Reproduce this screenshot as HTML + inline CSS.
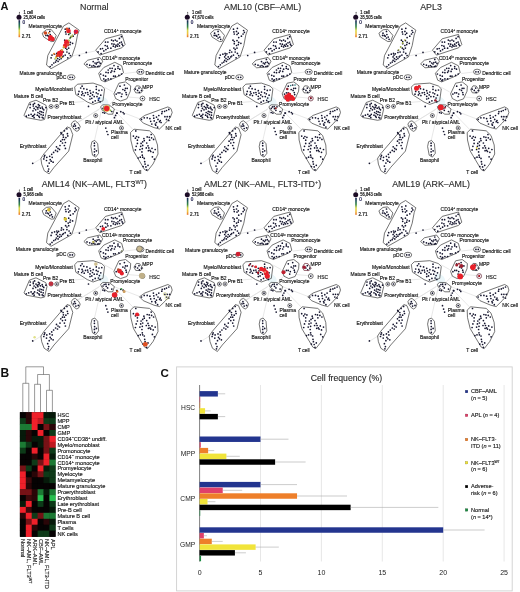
<!DOCTYPE html>
<html><head><meta charset="utf-8"><style>
html,body{margin:0;padding:0;background:#fff;}
svg{display:block;filter:blur(0.45px);}
</style></head><body>
<svg width="520" height="592" viewBox="0 0 520 592" font-family='"Liberation Sans", sans-serif'>
<rect width="520" height="592" fill="#fff"/>
<text x="0.5" y="10.3" font-family='"Liberation Sans", sans-serif' font-weight="bold" font-size="11" fill="#111">A</text>
<g transform="translate(0,0)">
<g stroke="#dedede" stroke-width="0.7" fill="none">
<line x1="101.5" y1="110" x2="94.6" y2="140"/>
<line x1="100" y1="108.5" x2="78" y2="122.5"/>
<line x1="99" y1="109.5" x2="68" y2="128"/>
<line x1="116" y1="112" x2="133" y2="129.5"/>
<line x1="112" y1="113" x2="120.5" y2="126"/>
<line x1="114" y1="109" x2="140" y2="119"/>
<line x1="60" y1="103.5" x2="84" y2="101.5"/>
<line x1="124.5" y1="73.5" x2="136.8" y2="72"/>
<line x1="110" y1="104" x2="116" y2="98"/>
<line x1="128" y1="97" x2="140" y2="98"/>
<line x1="104" y1="87" x2="113" y2="92"/>
<line x1="72" y1="56" x2="95" y2="51"/>
<line x1="42" y1="158" x2="33" y2="163.5"/>
</g>
<ellipse cx="103" cy="101" rx="6" ry="4" fill="#eaf6f9" transform="rotate(35 103 101)"/>
<g stroke="#3a3a3a" stroke-width="0.7" fill="none" stroke-linejoin="round">
<polygon points="42.2,33.2 46.3,29.8 51,29.3 56.2,35.4 54,41.3 51.2,41.6 43.7,37"/>
<polygon points="68.9,22.9 79.2,30.2 77.5,35 75.5,45.6 71.7,57 51,68.7 46.5,65 47.8,55.5 63.5,26"/>
<polygon points="95.7,50.2 105.5,38.8 121.8,34.4 125.1,44.5 121.8,47.8 99.8,55.1"/>
<polygon points="83.9,63.9 87.7,60.2 99.8,57.4 102.7,61.2 99.8,66.9 88.3,67.8"/>
<polygon points="98.7,73.3 103.8,67.5 114.8,62.3 121.7,65.8 123.5,72.7 120,75.6 105,81.9 101,80.2"/>
<polygon points="113.9,93.8 118.9,83.2 125.5,81.9 130.7,85.9 130.3,91.2 126.8,98.9 120.5,101 115.7,98.6"/>
<polygon points="134,89.5 136.4,85.8 139.5,86 142.8,90.6 140.7,93 135.7,92.8"/>
<polygon points="74.6,87.1 77.5,84.2 93.1,83.1 101.7,86 104.6,88.8 103,100.8 93.1,104.4 87.3,102 75.8,94.6"/>
<polygon points="100.6,106.7 102.9,104.8 109.2,105 114.4,109 112.7,114.2 108.1,114.2 101.7,109.6"/>
<polygon points="24,115.3 29.5,102.5 36,100.2 45.8,105.1 47,109 44.5,119.5 40.9,120.3 26,117.5"/>
<polygon points="71.2,124.1 73,121.5 75.3,120.8 78.5,123.5 80.2,126.5 79,130 76.9,131.4 74.5,130 72,126.5"/>
<polygon points="40.9,158.4 44.2,153.5 67.1,126.9 70.3,128.2 72.8,134.7 68.7,151.1 54,167.4 49.1,173.9 44.2,170.7 41.7,164.1"/>
<polygon points="91.9,141.7 94.8,140.4 97.7,143.7 98.6,153.3 95.7,157.1 92.5,155.2 90.9,146.5"/>
<polygon points="130.5,132.5 134,129.2 149.5,130.8 154.3,135.5 157.5,145 158,154 153,164 147.5,171 144.5,169.5 133.5,151 130.8,140"/>
<polygon points="139.5,119.2 144.8,115.4 167.9,106.9 171,108.6 172.2,112.5 170.3,117.5 165.6,123 159.5,129 154,127.6 143.3,123.1"/>
<ellipse cx="140.4" cy="71.8" rx="3.6" ry="2.6"/>
<ellipse cx="71.2" cy="77.3" rx="3.8" ry="2.6"/>
<circle cx="142.5" cy="98.5" r="2.4"/>
<circle cx="51.1" cy="106.5" r="2.0"/>
<circle cx="56.8" cy="106.4" r="2.0"/>
<circle cx="95.7" cy="115.6" r="2.0"/>
<circle cx="121.5" cy="128.0" r="2.0"/>
</g>
<g fill="#15152e">
<circle cx="94.4" cy="143.2" r="0.85"/>
<circle cx="94.4" cy="145.7" r="0.85"/>
<circle cx="94.6" cy="149" r="0.85"/>
<circle cx="94.4" cy="151.8" r="0.85"/>
<circle cx="94.6" cy="154.8" r="0.85"/>
<circle cx="96.4" cy="150.8" r="0.85"/>
<circle cx="66.9" cy="128.8" r="0.85"/>
<circle cx="64.4" cy="130.8" r="0.85"/>
<circle cx="61.5" cy="133.7" r="0.85"/>
<circle cx="62.5" cy="143" r="0.85"/>
<circle cx="60" cy="145.5" r="0.85"/>
<circle cx="58" cy="148.4" r="0.85"/>
<circle cx="55.6" cy="150.4" r="0.85"/>
<circle cx="53.6" cy="152.4" r="0.85"/>
<circle cx="51.7" cy="154.3" r="0.85"/>
<circle cx="49.7" cy="156.3" r="0.85"/>
<circle cx="46.8" cy="157.3" r="0.85"/>
<circle cx="44.3" cy="156.8" r="0.85"/>
<circle cx="43.8" cy="158.9" r="0.85"/>
<circle cx="50.2" cy="159.7" r="0.85"/>
<circle cx="49.2" cy="163.1" r="0.85"/>
<circle cx="47.7" cy="166.1" r="0.85"/>
<circle cx="48.7" cy="169" r="0.85"/>
<circle cx="48.2" cy="171.2" r="0.85"/>
<circle cx="67.4" cy="133.7" r="0.85"/>
<circle cx="67.8" cy="135.9" r="0.85"/>
<circle cx="65.9" cy="137.6" r="0.85"/>
<circle cx="64.4" cy="139.6" r="0.85"/>
<circle cx="65.4" cy="142.5" r="0.85"/>
<circle cx="64.4" cy="145.5" r="0.85"/>
<circle cx="65.4" cy="148.4" r="0.85"/>
<circle cx="61" cy="132.7" r="0.85"/>
<circle cx="63.4" cy="137.2" r="0.85"/>
<circle cx="62.5" cy="139.6" r="0.85"/>
<circle cx="44.8" cy="155.3" r="0.85"/>
<circle cx="52.2" cy="157.3" r="0.85"/>
<circle cx="53.1" cy="162.2" r="0.85"/>
<circle cx="51.2" cy="161.2" r="0.85"/>
<circle cx="57.5" cy="151.4" r="0.85"/>
<circle cx="59.5" cy="149.4" r="0.85"/>
<circle cx="46.5" cy="160.5" r="0.85"/>
<circle cx="56.5" cy="146.8" r="0.85"/>
<circle cx="60.8" cy="141.2" r="0.85"/>
<circle cx="63.1" cy="134.9" r="0.85"/>
<circle cx="65.2" cy="29.2" r="0.85"/>
<circle cx="69.1" cy="28.3" r="0.85"/>
<circle cx="65.6" cy="31.9" r="0.85"/>
<circle cx="68.2" cy="31.4" r="0.85"/>
<circle cx="70" cy="33.2" r="0.85"/>
<circle cx="66" cy="34" r="0.85"/>
<circle cx="68.7" cy="34.5" r="0.85"/>
<circle cx="75.3" cy="30.5" r="0.85"/>
<circle cx="76.1" cy="32.3" r="0.85"/>
<circle cx="74.8" cy="34" r="0.85"/>
<circle cx="73.1" cy="36.2" r="0.85"/>
<circle cx="70.4" cy="37.6" r="0.85"/>
<circle cx="64.7" cy="40.2" r="0.85"/>
<circle cx="66" cy="41.5" r="0.85"/>
<circle cx="68.7" cy="40.6" r="0.85"/>
<circle cx="70.4" cy="42.4" r="0.85"/>
<circle cx="72.6" cy="43.3" r="0.85"/>
<circle cx="66" cy="43.7" r="0.85"/>
<circle cx="68.2" cy="45.5" r="0.85"/>
<circle cx="70" cy="44.6" r="0.85"/>
<circle cx="65.6" cy="48.1" r="0.85"/>
<circle cx="66.9" cy="49.4" r="0.85"/>
<circle cx="68.7" cy="48.1" r="0.85"/>
<circle cx="61.6" cy="50.3" r="0.85"/>
<circle cx="63.4" cy="52" r="0.85"/>
<circle cx="61.2" cy="52.5" r="0.85"/>
<circle cx="66.9" cy="52" r="0.85"/>
<circle cx="69.1" cy="53.4" r="0.85"/>
<circle cx="70.4" cy="55.6" r="0.85"/>
<circle cx="67.8" cy="57.8" r="0.85"/>
<circle cx="65.2" cy="55.1" r="0.85"/>
<circle cx="63.4" cy="56" r="0.85"/>
<circle cx="58.6" cy="53.8" r="0.85"/>
<circle cx="57.3" cy="55.1" r="0.85"/>
<circle cx="56.4" cy="56.9" r="0.85"/>
<circle cx="54.6" cy="54.2" r="0.85"/>
<circle cx="52" cy="55.1" r="0.85"/>
<circle cx="51.1" cy="57.8" r="0.85"/>
<circle cx="57.7" cy="58.6" r="0.85"/>
<circle cx="59.5" cy="59.5" r="0.85"/>
<circle cx="61.2" cy="58.6" r="0.85"/>
<circle cx="56.4" cy="60.4" r="0.85"/>
<circle cx="55.5" cy="62.1" r="0.85"/>
<circle cx="53.8" cy="63" r="0.85"/>
<circle cx="52" cy="64.8" r="0.85"/>
<circle cx="50.2" cy="66.5" r="0.85"/>
<circle cx="58.1" cy="61.3" r="0.85"/>
<circle cx="62.5" cy="56.9" r="0.85"/>
<circle cx="59.9" cy="56.9" r="0.85"/>
<circle cx="56.8" cy="53.4" r="0.85"/>
<circle cx="46.3" cy="33.2" r="0.85"/>
<circle cx="49.8" cy="31.4" r="0.85"/>
<circle cx="47.6" cy="35.4" r="0.85"/>
<circle cx="50.2" cy="34.5" r="0.85"/>
<circle cx="51.5" cy="37.1" r="0.85"/>
<circle cx="45.9" cy="35.4" r="0.85"/>
<circle cx="49.8" cy="38" r="0.85"/>
<circle cx="52.4" cy="39.3" r="0.85"/>
<circle cx="48.5" cy="36.2" r="0.85"/>
<circle cx="105.5" cy="42.1" r="0.85"/>
<circle cx="107.9" cy="42.1" r="0.85"/>
<circle cx="105.2" cy="45.5" r="0.85"/>
<circle cx="107.2" cy="46.2" r="0.85"/>
<circle cx="107.9" cy="48.2" r="0.85"/>
<circle cx="105.9" cy="49.6" r="0.85"/>
<circle cx="103.8" cy="50.9" r="0.85"/>
<circle cx="102.5" cy="48.5" r="0.85"/>
<circle cx="100.5" cy="48.9" r="0.85"/>
<circle cx="98.1" cy="51.9" r="0.85"/>
<circle cx="101.1" cy="53.6" r="0.85"/>
<circle cx="111.6" cy="40.1" r="0.85"/>
<circle cx="113.3" cy="40.8" r="0.85"/>
<circle cx="115.3" cy="40.1" r="0.85"/>
<circle cx="117" cy="41.1" r="0.85"/>
<circle cx="119.4" cy="38.4" r="0.85"/>
<circle cx="121.4" cy="36.7" r="0.85"/>
<circle cx="111.9" cy="43.8" r="0.85"/>
<circle cx="114" cy="44.2" r="0.85"/>
<circle cx="116" cy="45.2" r="0.85"/>
<circle cx="118" cy="44.2" r="0.85"/>
<circle cx="119.7" cy="42.8" r="0.85"/>
<circle cx="121.4" cy="42.1" r="0.85"/>
<circle cx="122.1" cy="44.2" r="0.85"/>
<circle cx="122.8" cy="45.5" r="0.85"/>
<circle cx="113.3" cy="46.2" r="0.85"/>
<circle cx="115.3" cy="46.9" r="0.85"/>
<circle cx="110.9" cy="48.2" r="0.85"/>
<circle cx="119.4" cy="45.9" r="0.85"/>
<circle cx="117.3" cy="46.2" r="0.85"/>
<circle cx="82.1" cy="86.2" r="0.85"/>
<circle cx="80.7" cy="88" r="0.85"/>
<circle cx="83.8" cy="88.7" r="0.85"/>
<circle cx="86.9" cy="89.3" r="0.85"/>
<circle cx="79" cy="91.4" r="0.85"/>
<circle cx="82.1" cy="91.8" r="0.85"/>
<circle cx="85.5" cy="92.8" r="0.85"/>
<circle cx="78.3" cy="94.2" r="0.85"/>
<circle cx="81.7" cy="94.9" r="0.85"/>
<circle cx="84.2" cy="95.6" r="0.85"/>
<circle cx="88" cy="94.5" r="0.85"/>
<circle cx="90" cy="90.7" r="0.85"/>
<circle cx="90.7" cy="93.2" r="0.85"/>
<circle cx="93.2" cy="92.1" r="0.85"/>
<circle cx="92.5" cy="94.9" r="0.85"/>
<circle cx="90" cy="96.3" r="0.85"/>
<circle cx="94.2" cy="96.6" r="0.85"/>
<circle cx="91.8" cy="98.3" r="0.85"/>
<circle cx="90" cy="99" r="0.85"/>
<circle cx="96.3" cy="86.6" r="0.85"/>
<circle cx="96.3" cy="89.3" r="0.85"/>
<circle cx="99" cy="90.4" r="0.85"/>
<circle cx="101.8" cy="90" r="0.85"/>
<circle cx="96.3" cy="92.8" r="0.85"/>
<circle cx="98" cy="93.8" r="0.85"/>
<circle cx="100.8" cy="95.2" r="0.85"/>
<circle cx="97" cy="96.6" r="0.85"/>
<circle cx="99.4" cy="98" r="0.85"/>
<circle cx="98.4" cy="100.4" r="0.85"/>
<circle cx="100.1" cy="101.8" r="0.85"/>
<circle cx="92.8" cy="102.2" r="0.85"/>
<circle cx="95.2" cy="100.8" r="0.85"/>
<circle cx="87.6" cy="92.5" r="0.85"/>
<circle cx="82.8" cy="93.5" r="0.85"/>
<circle cx="135.8" cy="130.9" r="0.85"/>
<circle cx="133.4" cy="136.1" r="0.85"/>
<circle cx="136.6" cy="136.5" r="0.85"/>
<circle cx="138.6" cy="137.3" r="0.85"/>
<circle cx="135.4" cy="138.2" r="0.85"/>
<circle cx="137.4" cy="140.2" r="0.85"/>
<circle cx="137.4" cy="143.4" r="0.85"/>
<circle cx="136.2" cy="146.3" r="0.85"/>
<circle cx="135.4" cy="149.9" r="0.85"/>
<circle cx="139.9" cy="149.5" r="0.85"/>
<circle cx="140.7" cy="146.3" r="0.85"/>
<circle cx="141.1" cy="143.4" r="0.85"/>
<circle cx="142.7" cy="141.8" r="0.85"/>
<circle cx="144.3" cy="140.6" r="0.85"/>
<circle cx="143.9" cy="138.6" r="0.85"/>
<circle cx="147.2" cy="136.9" r="0.85"/>
<circle cx="149.2" cy="137.3" r="0.85"/>
<circle cx="151.2" cy="134.5" r="0.85"/>
<circle cx="151.6" cy="137.8" r="0.85"/>
<circle cx="153.6" cy="139.4" r="0.85"/>
<circle cx="149.6" cy="140.2" r="0.85"/>
<circle cx="146.7" cy="143" r="0.85"/>
<circle cx="142.7" cy="145.4" r="0.85"/>
<circle cx="142.3" cy="148.7" r="0.85"/>
<circle cx="148" cy="145.8" r="0.85"/>
<circle cx="146.3" cy="147.9" r="0.85"/>
<circle cx="148.8" cy="147.9" r="0.85"/>
<circle cx="150" cy="150.3" r="0.85"/>
<circle cx="152" cy="148.3" r="0.85"/>
<circle cx="155.2" cy="149.5" r="0.85"/>
<circle cx="153.2" cy="152.3" r="0.85"/>
<circle cx="150.8" cy="151.5" r="0.85"/>
<circle cx="148.4" cy="150.7" r="0.85"/>
<circle cx="141.9" cy="151.9" r="0.85"/>
<circle cx="142.3" cy="155.2" r="0.85"/>
<circle cx="140.3" cy="157.2" r="0.85"/>
<circle cx="142.7" cy="157.2" r="0.85"/>
<circle cx="144.3" cy="158.4" r="0.85"/>
<circle cx="152.4" cy="156.8" r="0.85"/>
<circle cx="154.4" cy="159.2" r="0.85"/>
<circle cx="144.7" cy="161.7" r="0.85"/>
<circle cx="145.1" cy="164.1" r="0.85"/>
<circle cx="148" cy="165.3" r="0.85"/>
<circle cx="145.9" cy="166.9" r="0.85"/>
<circle cx="143.1" cy="166.5" r="0.85"/>
<circle cx="146.7" cy="169.8" r="0.85"/>
<circle cx="138.2" cy="158" r="0.85"/>
<circle cx="141.5" cy="119.4" r="0.85"/>
<circle cx="144.2" cy="117.8" r="0.85"/>
<circle cx="147.2" cy="117.8" r="0.85"/>
<circle cx="149.9" cy="118.6" r="0.85"/>
<circle cx="153.4" cy="115.5" r="0.85"/>
<circle cx="153.8" cy="118.2" r="0.85"/>
<circle cx="156.5" cy="117.1" r="0.85"/>
<circle cx="158.8" cy="115.5" r="0.85"/>
<circle cx="161.8" cy="113.6" r="0.85"/>
<circle cx="162.2" cy="111.7" r="0.85"/>
<circle cx="164.6" cy="111.3" r="0.85"/>
<circle cx="166.5" cy="110.5" r="0.85"/>
<circle cx="168.8" cy="109.4" r="0.85"/>
<circle cx="164.9" cy="116.7" r="0.85"/>
<circle cx="167.2" cy="116.7" r="0.85"/>
<circle cx="169.6" cy="116.7" r="0.85"/>
<circle cx="166.5" cy="119.4" r="0.85"/>
<circle cx="168.8" cy="120.5" r="0.85"/>
<circle cx="158" cy="119.4" r="0.85"/>
<circle cx="160.3" cy="120.5" r="0.85"/>
<circle cx="161.1" cy="122.5" r="0.85"/>
<circle cx="154.2" cy="120.9" r="0.85"/>
<circle cx="156.5" cy="122.5" r="0.85"/>
<circle cx="150.7" cy="121.3" r="0.85"/>
<circle cx="151.8" cy="124" r="0.85"/>
<circle cx="155.3" cy="124" r="0.85"/>
<circle cx="157.6" cy="127.1" r="0.85"/>
<circle cx="155.7" cy="125.2" r="0.85"/>
<circle cx="159.6" cy="121.7" r="0.85"/>
<circle cx="30.3" cy="104.4" r="0.85"/>
<circle cx="33.3" cy="104.4" r="0.85"/>
<circle cx="34.6" cy="103.3" r="0.85"/>
<circle cx="33.3" cy="106" r="0.85"/>
<circle cx="36" cy="106.5" r="0.85"/>
<circle cx="38.4" cy="104.7" r="0.85"/>
<circle cx="39.5" cy="105.5" r="0.85"/>
<circle cx="38.9" cy="107.1" r="0.85"/>
<circle cx="37.3" cy="107.6" r="0.85"/>
<circle cx="40.5" cy="108.2" r="0.85"/>
<circle cx="42.2" cy="107.1" r="0.85"/>
<circle cx="42.7" cy="108.7" r="0.85"/>
<circle cx="43.8" cy="109.8" r="0.85"/>
<circle cx="45.9" cy="107.6" r="0.85"/>
<circle cx="30.1" cy="107.6" r="0.85"/>
<circle cx="34.1" cy="108.4" r="0.85"/>
<circle cx="37.9" cy="109" r="0.85"/>
<circle cx="40" cy="111.4" r="0.85"/>
<circle cx="37.9" cy="112.5" r="0.85"/>
<circle cx="39.5" cy="113.5" r="0.85"/>
<circle cx="41.6" cy="111.9" r="0.85"/>
<circle cx="41.1" cy="114.6" r="0.85"/>
<circle cx="43.2" cy="115.2" r="0.85"/>
<circle cx="42.2" cy="117.3" r="0.85"/>
<circle cx="43.2" cy="118.1" r="0.85"/>
<circle cx="38.9" cy="116.2" r="0.85"/>
<circle cx="37.3" cy="115.2" r="0.85"/>
<circle cx="34.6" cy="114.3" r="0.85"/>
<circle cx="33.5" cy="115.7" r="0.85"/>
<circle cx="32.5" cy="116.2" r="0.85"/>
<circle cx="31.1" cy="114.3" r="0.85"/>
<circle cx="28.7" cy="115.2" r="0.85"/>
<circle cx="26.3" cy="116.2" r="0.85"/>
<circle cx="34.1" cy="117.6" r="0.85"/>
<circle cx="39.5" cy="117.3" r="0.85"/>
<circle cx="35.7" cy="109.8" r="0.85"/>
<circle cx="33" cy="110.8" r="0.85"/>
<circle cx="43.2" cy="112.5" r="0.85"/>
<circle cx="98.1" cy="59.4" r="0.85"/>
<circle cx="93.2" cy="61.6" r="0.85"/>
<circle cx="95" cy="63" r="0.85"/>
<circle cx="97.2" cy="62.5" r="0.85"/>
<circle cx="99" cy="62.1" r="0.85"/>
<circle cx="100.3" cy="63.4" r="0.85"/>
<circle cx="96.3" cy="63.9" r="0.85"/>
<circle cx="87" cy="64.3" r="0.85"/>
<circle cx="89.7" cy="65.2" r="0.85"/>
<circle cx="91.9" cy="66.1" r="0.85"/>
<circle cx="93.7" cy="65.6" r="0.85"/>
<circle cx="95" cy="66.5" r="0.85"/>
<circle cx="97.6" cy="66.5" r="0.85"/>
<circle cx="99" cy="66.1" r="0.85"/>
<circle cx="114" cy="65.6" r="0.85"/>
<circle cx="118" cy="66.5" r="0.85"/>
<circle cx="110" cy="68.3" r="0.85"/>
<circle cx="112.2" cy="68.3" r="0.85"/>
<circle cx="115.3" cy="69.2" r="0.85"/>
<circle cx="118" cy="68.3" r="0.85"/>
<circle cx="119.8" cy="69.2" r="0.85"/>
<circle cx="108.2" cy="70" r="0.85"/>
<circle cx="111.8" cy="70.9" r="0.85"/>
<circle cx="114.4" cy="71.4" r="0.85"/>
<circle cx="106" cy="72.3" r="0.85"/>
<circle cx="108.2" cy="72.7" r="0.85"/>
<circle cx="110.9" cy="72.3" r="0.85"/>
<circle cx="100.7" cy="74" r="0.85"/>
<circle cx="103.4" cy="75.3" r="0.85"/>
<circle cx="105.6" cy="76.2" r="0.85"/>
<circle cx="113.6" cy="76.2" r="0.85"/>
<circle cx="115.3" cy="76.2" r="0.85"/>
<circle cx="118.9" cy="75.3" r="0.85"/>
<circle cx="121.5" cy="74" r="0.85"/>
<circle cx="103.8" cy="78.9" r="0.85"/>
<circle cx="106" cy="79.8" r="0.85"/>
<circle cx="108.2" cy="78.9" r="0.85"/>
<circle cx="110.9" cy="78.9" r="0.85"/>
<circle cx="105.2" cy="80.7" r="0.85"/>
<circle cx="120" cy="86.2" r="0.85"/>
<circle cx="124.4" cy="85" r="0.85"/>
<circle cx="122.9" cy="89.5" r="0.85"/>
<circle cx="121.4" cy="96.5" r="0.85"/>
<circle cx="127.2" cy="88.3" r="0.85"/>
<circle cx="118.1" cy="92.8" r="0.85"/>
<circle cx="124.8" cy="90.4" r="0.85"/>
<circle cx="119.9" cy="92.8" r="0.85"/>
<circle cx="126.4" cy="94.6" r="0.85"/>
<circle cx="125.5" cy="88.3" r="0.85"/>
<circle cx="116.2" cy="94.1" r="0.85"/>
<circle cx="126" cy="92.6" r="0.85"/>
<circle cx="122" cy="94" r="0.85"/>
<circle cx="139.4" cy="92.3" r="0.85"/>
<circle cx="137.6" cy="90.4" r="0.85"/>
<circle cx="135.4" cy="89.2" r="0.85"/>
<circle cx="139" cy="88.1" r="0.85"/>
<circle cx="141.5" cy="90.5" r="0.85"/>
<circle cx="107.6" cy="110.3" r="0.85"/>
<circle cx="111.8" cy="111.5" r="0.85"/>
<circle cx="106.2" cy="108.7" r="0.85"/>
<circle cx="104.2" cy="106.9" r="0.85"/>
<circle cx="103" cy="108.4" r="0.85"/>
<circle cx="108.7" cy="106.8" r="0.85"/>
<circle cx="105.9" cy="106.6" r="0.85"/>
<circle cx="75.4" cy="125.9" r="0.85"/>
<circle cx="74.6" cy="124.1" r="0.85"/>
<circle cx="78.3" cy="127.8" r="0.85"/>
<circle cx="75.9" cy="128.5" r="0.85"/>
<circle cx="73.7" cy="126.2" r="0.85"/>
<circle cx="139.2" cy="71.8" r="0.85"/>
<circle cx="141.6" cy="71.8" r="0.85"/>
<circle cx="70" cy="77.3" r="0.85"/>
<circle cx="72.4" cy="77.3" r="0.85"/>
<circle cx="142.5" cy="98.5" r="0.85"/>
<circle cx="51.1" cy="106.5" r="0.85"/>
<circle cx="56.8" cy="106.4" r="0.85"/>
<circle cx="95.7" cy="115.6" r="0.85"/>
<circle cx="121.5" cy="128" r="0.85"/>
<circle cx="79.4" cy="55.5" r="0.85"/>
<circle cx="86.3" cy="52.4" r="0.85"/>
<circle cx="88.5" cy="106.4" r="0.85"/>
<circle cx="102.9" cy="112.5" r="0.85"/>
<circle cx="104.6" cy="113.1" r="0.85"/>
<circle cx="116.7" cy="113.1" r="0.85"/>
<circle cx="115.6" cy="115.4" r="0.85"/>
<circle cx="114.4" cy="117.7" r="0.85"/>
<circle cx="120.8" cy="111.7" r="0.85"/>
<circle cx="123.1" cy="112.5" r="0.85"/>
<circle cx="105.8" cy="128.1" r="0.85"/>
<circle cx="106.9" cy="131.5" r="0.85"/>
<circle cx="107.9" cy="134.5" r="0.85"/>
<circle cx="32.7" cy="163.3" r="0.85"/>
<circle cx="117.1" cy="113.1" r="0.85"/>
<circle cx="124.1" cy="113.8" r="0.85"/>
</g>
<circle cx="45.4" cy="33" r="1.8" fill="#d04a20"/>
<circle cx="50.5" cy="37.5" r="2.4" fill="#e8202a"/>
<circle cx="52.5" cy="39" r="2.2" fill="#e8202a"/>
<circle cx="49.5" cy="39.5" r="1.6" fill="#e8202a"/>
<circle cx="68.5" cy="31" r="2.3" fill="#e8202a"/>
<circle cx="67" cy="29" r="1.4" fill="#e04a2a"/>
<circle cx="76" cy="31.8" r="2.3" fill="#e8202a"/>
<circle cx="75.5" cy="31.5" r="0.9" fill="#a02080"/>
<circle cx="66.7" cy="42.2" r="2.6" fill="#e8202a"/>
<circle cx="65.2" cy="45.7" r="2.3" fill="#e8202a"/>
<circle cx="68" cy="44.5" r="1.4" fill="#e05030"/>
<circle cx="59.8" cy="53.8" r="3.0" fill="#e8202a"/>
<circle cx="61.5" cy="51.5" r="2.0" fill="#e8202a"/>
<circle cx="57.5" cy="55.5" r="1.6" fill="#e04020"/>
<circle cx="71" cy="36.5" r="0.9" fill="#7ab040"/>
<circle cx="72.5" cy="35" r="0.8" fill="#b0c040"/>
<circle cx="63.5" cy="47.5" r="0.9" fill="#9ab840"/>
<circle cx="62" cy="50" r="0.9" fill="#e0c040"/>
<circle cx="70" cy="38.5" r="0.8" fill="#60a050"/>
<circle cx="56" cy="57.5" r="0.9" fill="#e0b040"/>
<circle cx="55" cy="59" r="0.8" fill="#70a850"/>
<circle cx="69.6" cy="33.6" r="0.9" fill="#58a048"/>
<circle cx="71.9" cy="36.5" r="0.9" fill="#a0a840"/>
<circle cx="69" cy="40.5" r="0.9" fill="#c8c840"/>
<circle cx="63.8" cy="46.8" r="1.0" fill="#f09030"/>
<circle cx="61.5" cy="57.2" r="1.0" fill="#f0b030"/>
<circle cx="55.8" cy="57.8" r="0.9" fill="#e8d040"/>
<circle cx="54" cy="53.8" r="1.0" fill="#f08030"/>
<circle cx="48.8" cy="33" r="0.9" fill="#e08030"/>
<circle cx="106.7" cy="108.5" r="3.2" fill="#f0c040"/>
<circle cx="106.7" cy="108.5" r="2.7" fill="#e8202a"/>
<circle cx="110.5" cy="110.5" r="0.9" fill="#80b040"/>
<circle cx="103.5" cy="110" r="0.8" fill="#80b040"/>
<circle cx="98.6" cy="98.7" r="1.0" fill="#2040a0"/>
<g font-size="5.35" fill="#1a1a1a" stroke="#1a1a1a" stroke-width="0.17" font-family='"Liberation Sans", sans-serif'>
<text transform="translate(28.6,27.8) scale(0.935,1)">Metamyelocyte</text>
<text transform="translate(103.9,33.1) scale(0.935,1)">CD14<tspan dy="-1.8" font-size="3.4">+</tspan><tspan dy="1.8"> monocyte</tspan></text>
<text transform="translate(102,59.8) scale(0.935,1)">CD14<tspan dy="-1.8" font-size="3.4">lo</tspan><tspan dy="1.8"> monocyte</tspan></text>
<text transform="translate(122.9,64.5) scale(0.935,1)">Promonocyte</text>
<text transform="translate(145.5,75) scale(0.935,1)">Dendritic cell</text>
<text transform="translate(19.6,74.5) scale(0.935,1)">Mature granulocyte</text>
<text transform="translate(56.4,79.4) scale(0.935,1)">pDC</text>
<text transform="translate(125.3,80.8) scale(0.935,1)">Progenitor</text>
<text transform="translate(142.2,88.5) scale(0.935,1)">MPP</text>
<text transform="translate(35.2,91.2) scale(0.935,1)">Myelo/Monoblast</text>
<text transform="translate(13.8,97.9) scale(0.935,1)">Mature B cell</text>
<text transform="translate(43,102) scale(0.935,1)">Pre B2</text>
<text transform="translate(59.5,105.2) scale(0.935,1)">Pre B1</text>
<text transform="translate(149.3,101) scale(0.935,1)">HSC</text>
<text transform="translate(112.3,105.8) scale(0.935,1)">Promyelocyte</text>
<text transform="translate(47.6,119.2) scale(0.935,1)">Proerythroblast</text>
<text transform="translate(85.2,123.7) scale(0.935,1)">Plt / atypical AML</text>
<text transform="translate(165.6,129.8) scale(0.935,1)">NK cell</text>
<text transform="translate(111.1,134.3) scale(0.935,1)">Plasma</text>
<text transform="translate(111.1,138.9) scale(0.935,1)">cell</text>
<text transform="translate(19.7,147.8) scale(0.935,1)">Erythroblast</text>
<text transform="translate(83.2,161.5) scale(0.935,1)">Basophil</text>
<text transform="translate(129.6,174.4) scale(0.935,1)">T cell</text>
</g>
<defs><linearGradient id="cb25804" x1="0" y1="0" x2="0" y2="1"><stop offset="0" stop-color="#1a1a50"/><stop offset="0.2" stop-color="#1d5a5a"/><stop offset="0.4" stop-color="#3a8a40"/><stop offset="0.6" stop-color="#d8d848"/><stop offset="0.8" stop-color="#f0c040"/><stop offset="1" stop-color="#e8702a"/></linearGradient></defs>
<line x1="19.4" y1="12.2" x2="19.4" y2="15" stroke="#222" stroke-width="0.5"/>
<circle cx="19.4" cy="12.3" r="0.45" fill="#222"/>
<circle cx="19.0" cy="17.2" r="2.5" fill="#1c0c26"/>
<rect x="18.5" y="20.2" width="1.6" height="17" fill="url(#cb25804)"/>
<g font-family='"Liberation Sans", sans-serif' font-size="4.2" fill="#1a1a1a" stroke="#1a1a1a" stroke-width="0.22">
<text transform="translate(23.6,13.8) scale(0.86,1)" font-size="4.7">1 cell</text>
<text transform="translate(23.6,18.8) scale(0.86,1)" font-size="4.7">25,804 cells</text>
<text x="22.5" y="23.8" font-size="4.6" fill="#33339a">0</text>
<text x="21.8" y="38.2" font-size="4.6" fill="#333">2.71</text>
</g>
<text x="94.3" y="9.5" text-anchor="middle" font-family='"Liberation Sans", sans-serif' font-size="8.85" fill="#2a2a2a" stroke="#2a2a2a" stroke-width="0.12">Normal</text>
</g>
<g transform="translate(168.3,0)">
<g stroke="#dedede" stroke-width="0.7" fill="none">
<line x1="101.5" y1="110" x2="94.6" y2="140"/>
<line x1="100" y1="108.5" x2="78" y2="122.5"/>
<line x1="99" y1="109.5" x2="68" y2="128"/>
<line x1="116" y1="112" x2="133" y2="129.5"/>
<line x1="112" y1="113" x2="120.5" y2="126"/>
<line x1="114" y1="109" x2="140" y2="119"/>
<line x1="60" y1="103.5" x2="84" y2="101.5"/>
<line x1="124.5" y1="73.5" x2="136.8" y2="72"/>
<line x1="110" y1="104" x2="116" y2="98"/>
<line x1="128" y1="97" x2="140" y2="98"/>
<line x1="104" y1="87" x2="113" y2="92"/>
<line x1="72" y1="56" x2="95" y2="51"/>
<line x1="42" y1="158" x2="33" y2="163.5"/>
</g>
<ellipse cx="103" cy="101" rx="6" ry="4" fill="#eaf6f9" transform="rotate(35 103 101)"/>
<g stroke="#3a3a3a" stroke-width="0.7" fill="none" stroke-linejoin="round">
<polygon points="42.2,33.2 46.3,29.8 51,29.3 56.2,35.4 54,41.3 51.2,41.6 43.7,37"/>
<polygon points="68.9,22.9 79.2,30.2 77.5,35 75.5,45.6 71.7,57 51,68.7 46.5,65 47.8,55.5 63.5,26"/>
<polygon points="95.7,50.2 105.5,38.8 121.8,34.4 125.1,44.5 121.8,47.8 99.8,55.1"/>
<polygon points="83.9,63.9 87.7,60.2 99.8,57.4 102.7,61.2 99.8,66.9 88.3,67.8"/>
<polygon points="98.7,73.3 103.8,67.5 114.8,62.3 121.7,65.8 123.5,72.7 120,75.6 105,81.9 101,80.2"/>
<polygon points="113.9,93.8 118.9,83.2 125.5,81.9 130.7,85.9 130.3,91.2 126.8,98.9 120.5,101 115.7,98.6"/>
<polygon points="134,89.5 136.4,85.8 139.5,86 142.8,90.6 140.7,93 135.7,92.8"/>
<polygon points="74.6,87.1 77.5,84.2 93.1,83.1 101.7,86 104.6,88.8 103,100.8 93.1,104.4 87.3,102 75.8,94.6"/>
<polygon points="100.6,106.7 102.9,104.8 109.2,105 114.4,109 112.7,114.2 108.1,114.2 101.7,109.6"/>
<polygon points="24,115.3 29.5,102.5 36,100.2 45.8,105.1 47,109 44.5,119.5 40.9,120.3 26,117.5"/>
<polygon points="71.2,124.1 73,121.5 75.3,120.8 78.5,123.5 80.2,126.5 79,130 76.9,131.4 74.5,130 72,126.5"/>
<polygon points="40.9,158.4 44.2,153.5 67.1,126.9 70.3,128.2 72.8,134.7 68.7,151.1 54,167.4 49.1,173.9 44.2,170.7 41.7,164.1"/>
<polygon points="91.9,141.7 94.8,140.4 97.7,143.7 98.6,153.3 95.7,157.1 92.5,155.2 90.9,146.5"/>
<polygon points="130.5,132.5 134,129.2 149.5,130.8 154.3,135.5 157.5,145 158,154 153,164 147.5,171 144.5,169.5 133.5,151 130.8,140"/>
<polygon points="139.5,119.2 144.8,115.4 167.9,106.9 171,108.6 172.2,112.5 170.3,117.5 165.6,123 159.5,129 154,127.6 143.3,123.1"/>
<ellipse cx="140.4" cy="71.8" rx="3.6" ry="2.6"/>
<ellipse cx="71.2" cy="77.3" rx="3.8" ry="2.6"/>
<circle cx="142.5" cy="98.5" r="2.4"/>
<circle cx="51.1" cy="106.5" r="2.0"/>
<circle cx="56.8" cy="106.4" r="2.0"/>
<circle cx="95.7" cy="115.6" r="2.0"/>
<circle cx="121.5" cy="128.0" r="2.0"/>
</g>
<g fill="#15152e">
<circle cx="94.4" cy="143.2" r="0.85"/>
<circle cx="94.4" cy="145.7" r="0.85"/>
<circle cx="94.6" cy="149" r="0.85"/>
<circle cx="94.4" cy="151.8" r="0.85"/>
<circle cx="94.6" cy="154.8" r="0.85"/>
<circle cx="96.4" cy="150.8" r="0.85"/>
<circle cx="66.9" cy="128.8" r="0.85"/>
<circle cx="64.4" cy="130.8" r="0.85"/>
<circle cx="61.5" cy="133.7" r="0.85"/>
<circle cx="62.5" cy="143" r="0.85"/>
<circle cx="60" cy="145.5" r="0.85"/>
<circle cx="58" cy="148.4" r="0.85"/>
<circle cx="55.6" cy="150.4" r="0.85"/>
<circle cx="53.6" cy="152.4" r="0.85"/>
<circle cx="51.7" cy="154.3" r="0.85"/>
<circle cx="49.7" cy="156.3" r="0.85"/>
<circle cx="46.8" cy="157.3" r="0.85"/>
<circle cx="44.3" cy="156.8" r="0.85"/>
<circle cx="43.8" cy="158.9" r="0.85"/>
<circle cx="50.2" cy="159.7" r="0.85"/>
<circle cx="49.2" cy="163.1" r="0.85"/>
<circle cx="47.7" cy="166.1" r="0.85"/>
<circle cx="48.7" cy="169" r="0.85"/>
<circle cx="48.2" cy="171.2" r="0.85"/>
<circle cx="67.4" cy="133.7" r="0.85"/>
<circle cx="67.8" cy="135.9" r="0.85"/>
<circle cx="65.9" cy="137.6" r="0.85"/>
<circle cx="64.4" cy="139.6" r="0.85"/>
<circle cx="65.4" cy="142.5" r="0.85"/>
<circle cx="64.4" cy="145.5" r="0.85"/>
<circle cx="65.4" cy="148.4" r="0.85"/>
<circle cx="61" cy="132.7" r="0.85"/>
<circle cx="63.4" cy="137.2" r="0.85"/>
<circle cx="62.5" cy="139.6" r="0.85"/>
<circle cx="44.8" cy="155.3" r="0.85"/>
<circle cx="52.2" cy="157.3" r="0.85"/>
<circle cx="53.1" cy="162.2" r="0.85"/>
<circle cx="51.2" cy="161.2" r="0.85"/>
<circle cx="57.5" cy="151.4" r="0.85"/>
<circle cx="59.5" cy="149.4" r="0.85"/>
<circle cx="46.5" cy="160.5" r="0.85"/>
<circle cx="56.5" cy="146.8" r="0.85"/>
<circle cx="60.8" cy="141.2" r="0.85"/>
<circle cx="63.1" cy="134.9" r="0.85"/>
<circle cx="65.2" cy="29.2" r="0.85"/>
<circle cx="69.1" cy="28.3" r="0.85"/>
<circle cx="65.6" cy="31.9" r="0.85"/>
<circle cx="68.2" cy="31.4" r="0.85"/>
<circle cx="70" cy="33.2" r="0.85"/>
<circle cx="66" cy="34" r="0.85"/>
<circle cx="68.7" cy="34.5" r="0.85"/>
<circle cx="75.3" cy="30.5" r="0.85"/>
<circle cx="76.1" cy="32.3" r="0.85"/>
<circle cx="74.8" cy="34" r="0.85"/>
<circle cx="73.1" cy="36.2" r="0.85"/>
<circle cx="70.4" cy="37.6" r="0.85"/>
<circle cx="64.7" cy="40.2" r="0.85"/>
<circle cx="66" cy="41.5" r="0.85"/>
<circle cx="68.7" cy="40.6" r="0.85"/>
<circle cx="70.4" cy="42.4" r="0.85"/>
<circle cx="72.6" cy="43.3" r="0.85"/>
<circle cx="66" cy="43.7" r="0.85"/>
<circle cx="68.2" cy="45.5" r="0.85"/>
<circle cx="70" cy="44.6" r="0.85"/>
<circle cx="65.6" cy="48.1" r="0.85"/>
<circle cx="66.9" cy="49.4" r="0.85"/>
<circle cx="68.7" cy="48.1" r="0.85"/>
<circle cx="61.6" cy="50.3" r="0.85"/>
<circle cx="63.4" cy="52" r="0.85"/>
<circle cx="61.2" cy="52.5" r="0.85"/>
<circle cx="66.9" cy="52" r="0.85"/>
<circle cx="69.1" cy="53.4" r="0.85"/>
<circle cx="70.4" cy="55.6" r="0.85"/>
<circle cx="67.8" cy="57.8" r="0.85"/>
<circle cx="65.2" cy="55.1" r="0.85"/>
<circle cx="63.4" cy="56" r="0.85"/>
<circle cx="58.6" cy="53.8" r="0.85"/>
<circle cx="57.3" cy="55.1" r="0.85"/>
<circle cx="56.4" cy="56.9" r="0.85"/>
<circle cx="54.6" cy="54.2" r="0.85"/>
<circle cx="52" cy="55.1" r="0.85"/>
<circle cx="51.1" cy="57.8" r="0.85"/>
<circle cx="57.7" cy="58.6" r="0.85"/>
<circle cx="59.5" cy="59.5" r="0.85"/>
<circle cx="61.2" cy="58.6" r="0.85"/>
<circle cx="56.4" cy="60.4" r="0.85"/>
<circle cx="55.5" cy="62.1" r="0.85"/>
<circle cx="53.8" cy="63" r="0.85"/>
<circle cx="52" cy="64.8" r="0.85"/>
<circle cx="50.2" cy="66.5" r="0.85"/>
<circle cx="58.1" cy="61.3" r="0.85"/>
<circle cx="62.5" cy="56.9" r="0.85"/>
<circle cx="59.9" cy="56.9" r="0.85"/>
<circle cx="56.8" cy="53.4" r="0.85"/>
<circle cx="46.3" cy="33.2" r="0.85"/>
<circle cx="49.8" cy="31.4" r="0.85"/>
<circle cx="47.6" cy="35.4" r="0.85"/>
<circle cx="50.2" cy="34.5" r="0.85"/>
<circle cx="51.5" cy="37.1" r="0.85"/>
<circle cx="45.9" cy="35.4" r="0.85"/>
<circle cx="49.8" cy="38" r="0.85"/>
<circle cx="52.4" cy="39.3" r="0.85"/>
<circle cx="48.5" cy="36.2" r="0.85"/>
<circle cx="105.5" cy="42.1" r="0.85"/>
<circle cx="107.9" cy="42.1" r="0.85"/>
<circle cx="105.2" cy="45.5" r="0.85"/>
<circle cx="107.2" cy="46.2" r="0.85"/>
<circle cx="107.9" cy="48.2" r="0.85"/>
<circle cx="105.9" cy="49.6" r="0.85"/>
<circle cx="103.8" cy="50.9" r="0.85"/>
<circle cx="102.5" cy="48.5" r="0.85"/>
<circle cx="100.5" cy="48.9" r="0.85"/>
<circle cx="98.1" cy="51.9" r="0.85"/>
<circle cx="101.1" cy="53.6" r="0.85"/>
<circle cx="111.6" cy="40.1" r="0.85"/>
<circle cx="113.3" cy="40.8" r="0.85"/>
<circle cx="115.3" cy="40.1" r="0.85"/>
<circle cx="117" cy="41.1" r="0.85"/>
<circle cx="119.4" cy="38.4" r="0.85"/>
<circle cx="121.4" cy="36.7" r="0.85"/>
<circle cx="111.9" cy="43.8" r="0.85"/>
<circle cx="114" cy="44.2" r="0.85"/>
<circle cx="116" cy="45.2" r="0.85"/>
<circle cx="118" cy="44.2" r="0.85"/>
<circle cx="119.7" cy="42.8" r="0.85"/>
<circle cx="121.4" cy="42.1" r="0.85"/>
<circle cx="122.1" cy="44.2" r="0.85"/>
<circle cx="122.8" cy="45.5" r="0.85"/>
<circle cx="113.3" cy="46.2" r="0.85"/>
<circle cx="115.3" cy="46.9" r="0.85"/>
<circle cx="110.9" cy="48.2" r="0.85"/>
<circle cx="119.4" cy="45.9" r="0.85"/>
<circle cx="117.3" cy="46.2" r="0.85"/>
<circle cx="82.1" cy="86.2" r="0.85"/>
<circle cx="80.7" cy="88" r="0.85"/>
<circle cx="83.8" cy="88.7" r="0.85"/>
<circle cx="86.9" cy="89.3" r="0.85"/>
<circle cx="79" cy="91.4" r="0.85"/>
<circle cx="82.1" cy="91.8" r="0.85"/>
<circle cx="85.5" cy="92.8" r="0.85"/>
<circle cx="78.3" cy="94.2" r="0.85"/>
<circle cx="81.7" cy="94.9" r="0.85"/>
<circle cx="84.2" cy="95.6" r="0.85"/>
<circle cx="88" cy="94.5" r="0.85"/>
<circle cx="90" cy="90.7" r="0.85"/>
<circle cx="90.7" cy="93.2" r="0.85"/>
<circle cx="93.2" cy="92.1" r="0.85"/>
<circle cx="92.5" cy="94.9" r="0.85"/>
<circle cx="90" cy="96.3" r="0.85"/>
<circle cx="94.2" cy="96.6" r="0.85"/>
<circle cx="91.8" cy="98.3" r="0.85"/>
<circle cx="90" cy="99" r="0.85"/>
<circle cx="96.3" cy="86.6" r="0.85"/>
<circle cx="96.3" cy="89.3" r="0.85"/>
<circle cx="99" cy="90.4" r="0.85"/>
<circle cx="101.8" cy="90" r="0.85"/>
<circle cx="96.3" cy="92.8" r="0.85"/>
<circle cx="98" cy="93.8" r="0.85"/>
<circle cx="100.8" cy="95.2" r="0.85"/>
<circle cx="97" cy="96.6" r="0.85"/>
<circle cx="99.4" cy="98" r="0.85"/>
<circle cx="98.4" cy="100.4" r="0.85"/>
<circle cx="100.1" cy="101.8" r="0.85"/>
<circle cx="92.8" cy="102.2" r="0.85"/>
<circle cx="95.2" cy="100.8" r="0.85"/>
<circle cx="87.6" cy="92.5" r="0.85"/>
<circle cx="82.8" cy="93.5" r="0.85"/>
<circle cx="135.8" cy="130.9" r="0.85"/>
<circle cx="133.4" cy="136.1" r="0.85"/>
<circle cx="136.6" cy="136.5" r="0.85"/>
<circle cx="138.6" cy="137.3" r="0.85"/>
<circle cx="135.4" cy="138.2" r="0.85"/>
<circle cx="137.4" cy="140.2" r="0.85"/>
<circle cx="137.4" cy="143.4" r="0.85"/>
<circle cx="136.2" cy="146.3" r="0.85"/>
<circle cx="135.4" cy="149.9" r="0.85"/>
<circle cx="139.9" cy="149.5" r="0.85"/>
<circle cx="140.7" cy="146.3" r="0.85"/>
<circle cx="141.1" cy="143.4" r="0.85"/>
<circle cx="142.7" cy="141.8" r="0.85"/>
<circle cx="144.3" cy="140.6" r="0.85"/>
<circle cx="143.9" cy="138.6" r="0.85"/>
<circle cx="147.2" cy="136.9" r="0.85"/>
<circle cx="149.2" cy="137.3" r="0.85"/>
<circle cx="151.2" cy="134.5" r="0.85"/>
<circle cx="151.6" cy="137.8" r="0.85"/>
<circle cx="153.6" cy="139.4" r="0.85"/>
<circle cx="149.6" cy="140.2" r="0.85"/>
<circle cx="146.7" cy="143" r="0.85"/>
<circle cx="142.7" cy="145.4" r="0.85"/>
<circle cx="142.3" cy="148.7" r="0.85"/>
<circle cx="148" cy="145.8" r="0.85"/>
<circle cx="146.3" cy="147.9" r="0.85"/>
<circle cx="148.8" cy="147.9" r="0.85"/>
<circle cx="150" cy="150.3" r="0.85"/>
<circle cx="152" cy="148.3" r="0.85"/>
<circle cx="155.2" cy="149.5" r="0.85"/>
<circle cx="153.2" cy="152.3" r="0.85"/>
<circle cx="150.8" cy="151.5" r="0.85"/>
<circle cx="148.4" cy="150.7" r="0.85"/>
<circle cx="141.9" cy="151.9" r="0.85"/>
<circle cx="142.3" cy="155.2" r="0.85"/>
<circle cx="140.3" cy="157.2" r="0.85"/>
<circle cx="142.7" cy="157.2" r="0.85"/>
<circle cx="144.3" cy="158.4" r="0.85"/>
<circle cx="152.4" cy="156.8" r="0.85"/>
<circle cx="154.4" cy="159.2" r="0.85"/>
<circle cx="144.7" cy="161.7" r="0.85"/>
<circle cx="145.1" cy="164.1" r="0.85"/>
<circle cx="148" cy="165.3" r="0.85"/>
<circle cx="145.9" cy="166.9" r="0.85"/>
<circle cx="143.1" cy="166.5" r="0.85"/>
<circle cx="146.7" cy="169.8" r="0.85"/>
<circle cx="138.2" cy="158" r="0.85"/>
<circle cx="141.5" cy="119.4" r="0.85"/>
<circle cx="144.2" cy="117.8" r="0.85"/>
<circle cx="147.2" cy="117.8" r="0.85"/>
<circle cx="149.9" cy="118.6" r="0.85"/>
<circle cx="153.4" cy="115.5" r="0.85"/>
<circle cx="153.8" cy="118.2" r="0.85"/>
<circle cx="156.5" cy="117.1" r="0.85"/>
<circle cx="158.8" cy="115.5" r="0.85"/>
<circle cx="161.8" cy="113.6" r="0.85"/>
<circle cx="162.2" cy="111.7" r="0.85"/>
<circle cx="164.6" cy="111.3" r="0.85"/>
<circle cx="166.5" cy="110.5" r="0.85"/>
<circle cx="168.8" cy="109.4" r="0.85"/>
<circle cx="164.9" cy="116.7" r="0.85"/>
<circle cx="167.2" cy="116.7" r="0.85"/>
<circle cx="169.6" cy="116.7" r="0.85"/>
<circle cx="166.5" cy="119.4" r="0.85"/>
<circle cx="168.8" cy="120.5" r="0.85"/>
<circle cx="158" cy="119.4" r="0.85"/>
<circle cx="160.3" cy="120.5" r="0.85"/>
<circle cx="161.1" cy="122.5" r="0.85"/>
<circle cx="154.2" cy="120.9" r="0.85"/>
<circle cx="156.5" cy="122.5" r="0.85"/>
<circle cx="150.7" cy="121.3" r="0.85"/>
<circle cx="151.8" cy="124" r="0.85"/>
<circle cx="155.3" cy="124" r="0.85"/>
<circle cx="157.6" cy="127.1" r="0.85"/>
<circle cx="155.7" cy="125.2" r="0.85"/>
<circle cx="159.6" cy="121.7" r="0.85"/>
<circle cx="30.3" cy="104.4" r="0.85"/>
<circle cx="33.3" cy="104.4" r="0.85"/>
<circle cx="34.6" cy="103.3" r="0.85"/>
<circle cx="33.3" cy="106" r="0.85"/>
<circle cx="36" cy="106.5" r="0.85"/>
<circle cx="38.4" cy="104.7" r="0.85"/>
<circle cx="39.5" cy="105.5" r="0.85"/>
<circle cx="38.9" cy="107.1" r="0.85"/>
<circle cx="37.3" cy="107.6" r="0.85"/>
<circle cx="40.5" cy="108.2" r="0.85"/>
<circle cx="42.2" cy="107.1" r="0.85"/>
<circle cx="42.7" cy="108.7" r="0.85"/>
<circle cx="43.8" cy="109.8" r="0.85"/>
<circle cx="45.9" cy="107.6" r="0.85"/>
<circle cx="30.1" cy="107.6" r="0.85"/>
<circle cx="34.1" cy="108.4" r="0.85"/>
<circle cx="37.9" cy="109" r="0.85"/>
<circle cx="40" cy="111.4" r="0.85"/>
<circle cx="37.9" cy="112.5" r="0.85"/>
<circle cx="39.5" cy="113.5" r="0.85"/>
<circle cx="41.6" cy="111.9" r="0.85"/>
<circle cx="41.1" cy="114.6" r="0.85"/>
<circle cx="43.2" cy="115.2" r="0.85"/>
<circle cx="42.2" cy="117.3" r="0.85"/>
<circle cx="43.2" cy="118.1" r="0.85"/>
<circle cx="38.9" cy="116.2" r="0.85"/>
<circle cx="37.3" cy="115.2" r="0.85"/>
<circle cx="34.6" cy="114.3" r="0.85"/>
<circle cx="33.5" cy="115.7" r="0.85"/>
<circle cx="32.5" cy="116.2" r="0.85"/>
<circle cx="31.1" cy="114.3" r="0.85"/>
<circle cx="28.7" cy="115.2" r="0.85"/>
<circle cx="26.3" cy="116.2" r="0.85"/>
<circle cx="34.1" cy="117.6" r="0.85"/>
<circle cx="39.5" cy="117.3" r="0.85"/>
<circle cx="35.7" cy="109.8" r="0.85"/>
<circle cx="33" cy="110.8" r="0.85"/>
<circle cx="43.2" cy="112.5" r="0.85"/>
<circle cx="98.1" cy="59.4" r="0.85"/>
<circle cx="93.2" cy="61.6" r="0.85"/>
<circle cx="95" cy="63" r="0.85"/>
<circle cx="97.2" cy="62.5" r="0.85"/>
<circle cx="99" cy="62.1" r="0.85"/>
<circle cx="100.3" cy="63.4" r="0.85"/>
<circle cx="96.3" cy="63.9" r="0.85"/>
<circle cx="87" cy="64.3" r="0.85"/>
<circle cx="89.7" cy="65.2" r="0.85"/>
<circle cx="91.9" cy="66.1" r="0.85"/>
<circle cx="93.7" cy="65.6" r="0.85"/>
<circle cx="95" cy="66.5" r="0.85"/>
<circle cx="97.6" cy="66.5" r="0.85"/>
<circle cx="99" cy="66.1" r="0.85"/>
<circle cx="114" cy="65.6" r="0.85"/>
<circle cx="118" cy="66.5" r="0.85"/>
<circle cx="110" cy="68.3" r="0.85"/>
<circle cx="112.2" cy="68.3" r="0.85"/>
<circle cx="115.3" cy="69.2" r="0.85"/>
<circle cx="118" cy="68.3" r="0.85"/>
<circle cx="119.8" cy="69.2" r="0.85"/>
<circle cx="108.2" cy="70" r="0.85"/>
<circle cx="111.8" cy="70.9" r="0.85"/>
<circle cx="114.4" cy="71.4" r="0.85"/>
<circle cx="106" cy="72.3" r="0.85"/>
<circle cx="108.2" cy="72.7" r="0.85"/>
<circle cx="110.9" cy="72.3" r="0.85"/>
<circle cx="100.7" cy="74" r="0.85"/>
<circle cx="103.4" cy="75.3" r="0.85"/>
<circle cx="105.6" cy="76.2" r="0.85"/>
<circle cx="113.6" cy="76.2" r="0.85"/>
<circle cx="115.3" cy="76.2" r="0.85"/>
<circle cx="118.9" cy="75.3" r="0.85"/>
<circle cx="121.5" cy="74" r="0.85"/>
<circle cx="103.8" cy="78.9" r="0.85"/>
<circle cx="106" cy="79.8" r="0.85"/>
<circle cx="108.2" cy="78.9" r="0.85"/>
<circle cx="110.9" cy="78.9" r="0.85"/>
<circle cx="105.2" cy="80.7" r="0.85"/>
<circle cx="120" cy="86.2" r="0.85"/>
<circle cx="124.4" cy="85" r="0.85"/>
<circle cx="122.9" cy="89.5" r="0.85"/>
<circle cx="121.4" cy="96.5" r="0.85"/>
<circle cx="127.2" cy="88.3" r="0.85"/>
<circle cx="118.1" cy="92.8" r="0.85"/>
<circle cx="124.8" cy="90.4" r="0.85"/>
<circle cx="119.9" cy="92.8" r="0.85"/>
<circle cx="126.4" cy="94.6" r="0.85"/>
<circle cx="125.5" cy="88.3" r="0.85"/>
<circle cx="116.2" cy="94.1" r="0.85"/>
<circle cx="126" cy="92.6" r="0.85"/>
<circle cx="122" cy="94" r="0.85"/>
<circle cx="139.4" cy="92.3" r="0.85"/>
<circle cx="137.6" cy="90.4" r="0.85"/>
<circle cx="135.4" cy="89.2" r="0.85"/>
<circle cx="139" cy="88.1" r="0.85"/>
<circle cx="141.5" cy="90.5" r="0.85"/>
<circle cx="107.6" cy="110.3" r="0.85"/>
<circle cx="111.8" cy="111.5" r="0.85"/>
<circle cx="106.2" cy="108.7" r="0.85"/>
<circle cx="104.2" cy="106.9" r="0.85"/>
<circle cx="103" cy="108.4" r="0.85"/>
<circle cx="108.7" cy="106.8" r="0.85"/>
<circle cx="105.9" cy="106.6" r="0.85"/>
<circle cx="75.4" cy="125.9" r="0.85"/>
<circle cx="74.6" cy="124.1" r="0.85"/>
<circle cx="78.3" cy="127.8" r="0.85"/>
<circle cx="75.9" cy="128.5" r="0.85"/>
<circle cx="73.7" cy="126.2" r="0.85"/>
<circle cx="139.2" cy="71.8" r="0.85"/>
<circle cx="141.6" cy="71.8" r="0.85"/>
<circle cx="70" cy="77.3" r="0.85"/>
<circle cx="72.4" cy="77.3" r="0.85"/>
<circle cx="142.5" cy="98.5" r="0.85"/>
<circle cx="51.1" cy="106.5" r="0.85"/>
<circle cx="56.8" cy="106.4" r="0.85"/>
<circle cx="95.7" cy="115.6" r="0.85"/>
<circle cx="121.5" cy="128" r="0.85"/>
<circle cx="79.4" cy="55.5" r="0.85"/>
<circle cx="86.3" cy="52.4" r="0.85"/>
<circle cx="88.5" cy="106.4" r="0.85"/>
<circle cx="102.9" cy="112.5" r="0.85"/>
<circle cx="104.6" cy="113.1" r="0.85"/>
<circle cx="116.7" cy="113.1" r="0.85"/>
<circle cx="115.6" cy="115.4" r="0.85"/>
<circle cx="114.4" cy="117.7" r="0.85"/>
<circle cx="120.8" cy="111.7" r="0.85"/>
<circle cx="123.1" cy="112.5" r="0.85"/>
<circle cx="105.8" cy="128.1" r="0.85"/>
<circle cx="106.9" cy="131.5" r="0.85"/>
<circle cx="107.9" cy="134.5" r="0.85"/>
<circle cx="32.7" cy="163.3" r="0.85"/>
<circle cx="117.1" cy="113.1" r="0.85"/>
<circle cx="124.1" cy="113.8" r="0.85"/>
</g>
<circle cx="118.7" cy="97" r="2.8" fill="#e8202a"/>
<circle cx="122.7" cy="97.5" r="2.8" fill="#e8202a"/>
<circle cx="120.7" cy="94.6" r="2.0" fill="#e8202a"/>
<circle cx="124.7" cy="98.8" r="2.2" fill="#e8202a"/>
<circle cx="119.5" cy="99.5" r="2.2" fill="#e8202a"/>
<circle cx="119" cy="89" r="1.3" fill="#8a2030"/>
<circle cx="122.4" cy="85.6" r="0.8" fill="#2a8080"/>
<circle cx="126.7" cy="85.1" r="0.8" fill="#2a8080"/>
<circle cx="142.6" cy="98.1" r="1.0" fill="#8a1020"/>
<circle cx="142.5" cy="98.5" r="2.4" fill="none" stroke="#d07890" stroke-width="0.5"/>
<circle cx="107.5" cy="108.2" r="1.0" fill="#8a2020"/>
<g font-size="5.35" fill="#1a1a1a" stroke="#1a1a1a" stroke-width="0.17" font-family='"Liberation Sans", sans-serif'>
<text transform="translate(28.6,27.8) scale(0.935,1)">Metamyelocyte</text>
<text transform="translate(103.9,33.1) scale(0.935,1)">CD14<tspan dy="-1.8" font-size="3.4">+</tspan><tspan dy="1.8"> monocyte</tspan></text>
<text transform="translate(103.9,59.8) scale(0.935,1)">CD14<tspan dy="-1.8" font-size="3.4">lo</tspan><tspan dy="1.8"> monocyte</tspan></text>
<text transform="translate(122.9,64.5) scale(0.935,1)">Promonocyte</text>
<text transform="translate(145.5,75) scale(0.935,1)">Dendritic cell</text>
<text transform="translate(15.6,74.2) scale(0.935,1)">Mature granulocyte</text>
<text transform="translate(56.4,79.4) scale(0.935,1)">pDC</text>
<text transform="translate(125.3,80.8) scale(0.935,1)">Progenitor</text>
<text transform="translate(142.2,88.5) scale(0.935,1)">MPP</text>
<text transform="translate(35.2,91.2) scale(0.935,1)">Myelo/Monoblast</text>
<text transform="translate(13.8,97.9) scale(0.935,1)">Mature B cell</text>
<text transform="translate(43,102) scale(0.935,1)">Pre B2</text>
<text transform="translate(59.5,105.2) scale(0.935,1)">Pre B1</text>
<text transform="translate(149.3,101) scale(0.935,1)">HSC</text>
<text transform="translate(110.8,105.8) scale(0.935,1)">Promyelocyte</text>
<text transform="translate(47.6,119.2) scale(0.935,1)">Proerythroblast</text>
<text transform="translate(85.2,123.7) scale(0.935,1)">Plt / atypical AML</text>
<text transform="translate(165.6,129.8) scale(0.935,1)">NK cell</text>
<text transform="translate(111.1,134.3) scale(0.935,1)">Plasma</text>
<text transform="translate(111.1,138.9) scale(0.935,1)">cell</text>
<text transform="translate(19.7,147.8) scale(0.935,1)">Erythroblast</text>
<text transform="translate(83.2,161.5) scale(0.935,1)">Basophil</text>
<text transform="translate(129.6,174.4) scale(0.935,1)">T cell</text>
</g>
<defs><linearGradient id="cb47670" x1="0" y1="0" x2="0" y2="1"><stop offset="0" stop-color="#1a1a50"/><stop offset="0.2" stop-color="#1d5a5a"/><stop offset="0.4" stop-color="#3a8a40"/><stop offset="0.6" stop-color="#d8d848"/><stop offset="0.8" stop-color="#f0c040"/><stop offset="1" stop-color="#e8702a"/></linearGradient></defs>
<line x1="19.4" y1="12.2" x2="19.4" y2="15" stroke="#222" stroke-width="0.5"/>
<circle cx="19.4" cy="12.3" r="0.45" fill="#222"/>
<circle cx="19.0" cy="17.2" r="2.5" fill="#1c0c26"/>
<rect x="18.5" y="20.2" width="1.6" height="17" fill="url(#cb47670)"/>
<g font-family='"Liberation Sans", sans-serif' font-size="4.2" fill="#1a1a1a" stroke="#1a1a1a" stroke-width="0.22">
<text transform="translate(23.6,13.8) scale(0.86,1)" font-size="4.7">1 cell</text>
<text transform="translate(23.6,18.8) scale(0.86,1)" font-size="4.7">47,670 cells</text>
<text x="22.5" y="23.8" font-size="4.6" fill="#33339a">0</text>
<text x="21.8" y="38.2" font-size="4.6" fill="#333">2.71</text>
</g>
<text x="94.3" y="9.5" text-anchor="middle" font-family='"Liberation Sans", sans-serif' font-size="8.85" fill="#2a2a2a" stroke="#2a2a2a" stroke-width="0.12">AML10 (CBF–AML)</text>
</g>
<g transform="translate(336.7,0)">
<g stroke="#dedede" stroke-width="0.7" fill="none">
<line x1="101.5" y1="110" x2="94.6" y2="140"/>
<line x1="100" y1="108.5" x2="78" y2="122.5"/>
<line x1="99" y1="109.5" x2="68" y2="128"/>
<line x1="116" y1="112" x2="133" y2="129.5"/>
<line x1="112" y1="113" x2="120.5" y2="126"/>
<line x1="114" y1="109" x2="140" y2="119"/>
<line x1="60" y1="103.5" x2="84" y2="101.5"/>
<line x1="124.5" y1="73.5" x2="136.8" y2="72"/>
<line x1="110" y1="104" x2="116" y2="98"/>
<line x1="128" y1="97" x2="140" y2="98"/>
<line x1="104" y1="87" x2="113" y2="92"/>
<line x1="72" y1="56" x2="95" y2="51"/>
<line x1="42" y1="158" x2="33" y2="163.5"/>
</g>
<ellipse cx="103" cy="101" rx="6" ry="4" fill="#eaf6f9" transform="rotate(35 103 101)"/>
<g stroke="#3a3a3a" stroke-width="0.7" fill="none" stroke-linejoin="round">
<polygon points="42.2,33.2 46.3,29.8 51,29.3 56.2,35.4 54,41.3 51.2,41.6 43.7,37"/>
<polygon points="68.9,22.9 79.2,30.2 77.5,35 75.5,45.6 71.7,57 51,68.7 46.5,65 47.8,55.5 63.5,26"/>
<polygon points="95.7,50.2 105.5,38.8 121.8,34.4 125.1,44.5 121.8,47.8 99.8,55.1"/>
<polygon points="83.9,63.9 87.7,60.2 99.8,57.4 102.7,61.2 99.8,66.9 88.3,67.8"/>
<polygon points="98.7,73.3 103.8,67.5 114.8,62.3 121.7,65.8 123.5,72.7 120,75.6 105,81.9 101,80.2"/>
<polygon points="113.9,93.8 118.9,83.2 125.5,81.9 130.7,85.9 130.3,91.2 126.8,98.9 120.5,101 115.7,98.6"/>
<polygon points="134,89.5 136.4,85.8 139.5,86 142.8,90.6 140.7,93 135.7,92.8"/>
<polygon points="74.6,87.1 77.5,84.2 93.1,83.1 101.7,86 104.6,88.8 103,100.8 93.1,104.4 87.3,102 75.8,94.6"/>
<polygon points="100.6,106.7 102.9,104.8 109.2,105 114.4,109 112.7,114.2 108.1,114.2 101.7,109.6"/>
<polygon points="24,115.3 29.5,102.5 36,100.2 45.8,105.1 47,109 44.5,119.5 40.9,120.3 26,117.5"/>
<polygon points="71.2,124.1 73,121.5 75.3,120.8 78.5,123.5 80.2,126.5 79,130 76.9,131.4 74.5,130 72,126.5"/>
<polygon points="40.9,158.4 44.2,153.5 67.1,126.9 70.3,128.2 72.8,134.7 68.7,151.1 54,167.4 49.1,173.9 44.2,170.7 41.7,164.1"/>
<polygon points="91.9,141.7 94.8,140.4 97.7,143.7 98.6,153.3 95.7,157.1 92.5,155.2 90.9,146.5"/>
<polygon points="130.5,132.5 134,129.2 149.5,130.8 154.3,135.5 157.5,145 158,154 153,164 147.5,171 144.5,169.5 133.5,151 130.8,140"/>
<polygon points="139.5,119.2 144.8,115.4 167.9,106.9 171,108.6 172.2,112.5 170.3,117.5 165.6,123 159.5,129 154,127.6 143.3,123.1"/>
<ellipse cx="140.4" cy="71.8" rx="3.6" ry="2.6"/>
<ellipse cx="71.2" cy="77.3" rx="3.8" ry="2.6"/>
<circle cx="142.5" cy="98.5" r="2.4"/>
<circle cx="51.1" cy="106.5" r="2.0"/>
<circle cx="56.8" cy="106.4" r="2.0"/>
<circle cx="95.7" cy="115.6" r="2.0"/>
<circle cx="121.5" cy="128.0" r="2.0"/>
</g>
<g fill="#15152e">
<circle cx="94.4" cy="143.2" r="0.85"/>
<circle cx="94.4" cy="145.7" r="0.85"/>
<circle cx="94.6" cy="149" r="0.85"/>
<circle cx="94.4" cy="151.8" r="0.85"/>
<circle cx="94.6" cy="154.8" r="0.85"/>
<circle cx="96.4" cy="150.8" r="0.85"/>
<circle cx="66.9" cy="128.8" r="0.85"/>
<circle cx="64.4" cy="130.8" r="0.85"/>
<circle cx="61.5" cy="133.7" r="0.85"/>
<circle cx="62.5" cy="143" r="0.85"/>
<circle cx="60" cy="145.5" r="0.85"/>
<circle cx="58" cy="148.4" r="0.85"/>
<circle cx="55.6" cy="150.4" r="0.85"/>
<circle cx="53.6" cy="152.4" r="0.85"/>
<circle cx="51.7" cy="154.3" r="0.85"/>
<circle cx="49.7" cy="156.3" r="0.85"/>
<circle cx="46.8" cy="157.3" r="0.85"/>
<circle cx="44.3" cy="156.8" r="0.85"/>
<circle cx="43.8" cy="158.9" r="0.85"/>
<circle cx="50.2" cy="159.7" r="0.85"/>
<circle cx="49.2" cy="163.1" r="0.85"/>
<circle cx="47.7" cy="166.1" r="0.85"/>
<circle cx="48.7" cy="169" r="0.85"/>
<circle cx="48.2" cy="171.2" r="0.85"/>
<circle cx="67.4" cy="133.7" r="0.85"/>
<circle cx="67.8" cy="135.9" r="0.85"/>
<circle cx="65.9" cy="137.6" r="0.85"/>
<circle cx="64.4" cy="139.6" r="0.85"/>
<circle cx="65.4" cy="142.5" r="0.85"/>
<circle cx="64.4" cy="145.5" r="0.85"/>
<circle cx="65.4" cy="148.4" r="0.85"/>
<circle cx="61" cy="132.7" r="0.85"/>
<circle cx="63.4" cy="137.2" r="0.85"/>
<circle cx="62.5" cy="139.6" r="0.85"/>
<circle cx="44.8" cy="155.3" r="0.85"/>
<circle cx="52.2" cy="157.3" r="0.85"/>
<circle cx="53.1" cy="162.2" r="0.85"/>
<circle cx="51.2" cy="161.2" r="0.85"/>
<circle cx="57.5" cy="151.4" r="0.85"/>
<circle cx="59.5" cy="149.4" r="0.85"/>
<circle cx="46.5" cy="160.5" r="0.85"/>
<circle cx="56.5" cy="146.8" r="0.85"/>
<circle cx="60.8" cy="141.2" r="0.85"/>
<circle cx="63.1" cy="134.9" r="0.85"/>
<circle cx="65.2" cy="29.2" r="0.85"/>
<circle cx="69.1" cy="28.3" r="0.85"/>
<circle cx="65.6" cy="31.9" r="0.85"/>
<circle cx="68.2" cy="31.4" r="0.85"/>
<circle cx="70" cy="33.2" r="0.85"/>
<circle cx="66" cy="34" r="0.85"/>
<circle cx="68.7" cy="34.5" r="0.85"/>
<circle cx="75.3" cy="30.5" r="0.85"/>
<circle cx="76.1" cy="32.3" r="0.85"/>
<circle cx="74.8" cy="34" r="0.85"/>
<circle cx="73.1" cy="36.2" r="0.85"/>
<circle cx="70.4" cy="37.6" r="0.85"/>
<circle cx="64.7" cy="40.2" r="0.85"/>
<circle cx="66" cy="41.5" r="0.85"/>
<circle cx="68.7" cy="40.6" r="0.85"/>
<circle cx="70.4" cy="42.4" r="0.85"/>
<circle cx="72.6" cy="43.3" r="0.85"/>
<circle cx="66" cy="43.7" r="0.85"/>
<circle cx="68.2" cy="45.5" r="0.85"/>
<circle cx="70" cy="44.6" r="0.85"/>
<circle cx="65.6" cy="48.1" r="0.85"/>
<circle cx="66.9" cy="49.4" r="0.85"/>
<circle cx="68.7" cy="48.1" r="0.85"/>
<circle cx="61.6" cy="50.3" r="0.85"/>
<circle cx="63.4" cy="52" r="0.85"/>
<circle cx="61.2" cy="52.5" r="0.85"/>
<circle cx="66.9" cy="52" r="0.85"/>
<circle cx="69.1" cy="53.4" r="0.85"/>
<circle cx="70.4" cy="55.6" r="0.85"/>
<circle cx="67.8" cy="57.8" r="0.85"/>
<circle cx="65.2" cy="55.1" r="0.85"/>
<circle cx="63.4" cy="56" r="0.85"/>
<circle cx="58.6" cy="53.8" r="0.85"/>
<circle cx="57.3" cy="55.1" r="0.85"/>
<circle cx="56.4" cy="56.9" r="0.85"/>
<circle cx="54.6" cy="54.2" r="0.85"/>
<circle cx="52" cy="55.1" r="0.85"/>
<circle cx="51.1" cy="57.8" r="0.85"/>
<circle cx="57.7" cy="58.6" r="0.85"/>
<circle cx="59.5" cy="59.5" r="0.85"/>
<circle cx="61.2" cy="58.6" r="0.85"/>
<circle cx="56.4" cy="60.4" r="0.85"/>
<circle cx="55.5" cy="62.1" r="0.85"/>
<circle cx="53.8" cy="63" r="0.85"/>
<circle cx="52" cy="64.8" r="0.85"/>
<circle cx="50.2" cy="66.5" r="0.85"/>
<circle cx="58.1" cy="61.3" r="0.85"/>
<circle cx="62.5" cy="56.9" r="0.85"/>
<circle cx="59.9" cy="56.9" r="0.85"/>
<circle cx="56.8" cy="53.4" r="0.85"/>
<circle cx="46.3" cy="33.2" r="0.85"/>
<circle cx="49.8" cy="31.4" r="0.85"/>
<circle cx="47.6" cy="35.4" r="0.85"/>
<circle cx="50.2" cy="34.5" r="0.85"/>
<circle cx="51.5" cy="37.1" r="0.85"/>
<circle cx="45.9" cy="35.4" r="0.85"/>
<circle cx="49.8" cy="38" r="0.85"/>
<circle cx="52.4" cy="39.3" r="0.85"/>
<circle cx="48.5" cy="36.2" r="0.85"/>
<circle cx="105.5" cy="42.1" r="0.85"/>
<circle cx="107.9" cy="42.1" r="0.85"/>
<circle cx="105.2" cy="45.5" r="0.85"/>
<circle cx="107.2" cy="46.2" r="0.85"/>
<circle cx="107.9" cy="48.2" r="0.85"/>
<circle cx="105.9" cy="49.6" r="0.85"/>
<circle cx="103.8" cy="50.9" r="0.85"/>
<circle cx="102.5" cy="48.5" r="0.85"/>
<circle cx="100.5" cy="48.9" r="0.85"/>
<circle cx="98.1" cy="51.9" r="0.85"/>
<circle cx="101.1" cy="53.6" r="0.85"/>
<circle cx="111.6" cy="40.1" r="0.85"/>
<circle cx="113.3" cy="40.8" r="0.85"/>
<circle cx="115.3" cy="40.1" r="0.85"/>
<circle cx="117" cy="41.1" r="0.85"/>
<circle cx="119.4" cy="38.4" r="0.85"/>
<circle cx="121.4" cy="36.7" r="0.85"/>
<circle cx="111.9" cy="43.8" r="0.85"/>
<circle cx="114" cy="44.2" r="0.85"/>
<circle cx="116" cy="45.2" r="0.85"/>
<circle cx="118" cy="44.2" r="0.85"/>
<circle cx="119.7" cy="42.8" r="0.85"/>
<circle cx="121.4" cy="42.1" r="0.85"/>
<circle cx="122.1" cy="44.2" r="0.85"/>
<circle cx="122.8" cy="45.5" r="0.85"/>
<circle cx="113.3" cy="46.2" r="0.85"/>
<circle cx="115.3" cy="46.9" r="0.85"/>
<circle cx="110.9" cy="48.2" r="0.85"/>
<circle cx="119.4" cy="45.9" r="0.85"/>
<circle cx="117.3" cy="46.2" r="0.85"/>
<circle cx="82.1" cy="86.2" r="0.85"/>
<circle cx="80.7" cy="88" r="0.85"/>
<circle cx="83.8" cy="88.7" r="0.85"/>
<circle cx="86.9" cy="89.3" r="0.85"/>
<circle cx="79" cy="91.4" r="0.85"/>
<circle cx="82.1" cy="91.8" r="0.85"/>
<circle cx="85.5" cy="92.8" r="0.85"/>
<circle cx="78.3" cy="94.2" r="0.85"/>
<circle cx="81.7" cy="94.9" r="0.85"/>
<circle cx="84.2" cy="95.6" r="0.85"/>
<circle cx="88" cy="94.5" r="0.85"/>
<circle cx="90" cy="90.7" r="0.85"/>
<circle cx="90.7" cy="93.2" r="0.85"/>
<circle cx="93.2" cy="92.1" r="0.85"/>
<circle cx="92.5" cy="94.9" r="0.85"/>
<circle cx="90" cy="96.3" r="0.85"/>
<circle cx="94.2" cy="96.6" r="0.85"/>
<circle cx="91.8" cy="98.3" r="0.85"/>
<circle cx="90" cy="99" r="0.85"/>
<circle cx="96.3" cy="86.6" r="0.85"/>
<circle cx="96.3" cy="89.3" r="0.85"/>
<circle cx="99" cy="90.4" r="0.85"/>
<circle cx="101.8" cy="90" r="0.85"/>
<circle cx="96.3" cy="92.8" r="0.85"/>
<circle cx="98" cy="93.8" r="0.85"/>
<circle cx="100.8" cy="95.2" r="0.85"/>
<circle cx="97" cy="96.6" r="0.85"/>
<circle cx="99.4" cy="98" r="0.85"/>
<circle cx="98.4" cy="100.4" r="0.85"/>
<circle cx="100.1" cy="101.8" r="0.85"/>
<circle cx="92.8" cy="102.2" r="0.85"/>
<circle cx="95.2" cy="100.8" r="0.85"/>
<circle cx="87.6" cy="92.5" r="0.85"/>
<circle cx="82.8" cy="93.5" r="0.85"/>
<circle cx="135.8" cy="130.9" r="0.85"/>
<circle cx="133.4" cy="136.1" r="0.85"/>
<circle cx="136.6" cy="136.5" r="0.85"/>
<circle cx="138.6" cy="137.3" r="0.85"/>
<circle cx="135.4" cy="138.2" r="0.85"/>
<circle cx="137.4" cy="140.2" r="0.85"/>
<circle cx="137.4" cy="143.4" r="0.85"/>
<circle cx="136.2" cy="146.3" r="0.85"/>
<circle cx="135.4" cy="149.9" r="0.85"/>
<circle cx="139.9" cy="149.5" r="0.85"/>
<circle cx="140.7" cy="146.3" r="0.85"/>
<circle cx="141.1" cy="143.4" r="0.85"/>
<circle cx="142.7" cy="141.8" r="0.85"/>
<circle cx="144.3" cy="140.6" r="0.85"/>
<circle cx="143.9" cy="138.6" r="0.85"/>
<circle cx="147.2" cy="136.9" r="0.85"/>
<circle cx="149.2" cy="137.3" r="0.85"/>
<circle cx="151.2" cy="134.5" r="0.85"/>
<circle cx="151.6" cy="137.8" r="0.85"/>
<circle cx="153.6" cy="139.4" r="0.85"/>
<circle cx="149.6" cy="140.2" r="0.85"/>
<circle cx="146.7" cy="143" r="0.85"/>
<circle cx="142.7" cy="145.4" r="0.85"/>
<circle cx="142.3" cy="148.7" r="0.85"/>
<circle cx="148" cy="145.8" r="0.85"/>
<circle cx="146.3" cy="147.9" r="0.85"/>
<circle cx="148.8" cy="147.9" r="0.85"/>
<circle cx="150" cy="150.3" r="0.85"/>
<circle cx="152" cy="148.3" r="0.85"/>
<circle cx="155.2" cy="149.5" r="0.85"/>
<circle cx="153.2" cy="152.3" r="0.85"/>
<circle cx="150.8" cy="151.5" r="0.85"/>
<circle cx="148.4" cy="150.7" r="0.85"/>
<circle cx="141.9" cy="151.9" r="0.85"/>
<circle cx="142.3" cy="155.2" r="0.85"/>
<circle cx="140.3" cy="157.2" r="0.85"/>
<circle cx="142.7" cy="157.2" r="0.85"/>
<circle cx="144.3" cy="158.4" r="0.85"/>
<circle cx="152.4" cy="156.8" r="0.85"/>
<circle cx="154.4" cy="159.2" r="0.85"/>
<circle cx="144.7" cy="161.7" r="0.85"/>
<circle cx="145.1" cy="164.1" r="0.85"/>
<circle cx="148" cy="165.3" r="0.85"/>
<circle cx="145.9" cy="166.9" r="0.85"/>
<circle cx="143.1" cy="166.5" r="0.85"/>
<circle cx="146.7" cy="169.8" r="0.85"/>
<circle cx="138.2" cy="158" r="0.85"/>
<circle cx="141.5" cy="119.4" r="0.85"/>
<circle cx="144.2" cy="117.8" r="0.85"/>
<circle cx="147.2" cy="117.8" r="0.85"/>
<circle cx="149.9" cy="118.6" r="0.85"/>
<circle cx="153.4" cy="115.5" r="0.85"/>
<circle cx="153.8" cy="118.2" r="0.85"/>
<circle cx="156.5" cy="117.1" r="0.85"/>
<circle cx="158.8" cy="115.5" r="0.85"/>
<circle cx="161.8" cy="113.6" r="0.85"/>
<circle cx="162.2" cy="111.7" r="0.85"/>
<circle cx="164.6" cy="111.3" r="0.85"/>
<circle cx="166.5" cy="110.5" r="0.85"/>
<circle cx="168.8" cy="109.4" r="0.85"/>
<circle cx="164.9" cy="116.7" r="0.85"/>
<circle cx="167.2" cy="116.7" r="0.85"/>
<circle cx="169.6" cy="116.7" r="0.85"/>
<circle cx="166.5" cy="119.4" r="0.85"/>
<circle cx="168.8" cy="120.5" r="0.85"/>
<circle cx="158" cy="119.4" r="0.85"/>
<circle cx="160.3" cy="120.5" r="0.85"/>
<circle cx="161.1" cy="122.5" r="0.85"/>
<circle cx="154.2" cy="120.9" r="0.85"/>
<circle cx="156.5" cy="122.5" r="0.85"/>
<circle cx="150.7" cy="121.3" r="0.85"/>
<circle cx="151.8" cy="124" r="0.85"/>
<circle cx="155.3" cy="124" r="0.85"/>
<circle cx="157.6" cy="127.1" r="0.85"/>
<circle cx="155.7" cy="125.2" r="0.85"/>
<circle cx="159.6" cy="121.7" r="0.85"/>
<circle cx="30.3" cy="104.4" r="0.85"/>
<circle cx="33.3" cy="104.4" r="0.85"/>
<circle cx="34.6" cy="103.3" r="0.85"/>
<circle cx="33.3" cy="106" r="0.85"/>
<circle cx="36" cy="106.5" r="0.85"/>
<circle cx="38.4" cy="104.7" r="0.85"/>
<circle cx="39.5" cy="105.5" r="0.85"/>
<circle cx="38.9" cy="107.1" r="0.85"/>
<circle cx="37.3" cy="107.6" r="0.85"/>
<circle cx="40.5" cy="108.2" r="0.85"/>
<circle cx="42.2" cy="107.1" r="0.85"/>
<circle cx="42.7" cy="108.7" r="0.85"/>
<circle cx="43.8" cy="109.8" r="0.85"/>
<circle cx="45.9" cy="107.6" r="0.85"/>
<circle cx="30.1" cy="107.6" r="0.85"/>
<circle cx="34.1" cy="108.4" r="0.85"/>
<circle cx="37.9" cy="109" r="0.85"/>
<circle cx="40" cy="111.4" r="0.85"/>
<circle cx="37.9" cy="112.5" r="0.85"/>
<circle cx="39.5" cy="113.5" r="0.85"/>
<circle cx="41.6" cy="111.9" r="0.85"/>
<circle cx="41.1" cy="114.6" r="0.85"/>
<circle cx="43.2" cy="115.2" r="0.85"/>
<circle cx="42.2" cy="117.3" r="0.85"/>
<circle cx="43.2" cy="118.1" r="0.85"/>
<circle cx="38.9" cy="116.2" r="0.85"/>
<circle cx="37.3" cy="115.2" r="0.85"/>
<circle cx="34.6" cy="114.3" r="0.85"/>
<circle cx="33.5" cy="115.7" r="0.85"/>
<circle cx="32.5" cy="116.2" r="0.85"/>
<circle cx="31.1" cy="114.3" r="0.85"/>
<circle cx="28.7" cy="115.2" r="0.85"/>
<circle cx="26.3" cy="116.2" r="0.85"/>
<circle cx="34.1" cy="117.6" r="0.85"/>
<circle cx="39.5" cy="117.3" r="0.85"/>
<circle cx="35.7" cy="109.8" r="0.85"/>
<circle cx="33" cy="110.8" r="0.85"/>
<circle cx="43.2" cy="112.5" r="0.85"/>
<circle cx="98.1" cy="59.4" r="0.85"/>
<circle cx="93.2" cy="61.6" r="0.85"/>
<circle cx="95" cy="63" r="0.85"/>
<circle cx="97.2" cy="62.5" r="0.85"/>
<circle cx="99" cy="62.1" r="0.85"/>
<circle cx="100.3" cy="63.4" r="0.85"/>
<circle cx="96.3" cy="63.9" r="0.85"/>
<circle cx="87" cy="64.3" r="0.85"/>
<circle cx="89.7" cy="65.2" r="0.85"/>
<circle cx="91.9" cy="66.1" r="0.85"/>
<circle cx="93.7" cy="65.6" r="0.85"/>
<circle cx="95" cy="66.5" r="0.85"/>
<circle cx="97.6" cy="66.5" r="0.85"/>
<circle cx="99" cy="66.1" r="0.85"/>
<circle cx="114" cy="65.6" r="0.85"/>
<circle cx="118" cy="66.5" r="0.85"/>
<circle cx="110" cy="68.3" r="0.85"/>
<circle cx="112.2" cy="68.3" r="0.85"/>
<circle cx="115.3" cy="69.2" r="0.85"/>
<circle cx="118" cy="68.3" r="0.85"/>
<circle cx="119.8" cy="69.2" r="0.85"/>
<circle cx="108.2" cy="70" r="0.85"/>
<circle cx="111.8" cy="70.9" r="0.85"/>
<circle cx="114.4" cy="71.4" r="0.85"/>
<circle cx="106" cy="72.3" r="0.85"/>
<circle cx="108.2" cy="72.7" r="0.85"/>
<circle cx="110.9" cy="72.3" r="0.85"/>
<circle cx="100.7" cy="74" r="0.85"/>
<circle cx="103.4" cy="75.3" r="0.85"/>
<circle cx="105.6" cy="76.2" r="0.85"/>
<circle cx="113.6" cy="76.2" r="0.85"/>
<circle cx="115.3" cy="76.2" r="0.85"/>
<circle cx="118.9" cy="75.3" r="0.85"/>
<circle cx="121.5" cy="74" r="0.85"/>
<circle cx="103.8" cy="78.9" r="0.85"/>
<circle cx="106" cy="79.8" r="0.85"/>
<circle cx="108.2" cy="78.9" r="0.85"/>
<circle cx="110.9" cy="78.9" r="0.85"/>
<circle cx="105.2" cy="80.7" r="0.85"/>
<circle cx="120" cy="86.2" r="0.85"/>
<circle cx="124.4" cy="85" r="0.85"/>
<circle cx="122.9" cy="89.5" r="0.85"/>
<circle cx="121.4" cy="96.5" r="0.85"/>
<circle cx="127.2" cy="88.3" r="0.85"/>
<circle cx="118.1" cy="92.8" r="0.85"/>
<circle cx="124.8" cy="90.4" r="0.85"/>
<circle cx="119.9" cy="92.8" r="0.85"/>
<circle cx="126.4" cy="94.6" r="0.85"/>
<circle cx="125.5" cy="88.3" r="0.85"/>
<circle cx="116.2" cy="94.1" r="0.85"/>
<circle cx="126" cy="92.6" r="0.85"/>
<circle cx="122" cy="94" r="0.85"/>
<circle cx="139.4" cy="92.3" r="0.85"/>
<circle cx="137.6" cy="90.4" r="0.85"/>
<circle cx="135.4" cy="89.2" r="0.85"/>
<circle cx="139" cy="88.1" r="0.85"/>
<circle cx="141.5" cy="90.5" r="0.85"/>
<circle cx="107.6" cy="110.3" r="0.85"/>
<circle cx="111.8" cy="111.5" r="0.85"/>
<circle cx="106.2" cy="108.7" r="0.85"/>
<circle cx="104.2" cy="106.9" r="0.85"/>
<circle cx="103" cy="108.4" r="0.85"/>
<circle cx="108.7" cy="106.8" r="0.85"/>
<circle cx="105.9" cy="106.6" r="0.85"/>
<circle cx="75.4" cy="125.9" r="0.85"/>
<circle cx="74.6" cy="124.1" r="0.85"/>
<circle cx="78.3" cy="127.8" r="0.85"/>
<circle cx="75.9" cy="128.5" r="0.85"/>
<circle cx="73.7" cy="126.2" r="0.85"/>
<circle cx="139.2" cy="71.8" r="0.85"/>
<circle cx="141.6" cy="71.8" r="0.85"/>
<circle cx="70" cy="77.3" r="0.85"/>
<circle cx="72.4" cy="77.3" r="0.85"/>
<circle cx="142.5" cy="98.5" r="0.85"/>
<circle cx="51.1" cy="106.5" r="0.85"/>
<circle cx="56.8" cy="106.4" r="0.85"/>
<circle cx="95.7" cy="115.6" r="0.85"/>
<circle cx="121.5" cy="128" r="0.85"/>
<circle cx="79.4" cy="55.5" r="0.85"/>
<circle cx="86.3" cy="52.4" r="0.85"/>
<circle cx="88.5" cy="106.4" r="0.85"/>
<circle cx="102.9" cy="112.5" r="0.85"/>
<circle cx="104.6" cy="113.1" r="0.85"/>
<circle cx="116.7" cy="113.1" r="0.85"/>
<circle cx="115.6" cy="115.4" r="0.85"/>
<circle cx="114.4" cy="117.7" r="0.85"/>
<circle cx="120.8" cy="111.7" r="0.85"/>
<circle cx="123.1" cy="112.5" r="0.85"/>
<circle cx="105.8" cy="128.1" r="0.85"/>
<circle cx="106.9" cy="131.5" r="0.85"/>
<circle cx="107.9" cy="134.5" r="0.85"/>
<circle cx="32.7" cy="163.3" r="0.85"/>
<circle cx="117.1" cy="113.1" r="0.85"/>
<circle cx="124.1" cy="113.8" r="0.85"/>
</g>
<circle cx="79.8" cy="88.3" r="2.5" fill="#e8202a"/>
<circle cx="82.7" cy="86.5" r="1.5" fill="#e8202a"/>
<circle cx="104.1" cy="107.3" r="2.9" fill="#e8202a"/>
<circle cx="98.9" cy="100.4" r="1.2" fill="#b02030"/>
<circle cx="108.1" cy="107.9" r="0.9" fill="#a02030"/>
<circle cx="66" cy="43" r="0.9" fill="#a8b040"/>
<circle cx="64" cy="47" r="0.9" fill="#98a840"/>
<circle cx="68" cy="40" r="0.8" fill="#c8c040"/>
<circle cx="62" cy="50" r="0.8" fill="#a8b040"/>
<circle cx="140" cy="148" r="0.9" fill="#d8c840"/>
<g font-size="5.35" fill="#1a1a1a" stroke="#1a1a1a" stroke-width="0.17" font-family='"Liberation Sans", sans-serif'>
<text transform="translate(28.6,27.8) scale(0.935,1)">Metamyelocyte</text>
<text transform="translate(103.9,33.1) scale(0.935,1)">CD14<tspan dy="-1.8" font-size="3.4">+</tspan><tspan dy="1.8"> monocyte</tspan></text>
<text transform="translate(102,59.8) scale(0.935,1)">CD14<tspan dy="-1.8" font-size="3.4">lo</tspan><tspan dy="1.8"> monocyte</tspan></text>
<text transform="translate(122.9,64.5) scale(0.935,1)">Promonocyte</text>
<text transform="translate(145.5,75) scale(0.935,1)">Dendritic cell</text>
<text transform="translate(20,74.2) scale(0.935,1)">Mature granulocyte</text>
<text transform="translate(56.4,79.4) scale(0.935,1)">pDC</text>
<text transform="translate(125.3,80.8) scale(0.935,1)">Progenitor</text>
<text transform="translate(142.2,88.5) scale(0.935,1)">MPP</text>
<text transform="translate(35.2,91.2) scale(0.935,1)">Myelo/Monoblast</text>
<text transform="translate(13.8,97.9) scale(0.935,1)">Mature B cell</text>
<text transform="translate(43,102) scale(0.935,1)">Pre B2</text>
<text transform="translate(59.5,105.2) scale(0.935,1)">Pre B1</text>
<text transform="translate(149.3,101) scale(0.935,1)">HSC</text>
<text transform="translate(110.8,105.8) scale(0.935,1)">Promyelocyte</text>
<text transform="translate(47.6,119.2) scale(0.935,1)">Proerythroblast</text>
<text transform="translate(85.2,123.7) scale(0.935,1)">Plt / atypical AML</text>
<text transform="translate(165.6,129.8) scale(0.935,1)">NK cell</text>
<text transform="translate(111.1,134.3) scale(0.935,1)">Plasma</text>
<text transform="translate(111.1,138.9) scale(0.935,1)">cell</text>
<text transform="translate(19.7,147.8) scale(0.935,1)">Erythroblast</text>
<text transform="translate(83.2,161.5) scale(0.935,1)">Basophil</text>
<text transform="translate(129.6,174.4) scale(0.935,1)">T cell</text>
</g>
<defs><linearGradient id="cb35505" x1="0" y1="0" x2="0" y2="1"><stop offset="0" stop-color="#1a1a50"/><stop offset="0.2" stop-color="#1d5a5a"/><stop offset="0.4" stop-color="#3a8a40"/><stop offset="0.6" stop-color="#d8d848"/><stop offset="0.8" stop-color="#f0c040"/><stop offset="1" stop-color="#e8702a"/></linearGradient></defs>
<line x1="19.4" y1="12.2" x2="19.4" y2="15" stroke="#222" stroke-width="0.5"/>
<circle cx="19.4" cy="12.3" r="0.45" fill="#222"/>
<circle cx="19.0" cy="17.2" r="2.5" fill="#1c0c26"/>
<rect x="18.5" y="20.2" width="1.6" height="17" fill="url(#cb35505)"/>
<g font-family='"Liberation Sans", sans-serif' font-size="4.2" fill="#1a1a1a" stroke="#1a1a1a" stroke-width="0.22">
<text transform="translate(23.6,13.8) scale(0.86,1)" font-size="4.7">1 cell</text>
<text transform="translate(23.6,18.8) scale(0.86,1)" font-size="4.7">35,505 cells</text>
<text x="22.5" y="23.8" font-size="4.6" fill="#33339a">0</text>
<text x="21.8" y="38.2" font-size="4.6" fill="#333">2.71</text>
</g>
<text x="94.3" y="9.5" text-anchor="middle" font-family='"Liberation Sans", sans-serif' font-size="8.85" fill="#2a2a2a" stroke="#2a2a2a" stroke-width="0.12">APL3</text>
</g>
<g transform="translate(0,177.6)">
<g stroke="#dedede" stroke-width="0.7" fill="none">
<line x1="101.5" y1="110" x2="94.6" y2="140"/>
<line x1="100" y1="108.5" x2="78" y2="122.5"/>
<line x1="99" y1="109.5" x2="68" y2="128"/>
<line x1="116" y1="112" x2="133" y2="129.5"/>
<line x1="112" y1="113" x2="120.5" y2="126"/>
<line x1="114" y1="109" x2="140" y2="119"/>
<line x1="60" y1="103.5" x2="84" y2="101.5"/>
<line x1="124.5" y1="73.5" x2="136.8" y2="72"/>
<line x1="110" y1="104" x2="116" y2="98"/>
<line x1="128" y1="97" x2="140" y2="98"/>
<line x1="104" y1="87" x2="113" y2="92"/>
<line x1="72" y1="56" x2="95" y2="51"/>
<line x1="42" y1="158" x2="33" y2="163.5"/>
</g>
<ellipse cx="103" cy="101" rx="6" ry="4" fill="#eaf6f9" transform="rotate(35 103 101)"/>
<g stroke="#3a3a3a" stroke-width="0.7" fill="none" stroke-linejoin="round">
<polygon points="42.2,33.2 46.3,29.8 51,29.3 56.2,35.4 54,41.3 51.2,41.6 43.7,37"/>
<polygon points="68.9,22.9 79.2,30.2 77.5,35 75.5,45.6 71.7,57 51,68.7 46.5,65 47.8,55.5 63.5,26"/>
<polygon points="95.7,50.2 105.5,38.8 121.8,34.4 125.1,44.5 121.8,47.8 99.8,55.1"/>
<polygon points="83.9,63.9 87.7,60.2 99.8,57.4 102.7,61.2 99.8,66.9 88.3,67.8"/>
<polygon points="98.7,73.3 103.8,67.5 114.8,62.3 121.7,65.8 123.5,72.7 120,75.6 105,81.9 101,80.2"/>
<polygon points="113.9,93.8 118.9,83.2 125.5,81.9 130.7,85.9 130.3,91.2 126.8,98.9 120.5,101 115.7,98.6"/>
<polygon points="134,89.5 136.4,85.8 139.5,86 142.8,90.6 140.7,93 135.7,92.8"/>
<polygon points="74.6,87.1 77.5,84.2 93.1,83.1 101.7,86 104.6,88.8 103,100.8 93.1,104.4 87.3,102 75.8,94.6"/>
<polygon points="100.6,106.7 102.9,104.8 109.2,105 114.4,109 112.7,114.2 108.1,114.2 101.7,109.6"/>
<polygon points="24,115.3 29.5,102.5 36,100.2 45.8,105.1 47,109 44.5,119.5 40.9,120.3 26,117.5"/>
<polygon points="71.2,124.1 73,121.5 75.3,120.8 78.5,123.5 80.2,126.5 79,130 76.9,131.4 74.5,130 72,126.5"/>
<polygon points="40.9,158.4 44.2,153.5 67.1,126.9 70.3,128.2 72.8,134.7 68.7,151.1 54,167.4 49.1,173.9 44.2,170.7 41.7,164.1"/>
<polygon points="91.9,141.7 94.8,140.4 97.7,143.7 98.6,153.3 95.7,157.1 92.5,155.2 90.9,146.5"/>
<polygon points="130.5,132.5 134,129.2 149.5,130.8 154.3,135.5 157.5,145 158,154 153,164 147.5,171 144.5,169.5 133.5,151 130.8,140"/>
<polygon points="139.5,119.2 144.8,115.4 167.9,106.9 171,108.6 172.2,112.5 170.3,117.5 165.6,123 159.5,129 154,127.6 143.3,123.1"/>
<ellipse cx="140.4" cy="71.8" rx="3.6" ry="2.6"/>
<ellipse cx="71.2" cy="77.3" rx="3.8" ry="2.6"/>
<circle cx="142.5" cy="98.5" r="2.4"/>
<circle cx="51.1" cy="106.5" r="2.0"/>
<circle cx="56.8" cy="106.4" r="2.0"/>
<circle cx="95.7" cy="115.6" r="2.0"/>
<circle cx="121.5" cy="128.0" r="2.0"/>
</g>
<g fill="#15152e">
<circle cx="94.4" cy="143.2" r="0.85"/>
<circle cx="94.4" cy="145.7" r="0.85"/>
<circle cx="94.6" cy="149" r="0.85"/>
<circle cx="94.4" cy="151.8" r="0.85"/>
<circle cx="94.6" cy="154.8" r="0.85"/>
<circle cx="96.4" cy="150.8" r="0.85"/>
<circle cx="66.9" cy="128.8" r="0.85"/>
<circle cx="64.4" cy="130.8" r="0.85"/>
<circle cx="61.5" cy="133.7" r="0.85"/>
<circle cx="62.5" cy="143" r="0.85"/>
<circle cx="60" cy="145.5" r="0.85"/>
<circle cx="58" cy="148.4" r="0.85"/>
<circle cx="55.6" cy="150.4" r="0.85"/>
<circle cx="53.6" cy="152.4" r="0.85"/>
<circle cx="51.7" cy="154.3" r="0.85"/>
<circle cx="49.7" cy="156.3" r="0.85"/>
<circle cx="46.8" cy="157.3" r="0.85"/>
<circle cx="44.3" cy="156.8" r="0.85"/>
<circle cx="43.8" cy="158.9" r="0.85"/>
<circle cx="50.2" cy="159.7" r="0.85"/>
<circle cx="49.2" cy="163.1" r="0.85"/>
<circle cx="47.7" cy="166.1" r="0.85"/>
<circle cx="48.7" cy="169" r="0.85"/>
<circle cx="48.2" cy="171.2" r="0.85"/>
<circle cx="67.4" cy="133.7" r="0.85"/>
<circle cx="67.8" cy="135.9" r="0.85"/>
<circle cx="65.9" cy="137.6" r="0.85"/>
<circle cx="64.4" cy="139.6" r="0.85"/>
<circle cx="65.4" cy="142.5" r="0.85"/>
<circle cx="64.4" cy="145.5" r="0.85"/>
<circle cx="65.4" cy="148.4" r="0.85"/>
<circle cx="61" cy="132.7" r="0.85"/>
<circle cx="63.4" cy="137.2" r="0.85"/>
<circle cx="62.5" cy="139.6" r="0.85"/>
<circle cx="44.8" cy="155.3" r="0.85"/>
<circle cx="52.2" cy="157.3" r="0.85"/>
<circle cx="53.1" cy="162.2" r="0.85"/>
<circle cx="51.2" cy="161.2" r="0.85"/>
<circle cx="57.5" cy="151.4" r="0.85"/>
<circle cx="59.5" cy="149.4" r="0.85"/>
<circle cx="46.5" cy="160.5" r="0.85"/>
<circle cx="56.5" cy="146.8" r="0.85"/>
<circle cx="60.8" cy="141.2" r="0.85"/>
<circle cx="63.1" cy="134.9" r="0.85"/>
<circle cx="65.2" cy="29.2" r="0.85"/>
<circle cx="69.1" cy="28.3" r="0.85"/>
<circle cx="65.6" cy="31.9" r="0.85"/>
<circle cx="68.2" cy="31.4" r="0.85"/>
<circle cx="70" cy="33.2" r="0.85"/>
<circle cx="66" cy="34" r="0.85"/>
<circle cx="68.7" cy="34.5" r="0.85"/>
<circle cx="75.3" cy="30.5" r="0.85"/>
<circle cx="76.1" cy="32.3" r="0.85"/>
<circle cx="74.8" cy="34" r="0.85"/>
<circle cx="73.1" cy="36.2" r="0.85"/>
<circle cx="70.4" cy="37.6" r="0.85"/>
<circle cx="64.7" cy="40.2" r="0.85"/>
<circle cx="66" cy="41.5" r="0.85"/>
<circle cx="68.7" cy="40.6" r="0.85"/>
<circle cx="70.4" cy="42.4" r="0.85"/>
<circle cx="72.6" cy="43.3" r="0.85"/>
<circle cx="66" cy="43.7" r="0.85"/>
<circle cx="68.2" cy="45.5" r="0.85"/>
<circle cx="70" cy="44.6" r="0.85"/>
<circle cx="65.6" cy="48.1" r="0.85"/>
<circle cx="66.9" cy="49.4" r="0.85"/>
<circle cx="68.7" cy="48.1" r="0.85"/>
<circle cx="61.6" cy="50.3" r="0.85"/>
<circle cx="63.4" cy="52" r="0.85"/>
<circle cx="61.2" cy="52.5" r="0.85"/>
<circle cx="66.9" cy="52" r="0.85"/>
<circle cx="69.1" cy="53.4" r="0.85"/>
<circle cx="70.4" cy="55.6" r="0.85"/>
<circle cx="67.8" cy="57.8" r="0.85"/>
<circle cx="65.2" cy="55.1" r="0.85"/>
<circle cx="63.4" cy="56" r="0.85"/>
<circle cx="58.6" cy="53.8" r="0.85"/>
<circle cx="57.3" cy="55.1" r="0.85"/>
<circle cx="56.4" cy="56.9" r="0.85"/>
<circle cx="54.6" cy="54.2" r="0.85"/>
<circle cx="52" cy="55.1" r="0.85"/>
<circle cx="51.1" cy="57.8" r="0.85"/>
<circle cx="57.7" cy="58.6" r="0.85"/>
<circle cx="59.5" cy="59.5" r="0.85"/>
<circle cx="61.2" cy="58.6" r="0.85"/>
<circle cx="56.4" cy="60.4" r="0.85"/>
<circle cx="55.5" cy="62.1" r="0.85"/>
<circle cx="53.8" cy="63" r="0.85"/>
<circle cx="52" cy="64.8" r="0.85"/>
<circle cx="50.2" cy="66.5" r="0.85"/>
<circle cx="58.1" cy="61.3" r="0.85"/>
<circle cx="62.5" cy="56.9" r="0.85"/>
<circle cx="59.9" cy="56.9" r="0.85"/>
<circle cx="56.8" cy="53.4" r="0.85"/>
<circle cx="46.3" cy="33.2" r="0.85"/>
<circle cx="49.8" cy="31.4" r="0.85"/>
<circle cx="47.6" cy="35.4" r="0.85"/>
<circle cx="50.2" cy="34.5" r="0.85"/>
<circle cx="51.5" cy="37.1" r="0.85"/>
<circle cx="45.9" cy="35.4" r="0.85"/>
<circle cx="49.8" cy="38" r="0.85"/>
<circle cx="52.4" cy="39.3" r="0.85"/>
<circle cx="48.5" cy="36.2" r="0.85"/>
<circle cx="105.5" cy="42.1" r="0.85"/>
<circle cx="107.9" cy="42.1" r="0.85"/>
<circle cx="105.2" cy="45.5" r="0.85"/>
<circle cx="107.2" cy="46.2" r="0.85"/>
<circle cx="107.9" cy="48.2" r="0.85"/>
<circle cx="105.9" cy="49.6" r="0.85"/>
<circle cx="103.8" cy="50.9" r="0.85"/>
<circle cx="102.5" cy="48.5" r="0.85"/>
<circle cx="100.5" cy="48.9" r="0.85"/>
<circle cx="98.1" cy="51.9" r="0.85"/>
<circle cx="101.1" cy="53.6" r="0.85"/>
<circle cx="111.6" cy="40.1" r="0.85"/>
<circle cx="113.3" cy="40.8" r="0.85"/>
<circle cx="115.3" cy="40.1" r="0.85"/>
<circle cx="117" cy="41.1" r="0.85"/>
<circle cx="119.4" cy="38.4" r="0.85"/>
<circle cx="121.4" cy="36.7" r="0.85"/>
<circle cx="111.9" cy="43.8" r="0.85"/>
<circle cx="114" cy="44.2" r="0.85"/>
<circle cx="116" cy="45.2" r="0.85"/>
<circle cx="118" cy="44.2" r="0.85"/>
<circle cx="119.7" cy="42.8" r="0.85"/>
<circle cx="121.4" cy="42.1" r="0.85"/>
<circle cx="122.1" cy="44.2" r="0.85"/>
<circle cx="122.8" cy="45.5" r="0.85"/>
<circle cx="113.3" cy="46.2" r="0.85"/>
<circle cx="115.3" cy="46.9" r="0.85"/>
<circle cx="110.9" cy="48.2" r="0.85"/>
<circle cx="119.4" cy="45.9" r="0.85"/>
<circle cx="117.3" cy="46.2" r="0.85"/>
<circle cx="82.1" cy="86.2" r="0.85"/>
<circle cx="80.7" cy="88" r="0.85"/>
<circle cx="83.8" cy="88.7" r="0.85"/>
<circle cx="86.9" cy="89.3" r="0.85"/>
<circle cx="79" cy="91.4" r="0.85"/>
<circle cx="82.1" cy="91.8" r="0.85"/>
<circle cx="85.5" cy="92.8" r="0.85"/>
<circle cx="78.3" cy="94.2" r="0.85"/>
<circle cx="81.7" cy="94.9" r="0.85"/>
<circle cx="84.2" cy="95.6" r="0.85"/>
<circle cx="88" cy="94.5" r="0.85"/>
<circle cx="90" cy="90.7" r="0.85"/>
<circle cx="90.7" cy="93.2" r="0.85"/>
<circle cx="93.2" cy="92.1" r="0.85"/>
<circle cx="92.5" cy="94.9" r="0.85"/>
<circle cx="90" cy="96.3" r="0.85"/>
<circle cx="94.2" cy="96.6" r="0.85"/>
<circle cx="91.8" cy="98.3" r="0.85"/>
<circle cx="90" cy="99" r="0.85"/>
<circle cx="96.3" cy="86.6" r="0.85"/>
<circle cx="96.3" cy="89.3" r="0.85"/>
<circle cx="99" cy="90.4" r="0.85"/>
<circle cx="101.8" cy="90" r="0.85"/>
<circle cx="96.3" cy="92.8" r="0.85"/>
<circle cx="98" cy="93.8" r="0.85"/>
<circle cx="100.8" cy="95.2" r="0.85"/>
<circle cx="97" cy="96.6" r="0.85"/>
<circle cx="99.4" cy="98" r="0.85"/>
<circle cx="98.4" cy="100.4" r="0.85"/>
<circle cx="100.1" cy="101.8" r="0.85"/>
<circle cx="92.8" cy="102.2" r="0.85"/>
<circle cx="95.2" cy="100.8" r="0.85"/>
<circle cx="87.6" cy="92.5" r="0.85"/>
<circle cx="82.8" cy="93.5" r="0.85"/>
<circle cx="135.8" cy="130.9" r="0.85"/>
<circle cx="133.4" cy="136.1" r="0.85"/>
<circle cx="136.6" cy="136.5" r="0.85"/>
<circle cx="138.6" cy="137.3" r="0.85"/>
<circle cx="135.4" cy="138.2" r="0.85"/>
<circle cx="137.4" cy="140.2" r="0.85"/>
<circle cx="137.4" cy="143.4" r="0.85"/>
<circle cx="136.2" cy="146.3" r="0.85"/>
<circle cx="135.4" cy="149.9" r="0.85"/>
<circle cx="139.9" cy="149.5" r="0.85"/>
<circle cx="140.7" cy="146.3" r="0.85"/>
<circle cx="141.1" cy="143.4" r="0.85"/>
<circle cx="142.7" cy="141.8" r="0.85"/>
<circle cx="144.3" cy="140.6" r="0.85"/>
<circle cx="143.9" cy="138.6" r="0.85"/>
<circle cx="147.2" cy="136.9" r="0.85"/>
<circle cx="149.2" cy="137.3" r="0.85"/>
<circle cx="151.2" cy="134.5" r="0.85"/>
<circle cx="151.6" cy="137.8" r="0.85"/>
<circle cx="153.6" cy="139.4" r="0.85"/>
<circle cx="149.6" cy="140.2" r="0.85"/>
<circle cx="146.7" cy="143" r="0.85"/>
<circle cx="142.7" cy="145.4" r="0.85"/>
<circle cx="142.3" cy="148.7" r="0.85"/>
<circle cx="148" cy="145.8" r="0.85"/>
<circle cx="146.3" cy="147.9" r="0.85"/>
<circle cx="148.8" cy="147.9" r="0.85"/>
<circle cx="150" cy="150.3" r="0.85"/>
<circle cx="152" cy="148.3" r="0.85"/>
<circle cx="155.2" cy="149.5" r="0.85"/>
<circle cx="153.2" cy="152.3" r="0.85"/>
<circle cx="150.8" cy="151.5" r="0.85"/>
<circle cx="148.4" cy="150.7" r="0.85"/>
<circle cx="141.9" cy="151.9" r="0.85"/>
<circle cx="142.3" cy="155.2" r="0.85"/>
<circle cx="140.3" cy="157.2" r="0.85"/>
<circle cx="142.7" cy="157.2" r="0.85"/>
<circle cx="144.3" cy="158.4" r="0.85"/>
<circle cx="152.4" cy="156.8" r="0.85"/>
<circle cx="154.4" cy="159.2" r="0.85"/>
<circle cx="144.7" cy="161.7" r="0.85"/>
<circle cx="145.1" cy="164.1" r="0.85"/>
<circle cx="148" cy="165.3" r="0.85"/>
<circle cx="145.9" cy="166.9" r="0.85"/>
<circle cx="143.1" cy="166.5" r="0.85"/>
<circle cx="146.7" cy="169.8" r="0.85"/>
<circle cx="138.2" cy="158" r="0.85"/>
<circle cx="141.5" cy="119.4" r="0.85"/>
<circle cx="144.2" cy="117.8" r="0.85"/>
<circle cx="147.2" cy="117.8" r="0.85"/>
<circle cx="149.9" cy="118.6" r="0.85"/>
<circle cx="153.4" cy="115.5" r="0.85"/>
<circle cx="153.8" cy="118.2" r="0.85"/>
<circle cx="156.5" cy="117.1" r="0.85"/>
<circle cx="158.8" cy="115.5" r="0.85"/>
<circle cx="161.8" cy="113.6" r="0.85"/>
<circle cx="162.2" cy="111.7" r="0.85"/>
<circle cx="164.6" cy="111.3" r="0.85"/>
<circle cx="166.5" cy="110.5" r="0.85"/>
<circle cx="168.8" cy="109.4" r="0.85"/>
<circle cx="164.9" cy="116.7" r="0.85"/>
<circle cx="167.2" cy="116.7" r="0.85"/>
<circle cx="169.6" cy="116.7" r="0.85"/>
<circle cx="166.5" cy="119.4" r="0.85"/>
<circle cx="168.8" cy="120.5" r="0.85"/>
<circle cx="158" cy="119.4" r="0.85"/>
<circle cx="160.3" cy="120.5" r="0.85"/>
<circle cx="161.1" cy="122.5" r="0.85"/>
<circle cx="154.2" cy="120.9" r="0.85"/>
<circle cx="156.5" cy="122.5" r="0.85"/>
<circle cx="150.7" cy="121.3" r="0.85"/>
<circle cx="151.8" cy="124" r="0.85"/>
<circle cx="155.3" cy="124" r="0.85"/>
<circle cx="157.6" cy="127.1" r="0.85"/>
<circle cx="155.7" cy="125.2" r="0.85"/>
<circle cx="159.6" cy="121.7" r="0.85"/>
<circle cx="30.3" cy="104.4" r="0.85"/>
<circle cx="33.3" cy="104.4" r="0.85"/>
<circle cx="34.6" cy="103.3" r="0.85"/>
<circle cx="33.3" cy="106" r="0.85"/>
<circle cx="36" cy="106.5" r="0.85"/>
<circle cx="38.4" cy="104.7" r="0.85"/>
<circle cx="39.5" cy="105.5" r="0.85"/>
<circle cx="38.9" cy="107.1" r="0.85"/>
<circle cx="37.3" cy="107.6" r="0.85"/>
<circle cx="40.5" cy="108.2" r="0.85"/>
<circle cx="42.2" cy="107.1" r="0.85"/>
<circle cx="42.7" cy="108.7" r="0.85"/>
<circle cx="43.8" cy="109.8" r="0.85"/>
<circle cx="45.9" cy="107.6" r="0.85"/>
<circle cx="30.1" cy="107.6" r="0.85"/>
<circle cx="34.1" cy="108.4" r="0.85"/>
<circle cx="37.9" cy="109" r="0.85"/>
<circle cx="40" cy="111.4" r="0.85"/>
<circle cx="37.9" cy="112.5" r="0.85"/>
<circle cx="39.5" cy="113.5" r="0.85"/>
<circle cx="41.6" cy="111.9" r="0.85"/>
<circle cx="41.1" cy="114.6" r="0.85"/>
<circle cx="43.2" cy="115.2" r="0.85"/>
<circle cx="42.2" cy="117.3" r="0.85"/>
<circle cx="43.2" cy="118.1" r="0.85"/>
<circle cx="38.9" cy="116.2" r="0.85"/>
<circle cx="37.3" cy="115.2" r="0.85"/>
<circle cx="34.6" cy="114.3" r="0.85"/>
<circle cx="33.5" cy="115.7" r="0.85"/>
<circle cx="32.5" cy="116.2" r="0.85"/>
<circle cx="31.1" cy="114.3" r="0.85"/>
<circle cx="28.7" cy="115.2" r="0.85"/>
<circle cx="26.3" cy="116.2" r="0.85"/>
<circle cx="34.1" cy="117.6" r="0.85"/>
<circle cx="39.5" cy="117.3" r="0.85"/>
<circle cx="35.7" cy="109.8" r="0.85"/>
<circle cx="33" cy="110.8" r="0.85"/>
<circle cx="43.2" cy="112.5" r="0.85"/>
<circle cx="98.1" cy="59.4" r="0.85"/>
<circle cx="93.2" cy="61.6" r="0.85"/>
<circle cx="95" cy="63" r="0.85"/>
<circle cx="97.2" cy="62.5" r="0.85"/>
<circle cx="99" cy="62.1" r="0.85"/>
<circle cx="100.3" cy="63.4" r="0.85"/>
<circle cx="96.3" cy="63.9" r="0.85"/>
<circle cx="87" cy="64.3" r="0.85"/>
<circle cx="89.7" cy="65.2" r="0.85"/>
<circle cx="91.9" cy="66.1" r="0.85"/>
<circle cx="93.7" cy="65.6" r="0.85"/>
<circle cx="95" cy="66.5" r="0.85"/>
<circle cx="97.6" cy="66.5" r="0.85"/>
<circle cx="99" cy="66.1" r="0.85"/>
<circle cx="114" cy="65.6" r="0.85"/>
<circle cx="118" cy="66.5" r="0.85"/>
<circle cx="110" cy="68.3" r="0.85"/>
<circle cx="112.2" cy="68.3" r="0.85"/>
<circle cx="115.3" cy="69.2" r="0.85"/>
<circle cx="118" cy="68.3" r="0.85"/>
<circle cx="119.8" cy="69.2" r="0.85"/>
<circle cx="108.2" cy="70" r="0.85"/>
<circle cx="111.8" cy="70.9" r="0.85"/>
<circle cx="114.4" cy="71.4" r="0.85"/>
<circle cx="106" cy="72.3" r="0.85"/>
<circle cx="108.2" cy="72.7" r="0.85"/>
<circle cx="110.9" cy="72.3" r="0.85"/>
<circle cx="100.7" cy="74" r="0.85"/>
<circle cx="103.4" cy="75.3" r="0.85"/>
<circle cx="105.6" cy="76.2" r="0.85"/>
<circle cx="113.6" cy="76.2" r="0.85"/>
<circle cx="115.3" cy="76.2" r="0.85"/>
<circle cx="118.9" cy="75.3" r="0.85"/>
<circle cx="121.5" cy="74" r="0.85"/>
<circle cx="103.8" cy="78.9" r="0.85"/>
<circle cx="106" cy="79.8" r="0.85"/>
<circle cx="108.2" cy="78.9" r="0.85"/>
<circle cx="110.9" cy="78.9" r="0.85"/>
<circle cx="105.2" cy="80.7" r="0.85"/>
<circle cx="120" cy="86.2" r="0.85"/>
<circle cx="124.4" cy="85" r="0.85"/>
<circle cx="122.9" cy="89.5" r="0.85"/>
<circle cx="121.4" cy="96.5" r="0.85"/>
<circle cx="127.2" cy="88.3" r="0.85"/>
<circle cx="118.1" cy="92.8" r="0.85"/>
<circle cx="124.8" cy="90.4" r="0.85"/>
<circle cx="119.9" cy="92.8" r="0.85"/>
<circle cx="126.4" cy="94.6" r="0.85"/>
<circle cx="125.5" cy="88.3" r="0.85"/>
<circle cx="116.2" cy="94.1" r="0.85"/>
<circle cx="126" cy="92.6" r="0.85"/>
<circle cx="122" cy="94" r="0.85"/>
<circle cx="139.4" cy="92.3" r="0.85"/>
<circle cx="137.6" cy="90.4" r="0.85"/>
<circle cx="135.4" cy="89.2" r="0.85"/>
<circle cx="139" cy="88.1" r="0.85"/>
<circle cx="141.5" cy="90.5" r="0.85"/>
<circle cx="107.6" cy="110.3" r="0.85"/>
<circle cx="111.8" cy="111.5" r="0.85"/>
<circle cx="106.2" cy="108.7" r="0.85"/>
<circle cx="104.2" cy="106.9" r="0.85"/>
<circle cx="103" cy="108.4" r="0.85"/>
<circle cx="108.7" cy="106.8" r="0.85"/>
<circle cx="105.9" cy="106.6" r="0.85"/>
<circle cx="75.4" cy="125.9" r="0.85"/>
<circle cx="74.6" cy="124.1" r="0.85"/>
<circle cx="78.3" cy="127.8" r="0.85"/>
<circle cx="75.9" cy="128.5" r="0.85"/>
<circle cx="73.7" cy="126.2" r="0.85"/>
<circle cx="139.2" cy="71.8" r="0.85"/>
<circle cx="141.6" cy="71.8" r="0.85"/>
<circle cx="70" cy="77.3" r="0.85"/>
<circle cx="72.4" cy="77.3" r="0.85"/>
<circle cx="142.5" cy="98.5" r="0.85"/>
<circle cx="51.1" cy="106.5" r="0.85"/>
<circle cx="56.8" cy="106.4" r="0.85"/>
<circle cx="95.7" cy="115.6" r="0.85"/>
<circle cx="121.5" cy="128" r="0.85"/>
<circle cx="79.4" cy="55.5" r="0.85"/>
<circle cx="86.3" cy="52.4" r="0.85"/>
<circle cx="88.5" cy="106.4" r="0.85"/>
<circle cx="102.9" cy="112.5" r="0.85"/>
<circle cx="104.6" cy="113.1" r="0.85"/>
<circle cx="116.7" cy="113.1" r="0.85"/>
<circle cx="115.6" cy="115.4" r="0.85"/>
<circle cx="114.4" cy="117.7" r="0.85"/>
<circle cx="120.8" cy="111.7" r="0.85"/>
<circle cx="123.1" cy="112.5" r="0.85"/>
<circle cx="105.8" cy="128.1" r="0.85"/>
<circle cx="106.9" cy="131.5" r="0.85"/>
<circle cx="107.9" cy="134.5" r="0.85"/>
<circle cx="32.7" cy="163.3" r="0.85"/>
<circle cx="117.1" cy="113.1" r="0.85"/>
<circle cx="124.1" cy="113.8" r="0.85"/>
</g>
<circle cx="48.8" cy="32.1" r="1.8" fill="#e0c030"/>
<circle cx="65.3" cy="41.5" r="1.8" fill="#d8c030"/>
<circle cx="93.3" cy="64.4" r="1.2" fill="#b0a850"/>
<circle cx="103.3" cy="51.3" r="1.9" fill="#e8202a"/>
<circle cx="51" cy="106.1" r="2.3" fill="#c03040"/>
<circle cx="139.5" cy="71.2" r="2.9" fill="#c8b890" stroke="#3a3a3a" stroke-width="0.5"/>
<circle cx="141.9" cy="98.1" r="3.0" fill="#c0b088"/>
<circle cx="119.6" cy="93.5" r="2.4" fill="#e8202a"/>
<circle cx="121.9" cy="95.8" r="2.0" fill="#e8202a"/>
<circle cx="118.2" cy="91.8" r="1.2" fill="#b05030"/>
<circle cx="95.8" cy="86.5" r="1.8" fill="#d0c090"/>
<circle cx="121.9" cy="73.5" r="1.0" fill="#909878"/>
<circle cx="114.6" cy="117.4" r="2.8" fill="#e8202a"/>
<circle cx="117.2" cy="113.9" r="1.2" fill="#e06020"/>
<circle cx="124.1" cy="113.9" r="1.5" fill="#d0a060"/>
<circle cx="121.5" cy="111.3" r="0.8" fill="#40a040"/>
<circle cx="137.1" cy="137" r="2.0" fill="#e8202a"/>
<circle cx="34.6" cy="159.6" r="1.2" fill="#e0e088"/>
<circle cx="145.3" cy="166.7" r="2.4" fill="#e05020"/>
<circle cx="164.9" cy="116.4" r="1.6" fill="none" stroke="#c8c870" stroke-width="0.5"/>
<circle cx="166.7" cy="120.6" r="1.6" fill="none" stroke="#c8c870" stroke-width="0.5"/>
<g font-size="5.35" fill="#1a1a1a" stroke="#1a1a1a" stroke-width="0.17" font-family='"Liberation Sans", sans-serif'>
<text transform="translate(28.6,27.8) scale(0.935,1)">Metamyelocyte</text>
<text transform="translate(103.9,33.1) scale(0.935,1)">CD14<tspan dy="-1.8" font-size="3.4">+</tspan><tspan dy="1.8"> monocyte</tspan></text>
<text transform="translate(102,59.8) scale(0.935,1)">CD14<tspan dy="-1.8" font-size="3.4">lo</tspan><tspan dy="1.8"> monocyte</tspan></text>
<text transform="translate(122.9,64.5) scale(0.935,1)">Promonocyte</text>
<text transform="translate(145.5,75) scale(0.935,1)">Dendritic cell</text>
<text transform="translate(15.8,73.5) scale(0.935,1)">Mature granulocyte</text>
<text transform="translate(56.4,78.8) scale(0.935,1)">pDC</text>
<text transform="translate(125.3,80.8) scale(0.935,1)">Progenitor</text>
<text transform="translate(142.2,88.5) scale(0.935,1)">MPP</text>
<text transform="translate(35.2,91.2) scale(0.935,1)">Myelo/Monoblast</text>
<text transform="translate(13.8,97.9) scale(0.935,1)">Mature B cell</text>
<text transform="translate(43,102) scale(0.935,1)">Pre B2</text>
<text transform="translate(59.5,105.2) scale(0.935,1)">Pre B1</text>
<text transform="translate(149.3,101) scale(0.935,1)">HSC</text>
<text transform="translate(110.2,105) scale(0.935,1)">Promyelocyte</text>
<text transform="translate(47.6,119.2) scale(0.935,1)">Proerythroblast</text>
<text transform="translate(85.2,123.7) scale(0.935,1)">Plt / atypical AML</text>
<text transform="translate(165.6,129.8) scale(0.935,1)">NK cell</text>
<text transform="translate(111.1,134.3) scale(0.935,1)">Plasma</text>
<text transform="translate(111.1,138.9) scale(0.935,1)">cell</text>
<text transform="translate(19.7,147.8) scale(0.935,1)">Erythroblast</text>
<text transform="translate(83.2,161.5) scale(0.935,1)">Basophil</text>
<text transform="translate(129.6,174.4) scale(0.935,1)">T cell</text>
</g>
<defs><linearGradient id="cb5968" x1="0" y1="0" x2="0" y2="1"><stop offset="0" stop-color="#1a1a50"/><stop offset="0.2" stop-color="#1d5a5a"/><stop offset="0.4" stop-color="#3a8a40"/><stop offset="0.6" stop-color="#d8d848"/><stop offset="0.8" stop-color="#f0c040"/><stop offset="1" stop-color="#e8702a"/></linearGradient></defs>
<line x1="19.4" y1="12.2" x2="19.4" y2="15" stroke="#222" stroke-width="0.5"/>
<circle cx="19.4" cy="12.3" r="0.45" fill="#222"/>
<circle cx="19.0" cy="17.2" r="2.5" fill="#1c0c26"/>
<rect x="18.5" y="20.2" width="1.6" height="17" fill="url(#cb5968)"/>
<g font-family='"Liberation Sans", sans-serif' font-size="4.2" fill="#1a1a1a" stroke="#1a1a1a" stroke-width="0.22">
<text transform="translate(23.6,13.8) scale(0.86,1)" font-size="4.7">1 cell</text>
<text transform="translate(23.6,18.8) scale(0.86,1)" font-size="4.7">5,968 cells</text>
<text x="22.5" y="23.8" font-size="4.6" fill="#33339a">0</text>
<text x="21.8" y="38.2" font-size="4.6" fill="#333">2.71</text>
</g>
<text x="94.3" y="9.5" text-anchor="middle" font-family='"Liberation Sans", sans-serif' font-size="8.85" fill="#2a2a2a" stroke="#2a2a2a" stroke-width="0.12">AML14 (NK–AML, FLT3<tspan dy="-3" font-size="5.5">WT</tspan><tspan dy="3">)</tspan></text>
</g>
<g transform="translate(168.3,177.6)">
<g stroke="#dedede" stroke-width="0.7" fill="none">
<line x1="101.5" y1="110" x2="94.6" y2="140"/>
<line x1="100" y1="108.5" x2="78" y2="122.5"/>
<line x1="99" y1="109.5" x2="68" y2="128"/>
<line x1="116" y1="112" x2="133" y2="129.5"/>
<line x1="112" y1="113" x2="120.5" y2="126"/>
<line x1="114" y1="109" x2="140" y2="119"/>
<line x1="60" y1="103.5" x2="84" y2="101.5"/>
<line x1="124.5" y1="73.5" x2="136.8" y2="72"/>
<line x1="110" y1="104" x2="116" y2="98"/>
<line x1="128" y1="97" x2="140" y2="98"/>
<line x1="104" y1="87" x2="113" y2="92"/>
<line x1="72" y1="56" x2="95" y2="51"/>
<line x1="42" y1="158" x2="33" y2="163.5"/>
</g>
<ellipse cx="103" cy="101" rx="6" ry="4" fill="#eaf6f9" transform="rotate(35 103 101)"/>
<g stroke="#3a3a3a" stroke-width="0.7" fill="none" stroke-linejoin="round">
<polygon points="42.2,33.2 46.3,29.8 51,29.3 56.2,35.4 54,41.3 51.2,41.6 43.7,37"/>
<polygon points="68.9,22.9 79.2,30.2 77.5,35 75.5,45.6 71.7,57 51,68.7 46.5,65 47.8,55.5 63.5,26"/>
<polygon points="95.7,50.2 105.5,38.8 121.8,34.4 125.1,44.5 121.8,47.8 99.8,55.1"/>
<polygon points="83.9,63.9 87.7,60.2 99.8,57.4 102.7,61.2 99.8,66.9 88.3,67.8"/>
<polygon points="98.7,73.3 103.8,67.5 114.8,62.3 121.7,65.8 123.5,72.7 120,75.6 105,81.9 101,80.2"/>
<polygon points="113.9,93.8 118.9,83.2 125.5,81.9 130.7,85.9 130.3,91.2 126.8,98.9 120.5,101 115.7,98.6"/>
<polygon points="134,89.5 136.4,85.8 139.5,86 142.8,90.6 140.7,93 135.7,92.8"/>
<polygon points="74.6,87.1 77.5,84.2 93.1,83.1 101.7,86 104.6,88.8 103,100.8 93.1,104.4 87.3,102 75.8,94.6"/>
<polygon points="100.6,106.7 102.9,104.8 109.2,105 114.4,109 112.7,114.2 108.1,114.2 101.7,109.6"/>
<polygon points="24,115.3 29.5,102.5 36,100.2 45.8,105.1 47,109 44.5,119.5 40.9,120.3 26,117.5"/>
<polygon points="71.2,124.1 73,121.5 75.3,120.8 78.5,123.5 80.2,126.5 79,130 76.9,131.4 74.5,130 72,126.5"/>
<polygon points="40.9,158.4 44.2,153.5 67.1,126.9 70.3,128.2 72.8,134.7 68.7,151.1 54,167.4 49.1,173.9 44.2,170.7 41.7,164.1"/>
<polygon points="91.9,141.7 94.8,140.4 97.7,143.7 98.6,153.3 95.7,157.1 92.5,155.2 90.9,146.5"/>
<polygon points="130.5,132.5 134,129.2 149.5,130.8 154.3,135.5 157.5,145 158,154 153,164 147.5,171 144.5,169.5 133.5,151 130.8,140"/>
<polygon points="139.5,119.2 144.8,115.4 167.9,106.9 171,108.6 172.2,112.5 170.3,117.5 165.6,123 159.5,129 154,127.6 143.3,123.1"/>
<ellipse cx="140.4" cy="71.8" rx="3.6" ry="2.6"/>
<ellipse cx="71.2" cy="77.3" rx="3.8" ry="2.6"/>
<circle cx="142.5" cy="98.5" r="2.4"/>
<circle cx="51.1" cy="106.5" r="2.0"/>
<circle cx="56.8" cy="106.4" r="2.0"/>
<circle cx="95.7" cy="115.6" r="2.0"/>
<circle cx="121.5" cy="128.0" r="2.0"/>
</g>
<g fill="#15152e">
<circle cx="94.4" cy="143.2" r="0.85"/>
<circle cx="94.4" cy="145.7" r="0.85"/>
<circle cx="94.6" cy="149" r="0.85"/>
<circle cx="94.4" cy="151.8" r="0.85"/>
<circle cx="94.6" cy="154.8" r="0.85"/>
<circle cx="96.4" cy="150.8" r="0.85"/>
<circle cx="66.9" cy="128.8" r="0.85"/>
<circle cx="64.4" cy="130.8" r="0.85"/>
<circle cx="61.5" cy="133.7" r="0.85"/>
<circle cx="62.5" cy="143" r="0.85"/>
<circle cx="60" cy="145.5" r="0.85"/>
<circle cx="58" cy="148.4" r="0.85"/>
<circle cx="55.6" cy="150.4" r="0.85"/>
<circle cx="53.6" cy="152.4" r="0.85"/>
<circle cx="51.7" cy="154.3" r="0.85"/>
<circle cx="49.7" cy="156.3" r="0.85"/>
<circle cx="46.8" cy="157.3" r="0.85"/>
<circle cx="44.3" cy="156.8" r="0.85"/>
<circle cx="43.8" cy="158.9" r="0.85"/>
<circle cx="50.2" cy="159.7" r="0.85"/>
<circle cx="49.2" cy="163.1" r="0.85"/>
<circle cx="47.7" cy="166.1" r="0.85"/>
<circle cx="48.7" cy="169" r="0.85"/>
<circle cx="48.2" cy="171.2" r="0.85"/>
<circle cx="67.4" cy="133.7" r="0.85"/>
<circle cx="67.8" cy="135.9" r="0.85"/>
<circle cx="65.9" cy="137.6" r="0.85"/>
<circle cx="64.4" cy="139.6" r="0.85"/>
<circle cx="65.4" cy="142.5" r="0.85"/>
<circle cx="64.4" cy="145.5" r="0.85"/>
<circle cx="65.4" cy="148.4" r="0.85"/>
<circle cx="61" cy="132.7" r="0.85"/>
<circle cx="63.4" cy="137.2" r="0.85"/>
<circle cx="62.5" cy="139.6" r="0.85"/>
<circle cx="44.8" cy="155.3" r="0.85"/>
<circle cx="52.2" cy="157.3" r="0.85"/>
<circle cx="53.1" cy="162.2" r="0.85"/>
<circle cx="51.2" cy="161.2" r="0.85"/>
<circle cx="57.5" cy="151.4" r="0.85"/>
<circle cx="59.5" cy="149.4" r="0.85"/>
<circle cx="46.5" cy="160.5" r="0.85"/>
<circle cx="56.5" cy="146.8" r="0.85"/>
<circle cx="60.8" cy="141.2" r="0.85"/>
<circle cx="63.1" cy="134.9" r="0.85"/>
<circle cx="65.2" cy="29.2" r="0.85"/>
<circle cx="69.1" cy="28.3" r="0.85"/>
<circle cx="65.6" cy="31.9" r="0.85"/>
<circle cx="68.2" cy="31.4" r="0.85"/>
<circle cx="70" cy="33.2" r="0.85"/>
<circle cx="66" cy="34" r="0.85"/>
<circle cx="68.7" cy="34.5" r="0.85"/>
<circle cx="75.3" cy="30.5" r="0.85"/>
<circle cx="76.1" cy="32.3" r="0.85"/>
<circle cx="74.8" cy="34" r="0.85"/>
<circle cx="73.1" cy="36.2" r="0.85"/>
<circle cx="70.4" cy="37.6" r="0.85"/>
<circle cx="64.7" cy="40.2" r="0.85"/>
<circle cx="66" cy="41.5" r="0.85"/>
<circle cx="68.7" cy="40.6" r="0.85"/>
<circle cx="70.4" cy="42.4" r="0.85"/>
<circle cx="72.6" cy="43.3" r="0.85"/>
<circle cx="66" cy="43.7" r="0.85"/>
<circle cx="68.2" cy="45.5" r="0.85"/>
<circle cx="70" cy="44.6" r="0.85"/>
<circle cx="65.6" cy="48.1" r="0.85"/>
<circle cx="66.9" cy="49.4" r="0.85"/>
<circle cx="68.7" cy="48.1" r="0.85"/>
<circle cx="61.6" cy="50.3" r="0.85"/>
<circle cx="63.4" cy="52" r="0.85"/>
<circle cx="61.2" cy="52.5" r="0.85"/>
<circle cx="66.9" cy="52" r="0.85"/>
<circle cx="69.1" cy="53.4" r="0.85"/>
<circle cx="70.4" cy="55.6" r="0.85"/>
<circle cx="67.8" cy="57.8" r="0.85"/>
<circle cx="65.2" cy="55.1" r="0.85"/>
<circle cx="63.4" cy="56" r="0.85"/>
<circle cx="58.6" cy="53.8" r="0.85"/>
<circle cx="57.3" cy="55.1" r="0.85"/>
<circle cx="56.4" cy="56.9" r="0.85"/>
<circle cx="54.6" cy="54.2" r="0.85"/>
<circle cx="52" cy="55.1" r="0.85"/>
<circle cx="51.1" cy="57.8" r="0.85"/>
<circle cx="57.7" cy="58.6" r="0.85"/>
<circle cx="59.5" cy="59.5" r="0.85"/>
<circle cx="61.2" cy="58.6" r="0.85"/>
<circle cx="56.4" cy="60.4" r="0.85"/>
<circle cx="55.5" cy="62.1" r="0.85"/>
<circle cx="53.8" cy="63" r="0.85"/>
<circle cx="52" cy="64.8" r="0.85"/>
<circle cx="50.2" cy="66.5" r="0.85"/>
<circle cx="58.1" cy="61.3" r="0.85"/>
<circle cx="62.5" cy="56.9" r="0.85"/>
<circle cx="59.9" cy="56.9" r="0.85"/>
<circle cx="56.8" cy="53.4" r="0.85"/>
<circle cx="46.3" cy="33.2" r="0.85"/>
<circle cx="49.8" cy="31.4" r="0.85"/>
<circle cx="47.6" cy="35.4" r="0.85"/>
<circle cx="50.2" cy="34.5" r="0.85"/>
<circle cx="51.5" cy="37.1" r="0.85"/>
<circle cx="45.9" cy="35.4" r="0.85"/>
<circle cx="49.8" cy="38" r="0.85"/>
<circle cx="52.4" cy="39.3" r="0.85"/>
<circle cx="48.5" cy="36.2" r="0.85"/>
<circle cx="105.5" cy="42.1" r="0.85"/>
<circle cx="107.9" cy="42.1" r="0.85"/>
<circle cx="105.2" cy="45.5" r="0.85"/>
<circle cx="107.2" cy="46.2" r="0.85"/>
<circle cx="107.9" cy="48.2" r="0.85"/>
<circle cx="105.9" cy="49.6" r="0.85"/>
<circle cx="103.8" cy="50.9" r="0.85"/>
<circle cx="102.5" cy="48.5" r="0.85"/>
<circle cx="100.5" cy="48.9" r="0.85"/>
<circle cx="98.1" cy="51.9" r="0.85"/>
<circle cx="101.1" cy="53.6" r="0.85"/>
<circle cx="111.6" cy="40.1" r="0.85"/>
<circle cx="113.3" cy="40.8" r="0.85"/>
<circle cx="115.3" cy="40.1" r="0.85"/>
<circle cx="117" cy="41.1" r="0.85"/>
<circle cx="119.4" cy="38.4" r="0.85"/>
<circle cx="121.4" cy="36.7" r="0.85"/>
<circle cx="111.9" cy="43.8" r="0.85"/>
<circle cx="114" cy="44.2" r="0.85"/>
<circle cx="116" cy="45.2" r="0.85"/>
<circle cx="118" cy="44.2" r="0.85"/>
<circle cx="119.7" cy="42.8" r="0.85"/>
<circle cx="121.4" cy="42.1" r="0.85"/>
<circle cx="122.1" cy="44.2" r="0.85"/>
<circle cx="122.8" cy="45.5" r="0.85"/>
<circle cx="113.3" cy="46.2" r="0.85"/>
<circle cx="115.3" cy="46.9" r="0.85"/>
<circle cx="110.9" cy="48.2" r="0.85"/>
<circle cx="119.4" cy="45.9" r="0.85"/>
<circle cx="117.3" cy="46.2" r="0.85"/>
<circle cx="82.1" cy="86.2" r="0.85"/>
<circle cx="80.7" cy="88" r="0.85"/>
<circle cx="83.8" cy="88.7" r="0.85"/>
<circle cx="86.9" cy="89.3" r="0.85"/>
<circle cx="79" cy="91.4" r="0.85"/>
<circle cx="82.1" cy="91.8" r="0.85"/>
<circle cx="85.5" cy="92.8" r="0.85"/>
<circle cx="78.3" cy="94.2" r="0.85"/>
<circle cx="81.7" cy="94.9" r="0.85"/>
<circle cx="84.2" cy="95.6" r="0.85"/>
<circle cx="88" cy="94.5" r="0.85"/>
<circle cx="90" cy="90.7" r="0.85"/>
<circle cx="90.7" cy="93.2" r="0.85"/>
<circle cx="93.2" cy="92.1" r="0.85"/>
<circle cx="92.5" cy="94.9" r="0.85"/>
<circle cx="90" cy="96.3" r="0.85"/>
<circle cx="94.2" cy="96.6" r="0.85"/>
<circle cx="91.8" cy="98.3" r="0.85"/>
<circle cx="90" cy="99" r="0.85"/>
<circle cx="96.3" cy="86.6" r="0.85"/>
<circle cx="96.3" cy="89.3" r="0.85"/>
<circle cx="99" cy="90.4" r="0.85"/>
<circle cx="101.8" cy="90" r="0.85"/>
<circle cx="96.3" cy="92.8" r="0.85"/>
<circle cx="98" cy="93.8" r="0.85"/>
<circle cx="100.8" cy="95.2" r="0.85"/>
<circle cx="97" cy="96.6" r="0.85"/>
<circle cx="99.4" cy="98" r="0.85"/>
<circle cx="98.4" cy="100.4" r="0.85"/>
<circle cx="100.1" cy="101.8" r="0.85"/>
<circle cx="92.8" cy="102.2" r="0.85"/>
<circle cx="95.2" cy="100.8" r="0.85"/>
<circle cx="87.6" cy="92.5" r="0.85"/>
<circle cx="82.8" cy="93.5" r="0.85"/>
<circle cx="135.8" cy="130.9" r="0.85"/>
<circle cx="133.4" cy="136.1" r="0.85"/>
<circle cx="136.6" cy="136.5" r="0.85"/>
<circle cx="138.6" cy="137.3" r="0.85"/>
<circle cx="135.4" cy="138.2" r="0.85"/>
<circle cx="137.4" cy="140.2" r="0.85"/>
<circle cx="137.4" cy="143.4" r="0.85"/>
<circle cx="136.2" cy="146.3" r="0.85"/>
<circle cx="135.4" cy="149.9" r="0.85"/>
<circle cx="139.9" cy="149.5" r="0.85"/>
<circle cx="140.7" cy="146.3" r="0.85"/>
<circle cx="141.1" cy="143.4" r="0.85"/>
<circle cx="142.7" cy="141.8" r="0.85"/>
<circle cx="144.3" cy="140.6" r="0.85"/>
<circle cx="143.9" cy="138.6" r="0.85"/>
<circle cx="147.2" cy="136.9" r="0.85"/>
<circle cx="149.2" cy="137.3" r="0.85"/>
<circle cx="151.2" cy="134.5" r="0.85"/>
<circle cx="151.6" cy="137.8" r="0.85"/>
<circle cx="153.6" cy="139.4" r="0.85"/>
<circle cx="149.6" cy="140.2" r="0.85"/>
<circle cx="146.7" cy="143" r="0.85"/>
<circle cx="142.7" cy="145.4" r="0.85"/>
<circle cx="142.3" cy="148.7" r="0.85"/>
<circle cx="148" cy="145.8" r="0.85"/>
<circle cx="146.3" cy="147.9" r="0.85"/>
<circle cx="148.8" cy="147.9" r="0.85"/>
<circle cx="150" cy="150.3" r="0.85"/>
<circle cx="152" cy="148.3" r="0.85"/>
<circle cx="155.2" cy="149.5" r="0.85"/>
<circle cx="153.2" cy="152.3" r="0.85"/>
<circle cx="150.8" cy="151.5" r="0.85"/>
<circle cx="148.4" cy="150.7" r="0.85"/>
<circle cx="141.9" cy="151.9" r="0.85"/>
<circle cx="142.3" cy="155.2" r="0.85"/>
<circle cx="140.3" cy="157.2" r="0.85"/>
<circle cx="142.7" cy="157.2" r="0.85"/>
<circle cx="144.3" cy="158.4" r="0.85"/>
<circle cx="152.4" cy="156.8" r="0.85"/>
<circle cx="154.4" cy="159.2" r="0.85"/>
<circle cx="144.7" cy="161.7" r="0.85"/>
<circle cx="145.1" cy="164.1" r="0.85"/>
<circle cx="148" cy="165.3" r="0.85"/>
<circle cx="145.9" cy="166.9" r="0.85"/>
<circle cx="143.1" cy="166.5" r="0.85"/>
<circle cx="146.7" cy="169.8" r="0.85"/>
<circle cx="138.2" cy="158" r="0.85"/>
<circle cx="141.5" cy="119.4" r="0.85"/>
<circle cx="144.2" cy="117.8" r="0.85"/>
<circle cx="147.2" cy="117.8" r="0.85"/>
<circle cx="149.9" cy="118.6" r="0.85"/>
<circle cx="153.4" cy="115.5" r="0.85"/>
<circle cx="153.8" cy="118.2" r="0.85"/>
<circle cx="156.5" cy="117.1" r="0.85"/>
<circle cx="158.8" cy="115.5" r="0.85"/>
<circle cx="161.8" cy="113.6" r="0.85"/>
<circle cx="162.2" cy="111.7" r="0.85"/>
<circle cx="164.6" cy="111.3" r="0.85"/>
<circle cx="166.5" cy="110.5" r="0.85"/>
<circle cx="168.8" cy="109.4" r="0.85"/>
<circle cx="164.9" cy="116.7" r="0.85"/>
<circle cx="167.2" cy="116.7" r="0.85"/>
<circle cx="169.6" cy="116.7" r="0.85"/>
<circle cx="166.5" cy="119.4" r="0.85"/>
<circle cx="168.8" cy="120.5" r="0.85"/>
<circle cx="158" cy="119.4" r="0.85"/>
<circle cx="160.3" cy="120.5" r="0.85"/>
<circle cx="161.1" cy="122.5" r="0.85"/>
<circle cx="154.2" cy="120.9" r="0.85"/>
<circle cx="156.5" cy="122.5" r="0.85"/>
<circle cx="150.7" cy="121.3" r="0.85"/>
<circle cx="151.8" cy="124" r="0.85"/>
<circle cx="155.3" cy="124" r="0.85"/>
<circle cx="157.6" cy="127.1" r="0.85"/>
<circle cx="155.7" cy="125.2" r="0.85"/>
<circle cx="159.6" cy="121.7" r="0.85"/>
<circle cx="30.3" cy="104.4" r="0.85"/>
<circle cx="33.3" cy="104.4" r="0.85"/>
<circle cx="34.6" cy="103.3" r="0.85"/>
<circle cx="33.3" cy="106" r="0.85"/>
<circle cx="36" cy="106.5" r="0.85"/>
<circle cx="38.4" cy="104.7" r="0.85"/>
<circle cx="39.5" cy="105.5" r="0.85"/>
<circle cx="38.9" cy="107.1" r="0.85"/>
<circle cx="37.3" cy="107.6" r="0.85"/>
<circle cx="40.5" cy="108.2" r="0.85"/>
<circle cx="42.2" cy="107.1" r="0.85"/>
<circle cx="42.7" cy="108.7" r="0.85"/>
<circle cx="43.8" cy="109.8" r="0.85"/>
<circle cx="45.9" cy="107.6" r="0.85"/>
<circle cx="30.1" cy="107.6" r="0.85"/>
<circle cx="34.1" cy="108.4" r="0.85"/>
<circle cx="37.9" cy="109" r="0.85"/>
<circle cx="40" cy="111.4" r="0.85"/>
<circle cx="37.9" cy="112.5" r="0.85"/>
<circle cx="39.5" cy="113.5" r="0.85"/>
<circle cx="41.6" cy="111.9" r="0.85"/>
<circle cx="41.1" cy="114.6" r="0.85"/>
<circle cx="43.2" cy="115.2" r="0.85"/>
<circle cx="42.2" cy="117.3" r="0.85"/>
<circle cx="43.2" cy="118.1" r="0.85"/>
<circle cx="38.9" cy="116.2" r="0.85"/>
<circle cx="37.3" cy="115.2" r="0.85"/>
<circle cx="34.6" cy="114.3" r="0.85"/>
<circle cx="33.5" cy="115.7" r="0.85"/>
<circle cx="32.5" cy="116.2" r="0.85"/>
<circle cx="31.1" cy="114.3" r="0.85"/>
<circle cx="28.7" cy="115.2" r="0.85"/>
<circle cx="26.3" cy="116.2" r="0.85"/>
<circle cx="34.1" cy="117.6" r="0.85"/>
<circle cx="39.5" cy="117.3" r="0.85"/>
<circle cx="35.7" cy="109.8" r="0.85"/>
<circle cx="33" cy="110.8" r="0.85"/>
<circle cx="43.2" cy="112.5" r="0.85"/>
<circle cx="98.1" cy="59.4" r="0.85"/>
<circle cx="93.2" cy="61.6" r="0.85"/>
<circle cx="95" cy="63" r="0.85"/>
<circle cx="97.2" cy="62.5" r="0.85"/>
<circle cx="99" cy="62.1" r="0.85"/>
<circle cx="100.3" cy="63.4" r="0.85"/>
<circle cx="96.3" cy="63.9" r="0.85"/>
<circle cx="87" cy="64.3" r="0.85"/>
<circle cx="89.7" cy="65.2" r="0.85"/>
<circle cx="91.9" cy="66.1" r="0.85"/>
<circle cx="93.7" cy="65.6" r="0.85"/>
<circle cx="95" cy="66.5" r="0.85"/>
<circle cx="97.6" cy="66.5" r="0.85"/>
<circle cx="99" cy="66.1" r="0.85"/>
<circle cx="114" cy="65.6" r="0.85"/>
<circle cx="118" cy="66.5" r="0.85"/>
<circle cx="110" cy="68.3" r="0.85"/>
<circle cx="112.2" cy="68.3" r="0.85"/>
<circle cx="115.3" cy="69.2" r="0.85"/>
<circle cx="118" cy="68.3" r="0.85"/>
<circle cx="119.8" cy="69.2" r="0.85"/>
<circle cx="108.2" cy="70" r="0.85"/>
<circle cx="111.8" cy="70.9" r="0.85"/>
<circle cx="114.4" cy="71.4" r="0.85"/>
<circle cx="106" cy="72.3" r="0.85"/>
<circle cx="108.2" cy="72.7" r="0.85"/>
<circle cx="110.9" cy="72.3" r="0.85"/>
<circle cx="100.7" cy="74" r="0.85"/>
<circle cx="103.4" cy="75.3" r="0.85"/>
<circle cx="105.6" cy="76.2" r="0.85"/>
<circle cx="113.6" cy="76.2" r="0.85"/>
<circle cx="115.3" cy="76.2" r="0.85"/>
<circle cx="118.9" cy="75.3" r="0.85"/>
<circle cx="121.5" cy="74" r="0.85"/>
<circle cx="103.8" cy="78.9" r="0.85"/>
<circle cx="106" cy="79.8" r="0.85"/>
<circle cx="108.2" cy="78.9" r="0.85"/>
<circle cx="110.9" cy="78.9" r="0.85"/>
<circle cx="105.2" cy="80.7" r="0.85"/>
<circle cx="120" cy="86.2" r="0.85"/>
<circle cx="124.4" cy="85" r="0.85"/>
<circle cx="122.9" cy="89.5" r="0.85"/>
<circle cx="121.4" cy="96.5" r="0.85"/>
<circle cx="127.2" cy="88.3" r="0.85"/>
<circle cx="118.1" cy="92.8" r="0.85"/>
<circle cx="124.8" cy="90.4" r="0.85"/>
<circle cx="119.9" cy="92.8" r="0.85"/>
<circle cx="126.4" cy="94.6" r="0.85"/>
<circle cx="125.5" cy="88.3" r="0.85"/>
<circle cx="116.2" cy="94.1" r="0.85"/>
<circle cx="126" cy="92.6" r="0.85"/>
<circle cx="122" cy="94" r="0.85"/>
<circle cx="139.4" cy="92.3" r="0.85"/>
<circle cx="137.6" cy="90.4" r="0.85"/>
<circle cx="135.4" cy="89.2" r="0.85"/>
<circle cx="139" cy="88.1" r="0.85"/>
<circle cx="141.5" cy="90.5" r="0.85"/>
<circle cx="107.6" cy="110.3" r="0.85"/>
<circle cx="111.8" cy="111.5" r="0.85"/>
<circle cx="106.2" cy="108.7" r="0.85"/>
<circle cx="104.2" cy="106.9" r="0.85"/>
<circle cx="103" cy="108.4" r="0.85"/>
<circle cx="108.7" cy="106.8" r="0.85"/>
<circle cx="105.9" cy="106.6" r="0.85"/>
<circle cx="75.4" cy="125.9" r="0.85"/>
<circle cx="74.6" cy="124.1" r="0.85"/>
<circle cx="78.3" cy="127.8" r="0.85"/>
<circle cx="75.9" cy="128.5" r="0.85"/>
<circle cx="73.7" cy="126.2" r="0.85"/>
<circle cx="139.2" cy="71.8" r="0.85"/>
<circle cx="141.6" cy="71.8" r="0.85"/>
<circle cx="70" cy="77.3" r="0.85"/>
<circle cx="72.4" cy="77.3" r="0.85"/>
<circle cx="142.5" cy="98.5" r="0.85"/>
<circle cx="51.1" cy="106.5" r="0.85"/>
<circle cx="56.8" cy="106.4" r="0.85"/>
<circle cx="95.7" cy="115.6" r="0.85"/>
<circle cx="121.5" cy="128" r="0.85"/>
<circle cx="79.4" cy="55.5" r="0.85"/>
<circle cx="86.3" cy="52.4" r="0.85"/>
<circle cx="88.5" cy="106.4" r="0.85"/>
<circle cx="102.9" cy="112.5" r="0.85"/>
<circle cx="104.6" cy="113.1" r="0.85"/>
<circle cx="116.7" cy="113.1" r="0.85"/>
<circle cx="115.6" cy="115.4" r="0.85"/>
<circle cx="114.4" cy="117.7" r="0.85"/>
<circle cx="120.8" cy="111.7" r="0.85"/>
<circle cx="123.1" cy="112.5" r="0.85"/>
<circle cx="105.8" cy="128.1" r="0.85"/>
<circle cx="106.9" cy="131.5" r="0.85"/>
<circle cx="107.9" cy="134.5" r="0.85"/>
<circle cx="32.7" cy="163.3" r="0.85"/>
<circle cx="117.1" cy="113.1" r="0.85"/>
<circle cx="124.1" cy="113.8" r="0.85"/>
</g>
<circle cx="69.8" cy="76.5" r="2.4" fill="#d02030"/>
<circle cx="81.3" cy="87.1" r="0.9" fill="#c02030"/>
<circle cx="87.5" cy="89.3" r="1.3" fill="#e8202a"/>
<circle cx="92.9" cy="91.3" r="2.2" fill="#e8202a"/>
<circle cx="95.9" cy="92.3" r="2.2" fill="#e8202a"/>
<circle cx="97.9" cy="95.1" r="2.5" fill="#e8202a"/>
<circle cx="99" cy="98.5" r="2.6" fill="#e8202a"/>
<circle cx="89.8" cy="95.1" r="1.2" fill="#a01020"/>
<circle cx="84.5" cy="88.2" r="0.9" fill="#c02030"/>
<circle cx="96.8" cy="94.4" r="0.8" fill="#f0e0a0"/>
<circle cx="115.2" cy="94.6" r="2.0" fill="#c02030"/>
<circle cx="135.9" cy="89.6" r="1.8" fill="#a01a30"/>
<polygon points="134,89.5 136.4,85.8 139.5,86 142.8,90.6 140.7,93 135.7,92.8" fill="none" stroke="#c07080" stroke-width="0.6"/>
<g font-size="5.35" fill="#1a1a1a" stroke="#1a1a1a" stroke-width="0.17" font-family='"Liberation Sans", sans-serif'>
<text transform="translate(28.6,27.8) scale(0.935,1)">Metamyelocyte</text>
<text transform="translate(103.9,33.1) scale(0.935,1)">CD14<tspan dy="-1.8" font-size="3.4">+</tspan><tspan dy="1.8"> monocyte</tspan></text>
<text transform="translate(102,59.8) scale(0.935,1)">CD14<tspan dy="-1.8" font-size="3.4">lo</tspan><tspan dy="1.8"> monocyte</tspan></text>
<text transform="translate(122.9,64.5) scale(0.935,1)">Promonocyte</text>
<text transform="translate(145.5,75) scale(0.935,1)">Dendritic cell</text>
<text transform="translate(16.8,74.2) scale(0.935,1)">Mature granulocyte</text>
<text transform="translate(57.5,80.2) scale(0.935,1)">pDC</text>
<text transform="translate(125.3,80.8) scale(0.935,1)">Progenitor</text>
<text transform="translate(142.2,88.5) scale(0.935,1)">MPP</text>
<text transform="translate(35.2,91.2) scale(0.935,1)">Myelo/Monoblast</text>
<text transform="translate(13.8,97.9) scale(0.935,1)">Mature B cell</text>
<text transform="translate(43,102) scale(0.935,1)">Pre B2</text>
<text transform="translate(59.5,105.2) scale(0.935,1)">Pre B1</text>
<text transform="translate(149.3,101) scale(0.935,1)">HSC</text>
<text transform="translate(111,105) scale(0.935,1)">Promyelocyte</text>
<text transform="translate(47.6,119.2) scale(0.935,1)">Proerythroblast</text>
<text transform="translate(85.2,123.7) scale(0.935,1)">Plt / atypical AML</text>
<text transform="translate(165.6,129.8) scale(0.935,1)">NK cell</text>
<text transform="translate(111.1,134.3) scale(0.935,1)">Plasma</text>
<text transform="translate(111.1,138.9) scale(0.935,1)">cell</text>
<text transform="translate(19.7,147.8) scale(0.935,1)">Erythroblast</text>
<text transform="translate(83.2,161.5) scale(0.935,1)">Basophil</text>
<text transform="translate(129.6,174.4) scale(0.935,1)">T cell</text>
</g>
<defs><linearGradient id="cb52988" x1="0" y1="0" x2="0" y2="1"><stop offset="0" stop-color="#1a1a50"/><stop offset="0.2" stop-color="#1d5a5a"/><stop offset="0.4" stop-color="#3a8a40"/><stop offset="0.6" stop-color="#d8d848"/><stop offset="0.8" stop-color="#f0c040"/><stop offset="1" stop-color="#e8702a"/></linearGradient></defs>
<line x1="19.4" y1="12.2" x2="19.4" y2="15" stroke="#222" stroke-width="0.5"/>
<circle cx="19.4" cy="12.3" r="0.45" fill="#222"/>
<circle cx="19.0" cy="17.2" r="2.5" fill="#1c0c26"/>
<rect x="18.5" y="20.2" width="1.6" height="17" fill="url(#cb52988)"/>
<g font-family='"Liberation Sans", sans-serif' font-size="4.2" fill="#1a1a1a" stroke="#1a1a1a" stroke-width="0.22">
<text transform="translate(23.6,13.8) scale(0.86,1)" font-size="4.7">1 cell</text>
<text transform="translate(23.6,18.8) scale(0.86,1)" font-size="4.7">52,988 cells</text>
<text x="22.5" y="23.8" font-size="4.6" fill="#33339a">0</text>
<text x="21.8" y="38.2" font-size="4.6" fill="#333">2.71</text>
</g>
<text x="94.3" y="9.5" text-anchor="middle" font-family='"Liberation Sans", sans-serif' font-size="8.85" fill="#2a2a2a" stroke="#2a2a2a" stroke-width="0.12">AML27 (NK–AML, FLT3-ITD<tspan dy="-3" font-size="5.5">+</tspan><tspan dy="3">)</tspan></text>
</g>
<g transform="translate(336.7,177.6)">
<g stroke="#dedede" stroke-width="0.7" fill="none">
<line x1="101.5" y1="110" x2="94.6" y2="140"/>
<line x1="100" y1="108.5" x2="78" y2="122.5"/>
<line x1="99" y1="109.5" x2="68" y2="128"/>
<line x1="116" y1="112" x2="133" y2="129.5"/>
<line x1="112" y1="113" x2="120.5" y2="126"/>
<line x1="114" y1="109" x2="140" y2="119"/>
<line x1="60" y1="103.5" x2="84" y2="101.5"/>
<line x1="124.5" y1="73.5" x2="136.8" y2="72"/>
<line x1="110" y1="104" x2="116" y2="98"/>
<line x1="128" y1="97" x2="140" y2="98"/>
<line x1="104" y1="87" x2="113" y2="92"/>
<line x1="72" y1="56" x2="95" y2="51"/>
<line x1="42" y1="158" x2="33" y2="163.5"/>
</g>
<ellipse cx="103" cy="101" rx="6" ry="4" fill="#eaf6f9" transform="rotate(35 103 101)"/>
<g stroke="#3a3a3a" stroke-width="0.7" fill="none" stroke-linejoin="round">
<polygon points="42.2,33.2 46.3,29.8 51,29.3 56.2,35.4 54,41.3 51.2,41.6 43.7,37"/>
<polygon points="68.9,22.9 79.2,30.2 77.5,35 75.5,45.6 71.7,57 51,68.7 46.5,65 47.8,55.5 63.5,26"/>
<polygon points="95.7,50.2 105.5,38.8 121.8,34.4 125.1,44.5 121.8,47.8 99.8,55.1"/>
<polygon points="83.9,63.9 87.7,60.2 99.8,57.4 102.7,61.2 99.8,66.9 88.3,67.8"/>
<polygon points="98.7,73.3 103.8,67.5 114.8,62.3 121.7,65.8 123.5,72.7 120,75.6 105,81.9 101,80.2"/>
<polygon points="113.9,93.8 118.9,83.2 125.5,81.9 130.7,85.9 130.3,91.2 126.8,98.9 120.5,101 115.7,98.6"/>
<polygon points="134,89.5 136.4,85.8 139.5,86 142.8,90.6 140.7,93 135.7,92.8"/>
<polygon points="74.6,87.1 77.5,84.2 93.1,83.1 101.7,86 104.6,88.8 103,100.8 93.1,104.4 87.3,102 75.8,94.6"/>
<polygon points="100.6,106.7 102.9,104.8 109.2,105 114.4,109 112.7,114.2 108.1,114.2 101.7,109.6"/>
<polygon points="24,115.3 29.5,102.5 36,100.2 45.8,105.1 47,109 44.5,119.5 40.9,120.3 26,117.5"/>
<polygon points="71.2,124.1 73,121.5 75.3,120.8 78.5,123.5 80.2,126.5 79,130 76.9,131.4 74.5,130 72,126.5"/>
<polygon points="40.9,158.4 44.2,153.5 67.1,126.9 70.3,128.2 72.8,134.7 68.7,151.1 54,167.4 49.1,173.9 44.2,170.7 41.7,164.1"/>
<polygon points="91.9,141.7 94.8,140.4 97.7,143.7 98.6,153.3 95.7,157.1 92.5,155.2 90.9,146.5"/>
<polygon points="130.5,132.5 134,129.2 149.5,130.8 154.3,135.5 157.5,145 158,154 153,164 147.5,171 144.5,169.5 133.5,151 130.8,140"/>
<polygon points="139.5,119.2 144.8,115.4 167.9,106.9 171,108.6 172.2,112.5 170.3,117.5 165.6,123 159.5,129 154,127.6 143.3,123.1"/>
<ellipse cx="140.4" cy="71.8" rx="3.6" ry="2.6"/>
<ellipse cx="71.2" cy="77.3" rx="3.8" ry="2.6"/>
<circle cx="142.5" cy="98.5" r="2.4"/>
<circle cx="51.1" cy="106.5" r="2.0"/>
<circle cx="56.8" cy="106.4" r="2.0"/>
<circle cx="95.7" cy="115.6" r="2.0"/>
<circle cx="121.5" cy="128.0" r="2.0"/>
</g>
<g fill="#15152e">
<circle cx="94.4" cy="143.2" r="0.85"/>
<circle cx="94.4" cy="145.7" r="0.85"/>
<circle cx="94.6" cy="149" r="0.85"/>
<circle cx="94.4" cy="151.8" r="0.85"/>
<circle cx="94.6" cy="154.8" r="0.85"/>
<circle cx="96.4" cy="150.8" r="0.85"/>
<circle cx="66.9" cy="128.8" r="0.85"/>
<circle cx="64.4" cy="130.8" r="0.85"/>
<circle cx="61.5" cy="133.7" r="0.85"/>
<circle cx="62.5" cy="143" r="0.85"/>
<circle cx="60" cy="145.5" r="0.85"/>
<circle cx="58" cy="148.4" r="0.85"/>
<circle cx="55.6" cy="150.4" r="0.85"/>
<circle cx="53.6" cy="152.4" r="0.85"/>
<circle cx="51.7" cy="154.3" r="0.85"/>
<circle cx="49.7" cy="156.3" r="0.85"/>
<circle cx="46.8" cy="157.3" r="0.85"/>
<circle cx="44.3" cy="156.8" r="0.85"/>
<circle cx="43.8" cy="158.9" r="0.85"/>
<circle cx="50.2" cy="159.7" r="0.85"/>
<circle cx="49.2" cy="163.1" r="0.85"/>
<circle cx="47.7" cy="166.1" r="0.85"/>
<circle cx="48.7" cy="169" r="0.85"/>
<circle cx="48.2" cy="171.2" r="0.85"/>
<circle cx="67.4" cy="133.7" r="0.85"/>
<circle cx="67.8" cy="135.9" r="0.85"/>
<circle cx="65.9" cy="137.6" r="0.85"/>
<circle cx="64.4" cy="139.6" r="0.85"/>
<circle cx="65.4" cy="142.5" r="0.85"/>
<circle cx="64.4" cy="145.5" r="0.85"/>
<circle cx="65.4" cy="148.4" r="0.85"/>
<circle cx="61" cy="132.7" r="0.85"/>
<circle cx="63.4" cy="137.2" r="0.85"/>
<circle cx="62.5" cy="139.6" r="0.85"/>
<circle cx="44.8" cy="155.3" r="0.85"/>
<circle cx="52.2" cy="157.3" r="0.85"/>
<circle cx="53.1" cy="162.2" r="0.85"/>
<circle cx="51.2" cy="161.2" r="0.85"/>
<circle cx="57.5" cy="151.4" r="0.85"/>
<circle cx="59.5" cy="149.4" r="0.85"/>
<circle cx="46.5" cy="160.5" r="0.85"/>
<circle cx="56.5" cy="146.8" r="0.85"/>
<circle cx="60.8" cy="141.2" r="0.85"/>
<circle cx="63.1" cy="134.9" r="0.85"/>
<circle cx="65.2" cy="29.2" r="0.85"/>
<circle cx="69.1" cy="28.3" r="0.85"/>
<circle cx="65.6" cy="31.9" r="0.85"/>
<circle cx="68.2" cy="31.4" r="0.85"/>
<circle cx="70" cy="33.2" r="0.85"/>
<circle cx="66" cy="34" r="0.85"/>
<circle cx="68.7" cy="34.5" r="0.85"/>
<circle cx="75.3" cy="30.5" r="0.85"/>
<circle cx="76.1" cy="32.3" r="0.85"/>
<circle cx="74.8" cy="34" r="0.85"/>
<circle cx="73.1" cy="36.2" r="0.85"/>
<circle cx="70.4" cy="37.6" r="0.85"/>
<circle cx="64.7" cy="40.2" r="0.85"/>
<circle cx="66" cy="41.5" r="0.85"/>
<circle cx="68.7" cy="40.6" r="0.85"/>
<circle cx="70.4" cy="42.4" r="0.85"/>
<circle cx="72.6" cy="43.3" r="0.85"/>
<circle cx="66" cy="43.7" r="0.85"/>
<circle cx="68.2" cy="45.5" r="0.85"/>
<circle cx="70" cy="44.6" r="0.85"/>
<circle cx="65.6" cy="48.1" r="0.85"/>
<circle cx="66.9" cy="49.4" r="0.85"/>
<circle cx="68.7" cy="48.1" r="0.85"/>
<circle cx="61.6" cy="50.3" r="0.85"/>
<circle cx="63.4" cy="52" r="0.85"/>
<circle cx="61.2" cy="52.5" r="0.85"/>
<circle cx="66.9" cy="52" r="0.85"/>
<circle cx="69.1" cy="53.4" r="0.85"/>
<circle cx="70.4" cy="55.6" r="0.85"/>
<circle cx="67.8" cy="57.8" r="0.85"/>
<circle cx="65.2" cy="55.1" r="0.85"/>
<circle cx="63.4" cy="56" r="0.85"/>
<circle cx="58.6" cy="53.8" r="0.85"/>
<circle cx="57.3" cy="55.1" r="0.85"/>
<circle cx="56.4" cy="56.9" r="0.85"/>
<circle cx="54.6" cy="54.2" r="0.85"/>
<circle cx="52" cy="55.1" r="0.85"/>
<circle cx="51.1" cy="57.8" r="0.85"/>
<circle cx="57.7" cy="58.6" r="0.85"/>
<circle cx="59.5" cy="59.5" r="0.85"/>
<circle cx="61.2" cy="58.6" r="0.85"/>
<circle cx="56.4" cy="60.4" r="0.85"/>
<circle cx="55.5" cy="62.1" r="0.85"/>
<circle cx="53.8" cy="63" r="0.85"/>
<circle cx="52" cy="64.8" r="0.85"/>
<circle cx="50.2" cy="66.5" r="0.85"/>
<circle cx="58.1" cy="61.3" r="0.85"/>
<circle cx="62.5" cy="56.9" r="0.85"/>
<circle cx="59.9" cy="56.9" r="0.85"/>
<circle cx="56.8" cy="53.4" r="0.85"/>
<circle cx="46.3" cy="33.2" r="0.85"/>
<circle cx="49.8" cy="31.4" r="0.85"/>
<circle cx="47.6" cy="35.4" r="0.85"/>
<circle cx="50.2" cy="34.5" r="0.85"/>
<circle cx="51.5" cy="37.1" r="0.85"/>
<circle cx="45.9" cy="35.4" r="0.85"/>
<circle cx="49.8" cy="38" r="0.85"/>
<circle cx="52.4" cy="39.3" r="0.85"/>
<circle cx="48.5" cy="36.2" r="0.85"/>
<circle cx="105.5" cy="42.1" r="0.85"/>
<circle cx="107.9" cy="42.1" r="0.85"/>
<circle cx="105.2" cy="45.5" r="0.85"/>
<circle cx="107.2" cy="46.2" r="0.85"/>
<circle cx="107.9" cy="48.2" r="0.85"/>
<circle cx="105.9" cy="49.6" r="0.85"/>
<circle cx="103.8" cy="50.9" r="0.85"/>
<circle cx="102.5" cy="48.5" r="0.85"/>
<circle cx="100.5" cy="48.9" r="0.85"/>
<circle cx="98.1" cy="51.9" r="0.85"/>
<circle cx="101.1" cy="53.6" r="0.85"/>
<circle cx="111.6" cy="40.1" r="0.85"/>
<circle cx="113.3" cy="40.8" r="0.85"/>
<circle cx="115.3" cy="40.1" r="0.85"/>
<circle cx="117" cy="41.1" r="0.85"/>
<circle cx="119.4" cy="38.4" r="0.85"/>
<circle cx="121.4" cy="36.7" r="0.85"/>
<circle cx="111.9" cy="43.8" r="0.85"/>
<circle cx="114" cy="44.2" r="0.85"/>
<circle cx="116" cy="45.2" r="0.85"/>
<circle cx="118" cy="44.2" r="0.85"/>
<circle cx="119.7" cy="42.8" r="0.85"/>
<circle cx="121.4" cy="42.1" r="0.85"/>
<circle cx="122.1" cy="44.2" r="0.85"/>
<circle cx="122.8" cy="45.5" r="0.85"/>
<circle cx="113.3" cy="46.2" r="0.85"/>
<circle cx="115.3" cy="46.9" r="0.85"/>
<circle cx="110.9" cy="48.2" r="0.85"/>
<circle cx="119.4" cy="45.9" r="0.85"/>
<circle cx="117.3" cy="46.2" r="0.85"/>
<circle cx="82.1" cy="86.2" r="0.85"/>
<circle cx="80.7" cy="88" r="0.85"/>
<circle cx="83.8" cy="88.7" r="0.85"/>
<circle cx="86.9" cy="89.3" r="0.85"/>
<circle cx="79" cy="91.4" r="0.85"/>
<circle cx="82.1" cy="91.8" r="0.85"/>
<circle cx="85.5" cy="92.8" r="0.85"/>
<circle cx="78.3" cy="94.2" r="0.85"/>
<circle cx="81.7" cy="94.9" r="0.85"/>
<circle cx="84.2" cy="95.6" r="0.85"/>
<circle cx="88" cy="94.5" r="0.85"/>
<circle cx="90" cy="90.7" r="0.85"/>
<circle cx="90.7" cy="93.2" r="0.85"/>
<circle cx="93.2" cy="92.1" r="0.85"/>
<circle cx="92.5" cy="94.9" r="0.85"/>
<circle cx="90" cy="96.3" r="0.85"/>
<circle cx="94.2" cy="96.6" r="0.85"/>
<circle cx="91.8" cy="98.3" r="0.85"/>
<circle cx="90" cy="99" r="0.85"/>
<circle cx="96.3" cy="86.6" r="0.85"/>
<circle cx="96.3" cy="89.3" r="0.85"/>
<circle cx="99" cy="90.4" r="0.85"/>
<circle cx="101.8" cy="90" r="0.85"/>
<circle cx="96.3" cy="92.8" r="0.85"/>
<circle cx="98" cy="93.8" r="0.85"/>
<circle cx="100.8" cy="95.2" r="0.85"/>
<circle cx="97" cy="96.6" r="0.85"/>
<circle cx="99.4" cy="98" r="0.85"/>
<circle cx="98.4" cy="100.4" r="0.85"/>
<circle cx="100.1" cy="101.8" r="0.85"/>
<circle cx="92.8" cy="102.2" r="0.85"/>
<circle cx="95.2" cy="100.8" r="0.85"/>
<circle cx="87.6" cy="92.5" r="0.85"/>
<circle cx="82.8" cy="93.5" r="0.85"/>
<circle cx="135.8" cy="130.9" r="0.85"/>
<circle cx="133.4" cy="136.1" r="0.85"/>
<circle cx="136.6" cy="136.5" r="0.85"/>
<circle cx="138.6" cy="137.3" r="0.85"/>
<circle cx="135.4" cy="138.2" r="0.85"/>
<circle cx="137.4" cy="140.2" r="0.85"/>
<circle cx="137.4" cy="143.4" r="0.85"/>
<circle cx="136.2" cy="146.3" r="0.85"/>
<circle cx="135.4" cy="149.9" r="0.85"/>
<circle cx="139.9" cy="149.5" r="0.85"/>
<circle cx="140.7" cy="146.3" r="0.85"/>
<circle cx="141.1" cy="143.4" r="0.85"/>
<circle cx="142.7" cy="141.8" r="0.85"/>
<circle cx="144.3" cy="140.6" r="0.85"/>
<circle cx="143.9" cy="138.6" r="0.85"/>
<circle cx="147.2" cy="136.9" r="0.85"/>
<circle cx="149.2" cy="137.3" r="0.85"/>
<circle cx="151.2" cy="134.5" r="0.85"/>
<circle cx="151.6" cy="137.8" r="0.85"/>
<circle cx="153.6" cy="139.4" r="0.85"/>
<circle cx="149.6" cy="140.2" r="0.85"/>
<circle cx="146.7" cy="143" r="0.85"/>
<circle cx="142.7" cy="145.4" r="0.85"/>
<circle cx="142.3" cy="148.7" r="0.85"/>
<circle cx="148" cy="145.8" r="0.85"/>
<circle cx="146.3" cy="147.9" r="0.85"/>
<circle cx="148.8" cy="147.9" r="0.85"/>
<circle cx="150" cy="150.3" r="0.85"/>
<circle cx="152" cy="148.3" r="0.85"/>
<circle cx="155.2" cy="149.5" r="0.85"/>
<circle cx="153.2" cy="152.3" r="0.85"/>
<circle cx="150.8" cy="151.5" r="0.85"/>
<circle cx="148.4" cy="150.7" r="0.85"/>
<circle cx="141.9" cy="151.9" r="0.85"/>
<circle cx="142.3" cy="155.2" r="0.85"/>
<circle cx="140.3" cy="157.2" r="0.85"/>
<circle cx="142.7" cy="157.2" r="0.85"/>
<circle cx="144.3" cy="158.4" r="0.85"/>
<circle cx="152.4" cy="156.8" r="0.85"/>
<circle cx="154.4" cy="159.2" r="0.85"/>
<circle cx="144.7" cy="161.7" r="0.85"/>
<circle cx="145.1" cy="164.1" r="0.85"/>
<circle cx="148" cy="165.3" r="0.85"/>
<circle cx="145.9" cy="166.9" r="0.85"/>
<circle cx="143.1" cy="166.5" r="0.85"/>
<circle cx="146.7" cy="169.8" r="0.85"/>
<circle cx="138.2" cy="158" r="0.85"/>
<circle cx="141.5" cy="119.4" r="0.85"/>
<circle cx="144.2" cy="117.8" r="0.85"/>
<circle cx="147.2" cy="117.8" r="0.85"/>
<circle cx="149.9" cy="118.6" r="0.85"/>
<circle cx="153.4" cy="115.5" r="0.85"/>
<circle cx="153.8" cy="118.2" r="0.85"/>
<circle cx="156.5" cy="117.1" r="0.85"/>
<circle cx="158.8" cy="115.5" r="0.85"/>
<circle cx="161.8" cy="113.6" r="0.85"/>
<circle cx="162.2" cy="111.7" r="0.85"/>
<circle cx="164.6" cy="111.3" r="0.85"/>
<circle cx="166.5" cy="110.5" r="0.85"/>
<circle cx="168.8" cy="109.4" r="0.85"/>
<circle cx="164.9" cy="116.7" r="0.85"/>
<circle cx="167.2" cy="116.7" r="0.85"/>
<circle cx="169.6" cy="116.7" r="0.85"/>
<circle cx="166.5" cy="119.4" r="0.85"/>
<circle cx="168.8" cy="120.5" r="0.85"/>
<circle cx="158" cy="119.4" r="0.85"/>
<circle cx="160.3" cy="120.5" r="0.85"/>
<circle cx="161.1" cy="122.5" r="0.85"/>
<circle cx="154.2" cy="120.9" r="0.85"/>
<circle cx="156.5" cy="122.5" r="0.85"/>
<circle cx="150.7" cy="121.3" r="0.85"/>
<circle cx="151.8" cy="124" r="0.85"/>
<circle cx="155.3" cy="124" r="0.85"/>
<circle cx="157.6" cy="127.1" r="0.85"/>
<circle cx="155.7" cy="125.2" r="0.85"/>
<circle cx="159.6" cy="121.7" r="0.85"/>
<circle cx="30.3" cy="104.4" r="0.85"/>
<circle cx="33.3" cy="104.4" r="0.85"/>
<circle cx="34.6" cy="103.3" r="0.85"/>
<circle cx="33.3" cy="106" r="0.85"/>
<circle cx="36" cy="106.5" r="0.85"/>
<circle cx="38.4" cy="104.7" r="0.85"/>
<circle cx="39.5" cy="105.5" r="0.85"/>
<circle cx="38.9" cy="107.1" r="0.85"/>
<circle cx="37.3" cy="107.6" r="0.85"/>
<circle cx="40.5" cy="108.2" r="0.85"/>
<circle cx="42.2" cy="107.1" r="0.85"/>
<circle cx="42.7" cy="108.7" r="0.85"/>
<circle cx="43.8" cy="109.8" r="0.85"/>
<circle cx="45.9" cy="107.6" r="0.85"/>
<circle cx="30.1" cy="107.6" r="0.85"/>
<circle cx="34.1" cy="108.4" r="0.85"/>
<circle cx="37.9" cy="109" r="0.85"/>
<circle cx="40" cy="111.4" r="0.85"/>
<circle cx="37.9" cy="112.5" r="0.85"/>
<circle cx="39.5" cy="113.5" r="0.85"/>
<circle cx="41.6" cy="111.9" r="0.85"/>
<circle cx="41.1" cy="114.6" r="0.85"/>
<circle cx="43.2" cy="115.2" r="0.85"/>
<circle cx="42.2" cy="117.3" r="0.85"/>
<circle cx="43.2" cy="118.1" r="0.85"/>
<circle cx="38.9" cy="116.2" r="0.85"/>
<circle cx="37.3" cy="115.2" r="0.85"/>
<circle cx="34.6" cy="114.3" r="0.85"/>
<circle cx="33.5" cy="115.7" r="0.85"/>
<circle cx="32.5" cy="116.2" r="0.85"/>
<circle cx="31.1" cy="114.3" r="0.85"/>
<circle cx="28.7" cy="115.2" r="0.85"/>
<circle cx="26.3" cy="116.2" r="0.85"/>
<circle cx="34.1" cy="117.6" r="0.85"/>
<circle cx="39.5" cy="117.3" r="0.85"/>
<circle cx="35.7" cy="109.8" r="0.85"/>
<circle cx="33" cy="110.8" r="0.85"/>
<circle cx="43.2" cy="112.5" r="0.85"/>
<circle cx="98.1" cy="59.4" r="0.85"/>
<circle cx="93.2" cy="61.6" r="0.85"/>
<circle cx="95" cy="63" r="0.85"/>
<circle cx="97.2" cy="62.5" r="0.85"/>
<circle cx="99" cy="62.1" r="0.85"/>
<circle cx="100.3" cy="63.4" r="0.85"/>
<circle cx="96.3" cy="63.9" r="0.85"/>
<circle cx="87" cy="64.3" r="0.85"/>
<circle cx="89.7" cy="65.2" r="0.85"/>
<circle cx="91.9" cy="66.1" r="0.85"/>
<circle cx="93.7" cy="65.6" r="0.85"/>
<circle cx="95" cy="66.5" r="0.85"/>
<circle cx="97.6" cy="66.5" r="0.85"/>
<circle cx="99" cy="66.1" r="0.85"/>
<circle cx="114" cy="65.6" r="0.85"/>
<circle cx="118" cy="66.5" r="0.85"/>
<circle cx="110" cy="68.3" r="0.85"/>
<circle cx="112.2" cy="68.3" r="0.85"/>
<circle cx="115.3" cy="69.2" r="0.85"/>
<circle cx="118" cy="68.3" r="0.85"/>
<circle cx="119.8" cy="69.2" r="0.85"/>
<circle cx="108.2" cy="70" r="0.85"/>
<circle cx="111.8" cy="70.9" r="0.85"/>
<circle cx="114.4" cy="71.4" r="0.85"/>
<circle cx="106" cy="72.3" r="0.85"/>
<circle cx="108.2" cy="72.7" r="0.85"/>
<circle cx="110.9" cy="72.3" r="0.85"/>
<circle cx="100.7" cy="74" r="0.85"/>
<circle cx="103.4" cy="75.3" r="0.85"/>
<circle cx="105.6" cy="76.2" r="0.85"/>
<circle cx="113.6" cy="76.2" r="0.85"/>
<circle cx="115.3" cy="76.2" r="0.85"/>
<circle cx="118.9" cy="75.3" r="0.85"/>
<circle cx="121.5" cy="74" r="0.85"/>
<circle cx="103.8" cy="78.9" r="0.85"/>
<circle cx="106" cy="79.8" r="0.85"/>
<circle cx="108.2" cy="78.9" r="0.85"/>
<circle cx="110.9" cy="78.9" r="0.85"/>
<circle cx="105.2" cy="80.7" r="0.85"/>
<circle cx="120" cy="86.2" r="0.85"/>
<circle cx="124.4" cy="85" r="0.85"/>
<circle cx="122.9" cy="89.5" r="0.85"/>
<circle cx="121.4" cy="96.5" r="0.85"/>
<circle cx="127.2" cy="88.3" r="0.85"/>
<circle cx="118.1" cy="92.8" r="0.85"/>
<circle cx="124.8" cy="90.4" r="0.85"/>
<circle cx="119.9" cy="92.8" r="0.85"/>
<circle cx="126.4" cy="94.6" r="0.85"/>
<circle cx="125.5" cy="88.3" r="0.85"/>
<circle cx="116.2" cy="94.1" r="0.85"/>
<circle cx="126" cy="92.6" r="0.85"/>
<circle cx="122" cy="94" r="0.85"/>
<circle cx="139.4" cy="92.3" r="0.85"/>
<circle cx="137.6" cy="90.4" r="0.85"/>
<circle cx="135.4" cy="89.2" r="0.85"/>
<circle cx="139" cy="88.1" r="0.85"/>
<circle cx="141.5" cy="90.5" r="0.85"/>
<circle cx="107.6" cy="110.3" r="0.85"/>
<circle cx="111.8" cy="111.5" r="0.85"/>
<circle cx="106.2" cy="108.7" r="0.85"/>
<circle cx="104.2" cy="106.9" r="0.85"/>
<circle cx="103" cy="108.4" r="0.85"/>
<circle cx="108.7" cy="106.8" r="0.85"/>
<circle cx="105.9" cy="106.6" r="0.85"/>
<circle cx="75.4" cy="125.9" r="0.85"/>
<circle cx="74.6" cy="124.1" r="0.85"/>
<circle cx="78.3" cy="127.8" r="0.85"/>
<circle cx="75.9" cy="128.5" r="0.85"/>
<circle cx="73.7" cy="126.2" r="0.85"/>
<circle cx="139.2" cy="71.8" r="0.85"/>
<circle cx="141.6" cy="71.8" r="0.85"/>
<circle cx="70" cy="77.3" r="0.85"/>
<circle cx="72.4" cy="77.3" r="0.85"/>
<circle cx="142.5" cy="98.5" r="0.85"/>
<circle cx="51.1" cy="106.5" r="0.85"/>
<circle cx="56.8" cy="106.4" r="0.85"/>
<circle cx="95.7" cy="115.6" r="0.85"/>
<circle cx="121.5" cy="128" r="0.85"/>
<circle cx="79.4" cy="55.5" r="0.85"/>
<circle cx="86.3" cy="52.4" r="0.85"/>
<circle cx="88.5" cy="106.4" r="0.85"/>
<circle cx="102.9" cy="112.5" r="0.85"/>
<circle cx="104.6" cy="113.1" r="0.85"/>
<circle cx="116.7" cy="113.1" r="0.85"/>
<circle cx="115.6" cy="115.4" r="0.85"/>
<circle cx="114.4" cy="117.7" r="0.85"/>
<circle cx="120.8" cy="111.7" r="0.85"/>
<circle cx="123.1" cy="112.5" r="0.85"/>
<circle cx="105.8" cy="128.1" r="0.85"/>
<circle cx="106.9" cy="131.5" r="0.85"/>
<circle cx="107.9" cy="134.5" r="0.85"/>
<circle cx="32.7" cy="163.3" r="0.85"/>
<circle cx="117.1" cy="113.1" r="0.85"/>
<circle cx="124.1" cy="113.8" r="0.85"/>
</g>
<circle cx="120" cy="87.3" r="1.5" fill="#a02030"/>
<circle cx="124.6" cy="88.5" r="2.0" fill="#a02030"/>
<circle cx="122.3" cy="86.1" r="1.0" fill="#a02030"/>
<circle cx="123.5" cy="98.8" r="2.9" fill="#e8202a"/>
<circle cx="136.2" cy="89.6" r="2.8" fill="#e8202a"/>
<circle cx="137.9" cy="87.3" r="1.2" fill="#e8202a"/>
<circle cx="142.5" cy="98.3" r="1.0" fill="#c01020"/>
<circle cx="142.5" cy="98.5" r="2.4" fill="none" stroke="#d07890" stroke-width="0.5"/>
<g font-size="5.35" fill="#1a1a1a" stroke="#1a1a1a" stroke-width="0.17" font-family='"Liberation Sans", sans-serif'>
<text transform="translate(28.6,27.8) scale(0.935,1)">Metamyelocyte</text>
<text transform="translate(103.9,33.1) scale(0.935,1)">CD14<tspan dy="-1.8" font-size="3.4">+</tspan><tspan dy="1.8"> monocyte</tspan></text>
<text transform="translate(103.9,59.8) scale(0.935,1)">CD14<tspan dy="-1.8" font-size="3.4">lo</tspan><tspan dy="1.8"> monocyte</tspan></text>
<text transform="translate(122.9,64.5) scale(0.935,1)">Promonocyte</text>
<text transform="translate(145.5,75) scale(0.935,1)">Dendritic cell</text>
<text transform="translate(23,73.4) scale(0.935,1)">Mature granulocyte</text>
<text transform="translate(56.6,79) scale(0.935,1)">pDC</text>
<text transform="translate(125.3,80.8) scale(0.935,1)">Progenitor</text>
<text transform="translate(142.2,88.5) scale(0.935,1)">MPP</text>
<text transform="translate(35.2,91.2) scale(0.935,1)">Myelo/Monoblast</text>
<text transform="translate(13.8,97.9) scale(0.935,1)">Mature B cell</text>
<text transform="translate(43,102) scale(0.935,1)">Pre B2</text>
<text transform="translate(59.5,105.2) scale(0.935,1)">Pre B1</text>
<text transform="translate(149.3,101) scale(0.935,1)">HSC</text>
<text transform="translate(115.1,107.2) scale(0.935,1)">Promyelocyte</text>
<text transform="translate(47.6,119.2) scale(0.935,1)">Proerythroblast</text>
<text transform="translate(85.2,123.7) scale(0.935,1)">Plt / atypical AML</text>
<text transform="translate(165.6,129.8) scale(0.935,1)">NK cell</text>
<text transform="translate(111.1,134.3) scale(0.935,1)">Plasma</text>
<text transform="translate(111.1,138.9) scale(0.935,1)">cell</text>
<text transform="translate(19.7,147.8) scale(0.935,1)">Erythroblast</text>
<text transform="translate(83.2,161.5) scale(0.935,1)">Basophil</text>
<text transform="translate(129.6,174.4) scale(0.935,1)">T cell</text>
</g>
<defs><linearGradient id="cb56843" x1="0" y1="0" x2="0" y2="1"><stop offset="0" stop-color="#1a1a50"/><stop offset="0.2" stop-color="#1d5a5a"/><stop offset="0.4" stop-color="#3a8a40"/><stop offset="0.6" stop-color="#d8d848"/><stop offset="0.8" stop-color="#f0c040"/><stop offset="1" stop-color="#e8702a"/></linearGradient></defs>
<line x1="19.4" y1="12.2" x2="19.4" y2="15" stroke="#222" stroke-width="0.5"/>
<circle cx="19.4" cy="12.3" r="0.45" fill="#222"/>
<circle cx="19.0" cy="17.2" r="2.5" fill="#1c0c26"/>
<rect x="18.5" y="20.2" width="1.6" height="17" fill="url(#cb56843)"/>
<g font-family='"Liberation Sans", sans-serif' font-size="4.2" fill="#1a1a1a" stroke="#1a1a1a" stroke-width="0.22">
<text transform="translate(23.6,13.8) scale(0.86,1)" font-size="4.7">1 cell</text>
<text transform="translate(23.6,18.8) scale(0.86,1)" font-size="4.7">56,843 cells</text>
<text x="22.5" y="23.8" font-size="4.6" fill="#33339a">0</text>
<text x="21.8" y="38.2" font-size="4.6" fill="#333">2.71</text>
</g>
<text x="94.3" y="9.5" text-anchor="middle" font-family='"Liberation Sans", sans-serif' font-size="8.85" fill="#2a2a2a" stroke="#2a2a2a" stroke-width="0.12">AML19 (ARK–AML)</text>
</g>
<text x="0.6" y="377.3" font-family='"Liberation Sans", sans-serif' font-weight="bold" font-size="12" fill="#111">B</text>
<rect x="19.9" y="412.2" width="35.40" height="124.32" fill="#050303"/>
<rect x="19.9" y="412.2" width="6.30" height="6.32" fill="#060303"/>
<rect x="25.8" y="412.2" width="6.30" height="6.32" fill="#2a0608"/>
<rect x="31.7" y="412.2" width="6.30" height="6.32" fill="#f0202a"/>
<rect x="37.6" y="412.2" width="6.30" height="6.32" fill="#f0202a"/>
<rect x="43.5" y="412.2" width="6.30" height="6.32" fill="#061a0a"/>
<rect x="49.4" y="412.2" width="6.30" height="6.32" fill="#061a0a"/>
<rect x="19.9" y="418.1" width="6.30" height="6.32" fill="#0d3a18"/>
<rect x="25.8" y="418.1" width="6.30" height="6.32" fill="#2a0608"/>
<rect x="31.7" y="418.1" width="6.30" height="6.32" fill="#f0202a"/>
<rect x="37.6" y="418.1" width="6.30" height="6.32" fill="#c01a22"/>
<rect x="43.5" y="418.1" width="6.30" height="6.32" fill="#0d3a18"/>
<rect x="49.4" y="418.1" width="6.30" height="6.32" fill="#0d3a18"/>
<rect x="19.9" y="424" width="6.30" height="6.32" fill="#1c7a34"/>
<rect x="25.8" y="424" width="6.30" height="6.32" fill="#1c7a34"/>
<rect x="31.7" y="424" width="6.30" height="6.32" fill="#f0202a"/>
<rect x="37.6" y="424" width="6.30" height="6.32" fill="#060303"/>
<rect x="43.5" y="424" width="6.30" height="6.32" fill="#761216"/>
<rect x="49.4" y="424" width="6.30" height="6.32" fill="#2a0608"/>
<rect x="19.9" y="430" width="6.30" height="6.32" fill="#061a0a"/>
<rect x="25.8" y="430" width="6.30" height="6.32" fill="#2a0608"/>
<rect x="31.7" y="430" width="6.30" height="6.32" fill="#060303"/>
<rect x="37.6" y="430" width="6.30" height="6.32" fill="#f0202a"/>
<rect x="43.5" y="430" width="6.30" height="6.32" fill="#060303"/>
<rect x="49.4" y="430" width="6.30" height="6.32" fill="#0d3a18"/>
<rect x="19.9" y="435.9" width="6.30" height="6.32" fill="#061a0a"/>
<rect x="25.8" y="435.9" width="6.30" height="6.32" fill="#2a0608"/>
<rect x="31.7" y="435.9" width="6.30" height="6.32" fill="#061a0a"/>
<rect x="37.6" y="435.9" width="6.30" height="6.32" fill="#061a0a"/>
<rect x="43.5" y="435.9" width="6.30" height="6.32" fill="#761216"/>
<rect x="49.4" y="435.9" width="6.30" height="6.32" fill="#f0202a"/>
<rect x="19.9" y="441.8" width="6.30" height="6.32" fill="#1c7a34"/>
<rect x="25.8" y="441.8" width="6.30" height="6.32" fill="#0d3a18"/>
<rect x="31.7" y="441.8" width="6.30" height="6.32" fill="#060303"/>
<rect x="37.6" y="441.8" width="6.30" height="6.32" fill="#061a0a"/>
<rect x="43.5" y="441.8" width="6.30" height="6.32" fill="#761216"/>
<rect x="49.4" y="441.8" width="6.30" height="6.32" fill="#c01a22"/>
<rect x="19.9" y="447.7" width="6.30" height="6.32" fill="#0d3a18"/>
<rect x="25.8" y="447.7" width="6.30" height="6.32" fill="#060303"/>
<rect x="31.7" y="447.7" width="6.30" height="6.32" fill="#f0202a"/>
<rect x="37.6" y="447.7" width="6.30" height="6.32" fill="#060303"/>
<rect x="43.5" y="447.7" width="6.30" height="6.32" fill="#761216"/>
<rect x="49.4" y="447.7" width="6.30" height="6.32" fill="#0d3a18"/>
<rect x="19.9" y="453.6" width="6.30" height="6.32" fill="#060303"/>
<rect x="25.8" y="453.6" width="6.30" height="6.32" fill="#060303"/>
<rect x="31.7" y="453.6" width="6.30" height="6.32" fill="#2a0608"/>
<rect x="37.6" y="453.6" width="6.30" height="6.32" fill="#060303"/>
<rect x="43.5" y="453.6" width="6.30" height="6.32" fill="#f0202a"/>
<rect x="49.4" y="453.6" width="6.30" height="6.32" fill="#061a0a"/>
<rect x="19.9" y="459.6" width="6.30" height="6.32" fill="#060303"/>
<rect x="25.8" y="459.6" width="6.30" height="6.32" fill="#060303"/>
<rect x="31.7" y="459.6" width="6.30" height="6.32" fill="#0d3a18"/>
<rect x="37.6" y="459.6" width="6.30" height="6.32" fill="#761216"/>
<rect x="43.5" y="459.6" width="6.30" height="6.32" fill="#f0202a"/>
<rect x="49.4" y="459.6" width="6.30" height="6.32" fill="#1c7a34"/>
<rect x="19.9" y="465.5" width="6.30" height="6.32" fill="#761216"/>
<rect x="25.8" y="465.5" width="6.30" height="6.32" fill="#0d3a18"/>
<rect x="31.7" y="465.5" width="6.30" height="6.32" fill="#060303"/>
<rect x="37.6" y="465.5" width="6.30" height="6.32" fill="#f0202a"/>
<rect x="43.5" y="465.5" width="6.30" height="6.32" fill="#061a0a"/>
<rect x="49.4" y="465.5" width="6.30" height="6.32" fill="#0d3a18"/>
<rect x="19.9" y="471.4" width="6.30" height="6.32" fill="#f0202a"/>
<rect x="25.8" y="471.4" width="6.30" height="6.32" fill="#060303"/>
<rect x="31.7" y="471.4" width="6.30" height="6.32" fill="#2a0608"/>
<rect x="37.6" y="471.4" width="6.30" height="6.32" fill="#761216"/>
<rect x="43.5" y="471.4" width="6.30" height="6.32" fill="#0d3a18"/>
<rect x="49.4" y="471.4" width="6.30" height="6.32" fill="#0d3a18"/>
<rect x="19.9" y="477.3" width="6.30" height="6.32" fill="#f0202a"/>
<rect x="25.8" y="477.3" width="6.30" height="6.32" fill="#3e0a0c"/>
<rect x="31.7" y="477.3" width="6.30" height="6.32" fill="#060303"/>
<rect x="37.6" y="477.3" width="6.30" height="6.32" fill="#060303"/>
<rect x="43.5" y="477.3" width="6.30" height="6.32" fill="#061a0a"/>
<rect x="49.4" y="477.3" width="6.30" height="6.32" fill="#0d3a18"/>
<rect x="19.9" y="483.2" width="6.30" height="6.32" fill="#f0202a"/>
<rect x="25.8" y="483.2" width="6.30" height="6.32" fill="#2a0608"/>
<rect x="31.7" y="483.2" width="6.30" height="6.32" fill="#060303"/>
<rect x="37.6" y="483.2" width="6.30" height="6.32" fill="#060303"/>
<rect x="43.5" y="483.2" width="6.30" height="6.32" fill="#060303"/>
<rect x="49.4" y="483.2" width="6.30" height="6.32" fill="#060303"/>
<rect x="19.9" y="489.2" width="6.30" height="6.32" fill="#761216"/>
<rect x="25.8" y="489.2" width="6.30" height="6.32" fill="#761216"/>
<rect x="31.7" y="489.2" width="6.30" height="6.32" fill="#2a0608"/>
<rect x="37.6" y="489.2" width="6.30" height="6.32" fill="#1c7a34"/>
<rect x="43.5" y="489.2" width="6.30" height="6.32" fill="#061a0a"/>
<rect x="49.4" y="489.2" width="6.30" height="6.32" fill="#1c7a34"/>
<rect x="19.9" y="495.1" width="6.30" height="6.32" fill="#060303"/>
<rect x="25.8" y="495.1" width="6.30" height="6.32" fill="#3e0a0c"/>
<rect x="31.7" y="495.1" width="6.30" height="6.32" fill="#2a0608"/>
<rect x="37.6" y="495.1" width="6.30" height="6.32" fill="#28c050"/>
<rect x="43.5" y="495.1" width="6.30" height="6.32" fill="#060303"/>
<rect x="49.4" y="495.1" width="6.30" height="6.32" fill="#28c050"/>
<rect x="19.9" y="501" width="6.30" height="6.32" fill="#061a0a"/>
<rect x="25.8" y="501" width="6.30" height="6.32" fill="#f0202a"/>
<rect x="31.7" y="501" width="6.30" height="6.32" fill="#060303"/>
<rect x="37.6" y="501" width="6.30" height="6.32" fill="#0d3a18"/>
<rect x="43.5" y="501" width="6.30" height="6.32" fill="#060303"/>
<rect x="49.4" y="501" width="6.30" height="6.32" fill="#0d3a18"/>
<rect x="19.9" y="506.9" width="6.30" height="6.32" fill="#f0202a"/>
<rect x="25.8" y="506.9" width="6.30" height="6.32" fill="#3e0a0c"/>
<rect x="31.7" y="506.9" width="6.30" height="6.32" fill="#060303"/>
<rect x="37.6" y="506.9" width="6.30" height="6.32" fill="#060303"/>
<rect x="43.5" y="506.9" width="6.30" height="6.32" fill="#060303"/>
<rect x="49.4" y="506.9" width="6.30" height="6.32" fill="#061a0a"/>
<rect x="19.9" y="512.8" width="6.30" height="6.32" fill="#2a0608"/>
<rect x="25.8" y="512.8" width="6.30" height="6.32" fill="#f0202a"/>
<rect x="31.7" y="512.8" width="6.30" height="6.32" fill="#0d3a18"/>
<rect x="37.6" y="512.8" width="6.30" height="6.32" fill="#761216"/>
<rect x="43.5" y="512.8" width="6.30" height="6.32" fill="#1c7a34"/>
<rect x="49.4" y="512.8" width="6.30" height="6.32" fill="#1c7a34"/>
<rect x="19.9" y="518.8" width="6.30" height="6.32" fill="#060303"/>
<rect x="25.8" y="518.8" width="6.30" height="6.32" fill="#761216"/>
<rect x="31.7" y="518.8" width="6.30" height="6.32" fill="#f0202a"/>
<rect x="37.6" y="518.8" width="6.30" height="6.32" fill="#060303"/>
<rect x="43.5" y="518.8" width="6.30" height="6.32" fill="#2a0608"/>
<rect x="49.4" y="518.8" width="6.30" height="6.32" fill="#061a0a"/>
<rect x="19.9" y="524.7" width="6.30" height="6.32" fill="#060303"/>
<rect x="25.8" y="524.7" width="6.30" height="6.32" fill="#f0202a"/>
<rect x="31.7" y="524.7" width="6.30" height="6.32" fill="#2a0608"/>
<rect x="37.6" y="524.7" width="6.30" height="6.32" fill="#060303"/>
<rect x="43.5" y="524.7" width="6.30" height="6.32" fill="#060303"/>
<rect x="49.4" y="524.7" width="6.30" height="6.32" fill="#0d3a18"/>
<rect x="19.9" y="530.6" width="6.30" height="6.32" fill="#060303"/>
<rect x="25.8" y="530.6" width="6.30" height="6.32" fill="#f0202a"/>
<rect x="31.7" y="530.6" width="6.30" height="6.32" fill="#060303"/>
<rect x="37.6" y="530.6" width="6.30" height="6.32" fill="#0d3a18"/>
<rect x="43.5" y="530.6" width="6.30" height="6.32" fill="#0d3a18"/>
<rect x="49.4" y="530.6" width="6.30" height="6.32" fill="#060303"/>
<g font-family='"Liberation Sans", sans-serif' font-size="5.6" fill="#1a1a1a" stroke="#1a1a1a" stroke-width="0.15">
<text x="57.4" y="417.2">HSC</text>
<text x="57.4" y="423.1">MPP</text>
<text x="57.4" y="429">CMP</text>
<text x="57.4" y="434.9">GMP</text>
<text x="57.4" y="440.8">CD34<tspan dy="-1.5" font-size="3.6">−</tspan><tspan dy="1.5">CD38</tspan><tspan dy="-1.5" font-size="3.6">+</tspan><tspan dy="1.5"> undiff.</tspan></text>
<text x="57.4" y="446.8">Myelo/monoblast</text>
<text x="57.4" y="452.7">Promonocyte</text>
<text x="57.4" y="458.6">CD14<tspan dy="-1.5" font-size="3.6">−</tspan><tspan dy="1.5"> monocyte</tspan></text>
<text x="57.4" y="464.5">CD14<tspan dy="-1.5" font-size="3.6">+</tspan><tspan dy="1.5"> monocyte</tspan></text>
<text x="57.4" y="470.4">Promyelocyte</text>
<text x="57.4" y="476.4">Myelocyte</text>
<text x="57.4" y="482.3">Metamyelocyte</text>
<text x="57.4" y="488.2">Mature granulocyte</text>
<text x="57.4" y="494.1">Proerythroblast</text>
<text x="57.4" y="500">Erythroblast</text>
<text x="57.4" y="506">Late erythroblast</text>
<text x="57.4" y="511.9">Pre-B cell</text>
<text x="57.4" y="517.8">Mature B cell</text>
<text x="57.4" y="523.7">Plasma</text>
<text x="57.4" y="529.6">T cells</text>
<text x="57.4" y="535.6">NK cells</text>
</g>
<g stroke="#555" stroke-width="0.6" fill="none">
<path d="M22.8,412.2 V383.3 H28.8 V412.2"/>
<path d="M34.6,412.2 V384.3 H40.5 V412.2"/>
<path d="M46.5,412.2 V390.3 H52.4 V412.2"/>
<path d="M37.6,384.3 V374.5 H49.4 V390.3"/>
<path d="M25.8,383.3 V366.8 H43.5 V374.5"/>
</g>
<g font-family='"Liberation Sans", sans-serif' font-size="5.7" fill="#1a1a1a" stroke="#1a1a1a" stroke-width="0.15">
<text transform="translate(20.9,539) rotate(90)" x="0" y="0">Normal</text>
<text transform="translate(26.9,539) rotate(90)" x="0" y="0">NK–AML, FLT3<tspan dy="-1.8" font-size="3.6">WT</tspan></text>
<text transform="translate(32.8,539) rotate(90)" x="0" y="0">ARK–AML</text>
<text transform="translate(38.6,539) rotate(90)" x="0" y="0">CBF–AML</text>
<text transform="translate(44.6,539) rotate(90)" x="0" y="0">NK–AML, FLT3-ITD</text>
<text transform="translate(50.5,539) rotate(90)" x="0" y="0">APL</text>
</g>
<text x="160.6" y="377.3" font-family='"Liberation Sans", sans-serif' font-weight="bold" font-size="11.6" fill="#111">C</text>
<rect x="176.6" y="366.9" width="335.6" height="224" fill="none" stroke="#cfcfcf" stroke-width="0.9"/>
<text x="346.5" y="380.8" text-anchor="middle" font-family='"Liberation Sans", sans-serif' font-size="8.7" fill="#222" stroke="#222" stroke-width="0.1">Cell frequency (%)</text>
<g stroke="#dddddd" stroke-width="0.7">
<line x1="260.5" y1="385" x2="260.5" y2="561.5"/>
<line x1="321.4" y1="385" x2="321.4" y2="561.5"/>
<line x1="382.3" y1="385" x2="382.3" y2="561.5"/>
<line x1="443.2" y1="385" x2="443.2" y2="561.5"/>
<line x1="504.1" y1="385" x2="504.1" y2="561.5"/>
</g>
<line x1="199.6" y1="385" x2="199.6" y2="561.5" stroke="#555" stroke-width="0.75"/>
<rect x="199.6" y="391.1" width="18.27" height="5.45" fill="#23358f"/>
<line x1="217.9" y1="393.8" x2="225.2" y2="393.8" stroke="#aaa" stroke-width="0.6"/>
<rect x="199.6" y="396.8" width="0.61" height="5.45" fill="#e0406a"/>
<rect x="199.6" y="402.5" width="0.61" height="5.45" fill="#ee7f2a"/>
<rect x="199.6" y="408.2" width="5.48" height="5.45" fill="#f1e43a"/>
<line x1="205.1" y1="410.9" x2="210.6" y2="410.9" stroke="#aaa" stroke-width="0.6"/>
<rect x="199.6" y="413.9" width="18.27" height="5.45" fill="#000000"/>
<line x1="217.9" y1="416.6" x2="225.2" y2="416.6" stroke="#aaa" stroke-width="0.6"/>
<text x="195.2" y="410.4" text-anchor="end" font-family='"Liberation Sans", sans-serif' font-size="6.7" fill="#222">HSC</text>
<rect x="199.6" y="436.5" width="60.90" height="5.45" fill="#23358f"/>
<line x1="260.5" y1="439.2" x2="288.5" y2="439.2" stroke="#aaa" stroke-width="0.6"/>
<rect x="199.6" y="442.2" width="1.22" height="5.45" fill="#e0406a"/>
<rect x="199.6" y="447.9" width="8.53" height="5.45" fill="#ee7f2a"/>
<line x1="208.1" y1="450.6" x2="214.2" y2="450.6" stroke="#aaa" stroke-width="0.6"/>
<rect x="199.6" y="453.6" width="26.80" height="5.45" fill="#f1e43a"/>
<line x1="226.4" y1="456.3" x2="239.8" y2="456.3" stroke="#aaa" stroke-width="0.6"/>
<rect x="199.6" y="459.3" width="75.52" height="5.45" fill="#000000"/>
<line x1="275.1" y1="462" x2="305.6" y2="462" stroke="#aaa" stroke-width="0.6"/>
<text x="195.2" y="455.8" text-anchor="end" font-family='"Liberation Sans", sans-serif' font-size="6.7" fill="#222">MPP</text>
<rect x="199.6" y="481.9" width="60.90" height="5.45" fill="#23358f"/>
<line x1="260.5" y1="484.6" x2="297" y2="484.6" stroke="#aaa" stroke-width="0.6"/>
<rect x="199.6" y="487.6" width="23.14" height="5.45" fill="#e0406a"/>
<line x1="222.7" y1="490.3" x2="242.2" y2="490.3" stroke="#aaa" stroke-width="0.6"/>
<rect x="199.6" y="493.3" width="97.44" height="5.45" fill="#ee7f2a"/>
<line x1="297" y1="496" x2="347" y2="496" stroke="#aaa" stroke-width="0.6"/>
<rect x="199.6" y="499" width="7.92" height="5.45" fill="#f1e43a"/>
<line x1="207.5" y1="501.7" x2="215.4" y2="501.7" stroke="#aaa" stroke-width="0.6"/>
<rect x="199.6" y="504.7" width="151.03" height="5.45" fill="#000000"/>
<line x1="350.6" y1="507.4" x2="438.3" y2="507.4" stroke="#aaa" stroke-width="0.6"/>
<rect x="199.6" y="510.4" width="0.61" height="5.45" fill="#1a8a40"/>
<text x="195.2" y="501.2" text-anchor="end" font-family='"Liberation Sans", sans-serif' font-size="6.7" fill="#222">CMP</text>
<rect x="199.6" y="527.3" width="243.60" height="5.45" fill="#23358f"/>
<line x1="443.2" y1="530" x2="484.6" y2="530" stroke="#aaa" stroke-width="0.6"/>
<rect x="199.6" y="533" width="4.26" height="5.45" fill="#e0406a"/>
<line x1="203.9" y1="535.7" x2="206.9" y2="535.7" stroke="#aaa" stroke-width="0.6"/>
<rect x="199.6" y="538.7" width="12.18" height="5.45" fill="#ee7f2a"/>
<line x1="211.8" y1="541.4" x2="222.7" y2="541.4" stroke="#aaa" stroke-width="0.6"/>
<rect x="199.6" y="544.4" width="56.03" height="5.45" fill="#f1e43a"/>
<line x1="255.6" y1="547.1" x2="278.8" y2="547.1" stroke="#aaa" stroke-width="0.6"/>
<rect x="199.6" y="550.1" width="35.32" height="5.45" fill="#000000"/>
<line x1="234.9" y1="552.8" x2="245.9" y2="552.8" stroke="#aaa" stroke-width="0.6"/>
<rect x="199.6" y="555.8" width="1.46" height="5.45" fill="#1a8a40"/>
<text x="195.2" y="546.6" text-anchor="end" font-family='"Liberation Sans", sans-serif' font-size="6.7" fill="#222">GMP</text>
<g font-family='"Liberation Sans", sans-serif' font-size="7" fill="#222" text-anchor="middle">
<text x="199.6" y="575">0</text>
<text x="260.5" y="575">5</text>
<text x="321.4" y="575">10</text>
<text x="382.3" y="575">15</text>
<text x="443.2" y="575">20</text>
<text x="504.1" y="575">25</text>
</g>
<g font-family='"Liberation Sans", sans-serif' font-size="5.6" fill="#222" stroke="#222" stroke-width="0.15">
<rect x="465.2" y="390.2" width="2.7" height="2.7" fill="#23358f"/>
<text x="471" y="393.4">CBF–AML</text>
<text x="471" y="400.3">(<tspan font-style="italic">n</tspan> = 5)</text>
<rect x="465.2" y="414" width="2.7" height="2.7" fill="#e0406a"/>
<text x="471" y="417.2">APL (<tspan font-style="italic">n</tspan> = 4)</text>
<rect x="465.2" y="438.2" width="2.7" height="2.7" fill="#ee7f2a"/>
<text x="471" y="441.4">NK–FLT3-</text>
<text x="471" y="448.3">ITD (<tspan font-style="italic">n</tspan> = 11)</text>
<rect x="465.2" y="461.3" width="2.7" height="2.7" fill="#f1e43a"/>
<text x="471" y="464.5">NK–FLT3<tspan dy="-1.6" font-size="3.4">WT</tspan></text>
<text x="471" y="471.4">(<tspan font-style="italic">n</tspan> = 6)</text>
<rect x="465.2" y="485.2" width="2.7" height="2.7" fill="#000000"/>
<text x="471" y="488.4">Adverse-</text>
<text x="471" y="495.3">risk (<tspan font-style="italic">n</tspan> = 6)</text>
<rect x="465.2" y="508.6" width="2.7" height="2.7" fill="#1a8a40"/>
<text x="471" y="511.8">Normal</text>
<text x="471" y="518.7">(<tspan font-style="italic">n</tspan> = 14*)</text>
</g>
</svg>
</body></html>
